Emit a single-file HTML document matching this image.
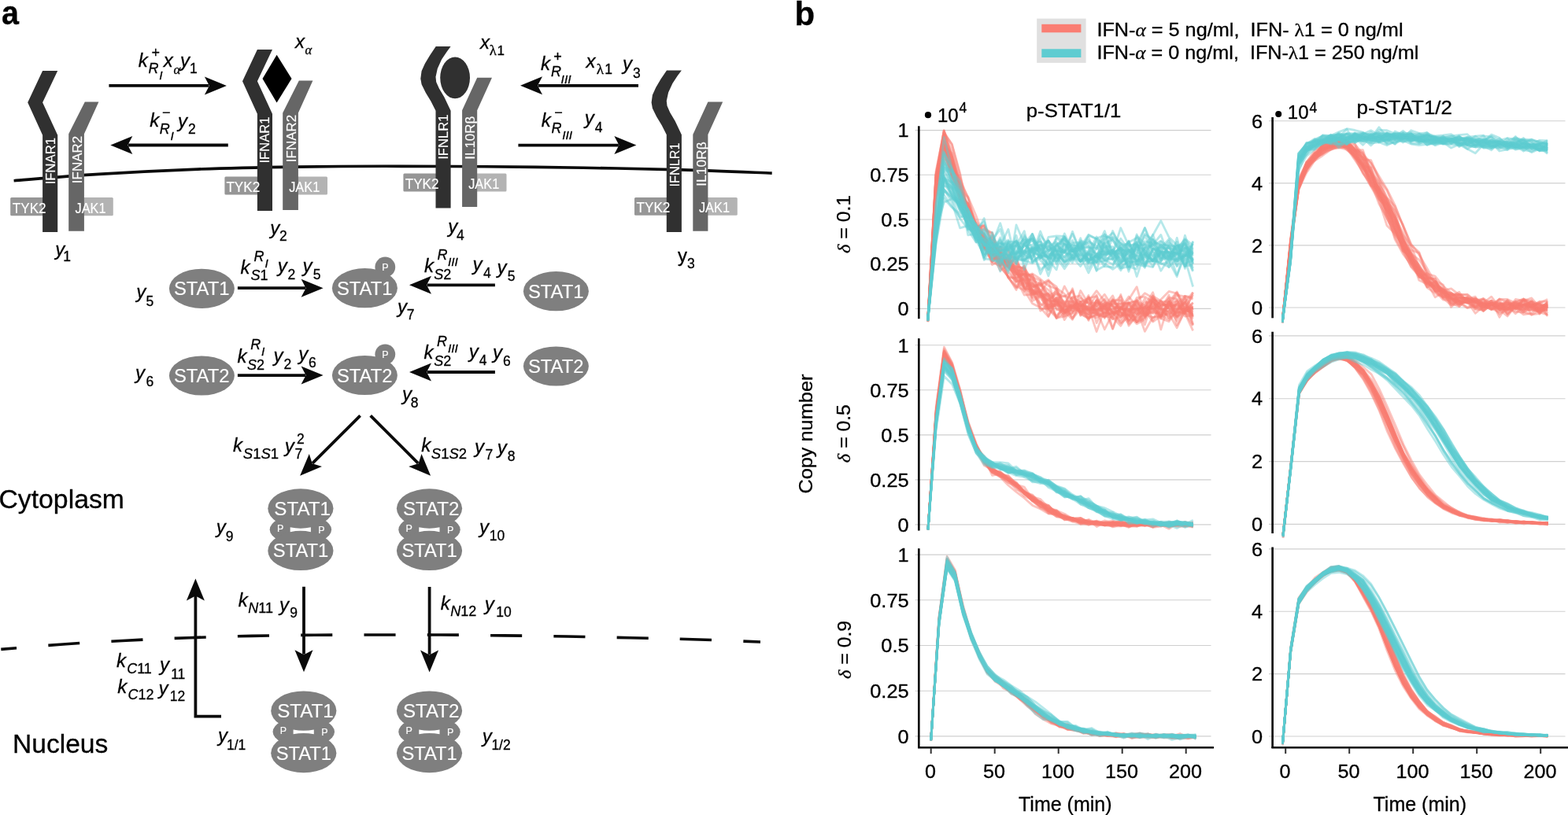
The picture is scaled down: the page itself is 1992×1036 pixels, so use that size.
<!DOCTYPE html>
<html><head><meta charset="utf-8"><title>Figure</title>
<style>html,body{margin:0;padding:0;background:#fff;}svg{display:block;} text{stroke:#000;stroke-width:0.3px;} text[fill="#fff"]{stroke:#fff;stroke-width:0.15px;}</style>
</head><body>
<svg width="1992" height="1036" viewBox="0 0 1992 1036" font-family='"Liberation Sans", Arial, Helvetica, sans-serif'>
<rect width="1992" height="1036" fill="#fff"/>
<path d="M17.6,229.7 C35.6,228.3 86.6,223.8 125.5,221.4 C164.4,219.0 209.2,216.7 251.0,215.1 C292.8,213.5 336.7,212.7 376.5,212.1 C416.3,211.5 450.2,211.4 490.0,211.3 C529.8,211.2 573.7,211.5 615.5,211.8 C657.3,212.1 699.2,212.6 741.0,213.3 C782.8,214.0 826.5,214.8 866.5,215.9 C906.5,217.0 961.7,219.4 980.7,220.1" fill="none" stroke="#0a0a0a" stroke-width="3.6"/>
<rect x="13.2" y="251.1" width="46.8" height="23.2" rx="1.5" fill="#969696"/>
<rect x="100.0" y="251.1" width="43.8" height="23.2" rx="1.5" fill="#b3b3b3"/>
<rect x="285.4" y="224.6" width="47.6" height="23.0" rx="1.5" fill="#969696"/>
<rect x="372.0" y="224.6" width="44.0" height="23.0" rx="1.5" fill="#b3b3b3"/>
<rect x="512.4" y="220.5" width="47.6" height="23.0" rx="1.5" fill="#969696"/>
<rect x="600.0" y="220.5" width="43.5" height="23.0" rx="1.5" fill="#b3b3b3"/>
<rect x="806.0" y="250.9" width="47.0" height="22.9" rx="1.5" fill="#969696"/>
<rect x="893.0" y="250.9" width="43.8" height="22.9" rx="1.5" fill="#b3b3b3"/>
<polygon points="54.1,90.0 73.2,90.0 54.1,130.2 73.2,171.8 73.2,295.0 54.1,295.0 54.1,171.8 35.2,130.2" fill="#303030"/>
<polygon points="107.8,129.4 125.4,129.4 106.9,170.3 106.9,293.8 87.2,293.8 87.2,170.3" fill="#666666"/>
<polygon points="326.9,63.0 346.0,63.0 326.9,103.2 346.0,144.8 346.0,268.0 326.9,268.0 326.9,144.8 308.0,103.2" fill="#303030"/>
<polygon points="379.8,102.6 397.4,102.6 378.9,143.5 378.9,267.0 359.2,267.0 359.2,143.5" fill="#666666"/>
<polygon points="553.7,59.0 572.6,59.0 567.5,65.9 561.1,75.5 555.8,87.2 553.5,97.8 554.2,104.2 557.9,112.6 564.3,123.3 572.6,140.8 572.6,264.6 553.5,264.6 553.5,140.8 547.3,128.6 540.9,118.0 535.6,107.3 534.3,99.9 535.6,90.3 539.9,80.8 546.2,70.2" fill="#303030"/>
<polygon points="606.2,98.8 625.0,98.8 606.2,140.3 606.2,263.0 587.1,263.0 587.1,140.3" fill="#666666"/>
<polygon points="847.0,89.4 865.9,89.4 860.8,96.3 854.4,105.9 849.1,117.6 846.8,128.2 847.5,134.6 851.2,143.0 857.6,153.7 865.9,171.2 865.9,295.0 846.8,295.0 846.8,171.2 840.6,159.0 834.2,148.4 828.9,137.7 827.6,130.3 828.9,120.7 833.2,111.2 839.5,100.6" fill="#303030"/>
<polygon points="899.4,129.5 918.2,129.5 899.4,171.0 899.4,293.7 880.3,293.7 880.3,171.0" fill="#666666"/>
<polygon points="351.6,69.7 370.5,100.0 351.6,130.5 333.5,100.0" fill="#000"/>
<ellipse cx="578.1" cy="98.8" rx="18.9" ry="26.4" fill="#303030"/>
<text x="15.8" y="270.8" font-size="17.5" fill="#fff" textLength="42.8" lengthAdjust="spacingAndGlyphs">TYK2</text>
<text x="95.5" y="270.8" font-size="17.5" fill="#fff" textLength="39.1" lengthAdjust="spacingAndGlyphs">JAK1</text>
<text x="287.4" y="243.9" font-size="17.5" fill="#fff" textLength="42.8" lengthAdjust="spacingAndGlyphs">TYK2</text>
<text x="367.2" y="243.9" font-size="17.5" fill="#fff" textLength="39.1" lengthAdjust="spacingAndGlyphs">JAK1</text>
<text x="514.7" y="240.4" font-size="17.5" fill="#fff" textLength="42.8" lengthAdjust="spacingAndGlyphs">TYK2</text>
<text x="595.2" y="240.4" font-size="17.5" fill="#fff" textLength="39.1" lengthAdjust="spacingAndGlyphs">JAK1</text>
<text x="808.6" y="269.8" font-size="17.5" fill="#fff" textLength="42.8" lengthAdjust="spacingAndGlyphs">TYK2</text>
<text x="887.9" y="269.8" font-size="17.5" fill="#fff" textLength="39.1" lengthAdjust="spacingAndGlyphs">JAK1</text>
<text x="69.6" y="234.3" font-size="17" fill="#fff" transform="rotate(-90 69.6 234.3)" textLength="59.4" lengthAdjust="spacingAndGlyphs">IFNAR1</text>
<text x="104.0" y="233.2" font-size="17" fill="#fff" transform="rotate(-90 104.0 233.2)">IFNAR2</text>
<text x="342.4" y="207.5" font-size="17" fill="#fff" transform="rotate(-90 342.4 207.5)" textLength="59.0" lengthAdjust="spacingAndGlyphs">IFNAR1</text>
<text x="376.0" y="206.2" font-size="17" fill="#fff" transform="rotate(-90 376.0 206.2)">IFNAR2</text>
<text x="568.8" y="202.8" font-size="17" fill="#fff" transform="rotate(-90 568.8 202.8)" textLength="57.2" lengthAdjust="spacingAndGlyphs">IFNLR1</text>
<text x="603.0" y="202.8" font-size="17" fill="#fff" transform="rotate(-90 603.0 202.8)">IL10Rβ</text>
<text x="863.1" y="237.4" font-size="17" fill="#fff" transform="rotate(-90 863.1 237.4)" textLength="56.0" lengthAdjust="spacingAndGlyphs">IFNLR1</text>
<text x="897.5" y="236.8" font-size="17" fill="#fff" transform="rotate(-90 897.5 236.8)" textLength="56.5" lengthAdjust="spacingAndGlyphs">IL10Rβ</text>
<line x1="138.4" y1="108.9" x2="265.4" y2="108.9" stroke="#0a0a0a" stroke-width="3.8"/>
<polygon points="287.9,108.9 259.9,120.4 265.9,108.9 259.9,97.4" fill="#0a0a0a"/>
<line x1="289.8" y1="184.5" x2="162.8" y2="184.5" stroke="#0a0a0a" stroke-width="3.8"/>
<polygon points="140.3,184.5 168.3,173.0 162.3,184.5 168.3,196.0" fill="#0a0a0a"/>
<line x1="811.0" y1="108.8" x2="683.5" y2="108.8" stroke="#0a0a0a" stroke-width="3.8"/>
<polygon points="661.0,108.8 689.0,97.3 683.0,108.8 689.0,120.3" fill="#0a0a0a"/>
<line x1="658.4" y1="184.6" x2="785.9" y2="184.6" stroke="#0a0a0a" stroke-width="3.8"/>
<polygon points="808.4,184.6 780.4,196.1 786.4,184.6 780.4,173.1" fill="#0a0a0a"/>
<line x1="301.9" y1="366.2" x2="388.1" y2="366.2" stroke="#0a0a0a" stroke-width="3.8"/>
<polygon points="410.6,366.2 382.6,377.7 388.6,366.2 382.6,354.7" fill="#0a0a0a"/>
<line x1="628.9" y1="362.3" x2="542.5" y2="362.3" stroke="#0a0a0a" stroke-width="3.8"/>
<polygon points="520.0,362.3 548.0,350.8 542.0,362.3 548.0,373.8" fill="#0a0a0a"/>
<line x1="301.9" y1="477.1" x2="388.1" y2="477.1" stroke="#0a0a0a" stroke-width="3.8"/>
<polygon points="410.6,477.1 382.6,488.6 388.6,477.1 382.6,465.6" fill="#0a0a0a"/>
<line x1="628.9" y1="473.0" x2="542.5" y2="473.0" stroke="#0a0a0a" stroke-width="3.8"/>
<polygon points="520.0,473.0 548.0,461.5 542.0,473.0 548.0,484.5" fill="#0a0a0a"/>
<line x1="457.6" y1="528.3" x2="397.0" y2="588.9" stroke="#0a0a0a" stroke-width="3.8"/>
<polygon points="381.1,604.8 392.8,576.9 396.7,589.2 409.0,593.1" fill="#0a0a0a"/>
<line x1="470.7" y1="528.3" x2="531.2" y2="588.9" stroke="#0a0a0a" stroke-width="3.8"/>
<polygon points="547.1,604.8 519.2,593.1 531.6,589.2 535.5,576.9" fill="#0a0a0a"/>
<line x1="386.0" y1="745.8" x2="386.0" y2="831.7" stroke="#0a0a0a" stroke-width="3.8"/>
<polygon points="386.0,854.2 374.5,826.2 386.0,832.2 397.5,826.2" fill="#0a0a0a"/>
<line x1="545.6" y1="746.0" x2="545.6" y2="831.9" stroke="#0a0a0a" stroke-width="3.8"/>
<polygon points="545.6,854.4 534.1,826.4 545.6,832.4 557.1,826.4" fill="#0a0a0a"/>
<polyline points="281,910.7 248.4,910.7 248.4,757" fill="none" stroke="#0a0a0a" stroke-width="3.8"/>
<polygon points="248.4,735.6 259.9,763.6 248.4,757.6 236.9,763.6" fill="#0a0a0a"/>
<path d="M1.3,825.4 C14.4,824.3 53.5,820.9 80.0,819.0 C106.5,817.1 133.3,815.6 160.0,814.2 C186.7,812.8 213.3,811.7 240.0,810.7 C266.7,809.7 293.3,809.0 320.0,808.4 C346.7,807.8 373.3,807.4 400.0,807.2 C426.7,807.0 453.3,807.0 480.0,807.0 C506.7,807.0 533.3,806.9 560.0,807.0 C586.7,807.1 613.3,807.6 640.0,807.9 C666.7,808.2 693.3,808.5 720.0,809.0 C746.7,809.5 773.3,810.1 800.0,810.7 C826.7,811.3 852.3,811.8 880.0,812.7 C907.7,813.6 951.7,815.5 966.0,816.0" fill="none" stroke="#0a0a0a" stroke-width="3.6" stroke-dasharray="40.1 40.2" stroke-dashoffset="20.1"/>
<ellipse cx="256.4" cy="366.8" rx="41.5" ry="25.1" fill="#7f7f7f"/>
<text x="220.9" y="375.4" font-size="23.5" fill="#fff" textLength="70.6" lengthAdjust="spacingAndGlyphs">STAT1</text>
<circle cx="489.3" cy="339.5" r="12.9" fill="#7f7f7f"/>
<ellipse cx="463.4" cy="366.2" rx="41.5" ry="25.1" fill="#7f7f7f"/>
<text x="427.9" y="374.8" font-size="23.5" fill="#fff" textLength="70.6" lengthAdjust="spacingAndGlyphs">STAT1</text>
<text x="485.2" y="344.1" font-size="12.5" fill="#fff">P</text>
<ellipse cx="706.4" cy="370.2" rx="41.5" ry="25.1" fill="#7f7f7f"/>
<text x="670.9" y="378.8" font-size="23.5" fill="#fff" textLength="70.6" lengthAdjust="spacingAndGlyphs">STAT1</text>
<ellipse cx="256.4" cy="477.5" rx="41.5" ry="25.1" fill="#7f7f7f"/>
<text x="220.9" y="486.1" font-size="23.5" fill="#fff" textLength="70.6" lengthAdjust="spacingAndGlyphs">STAT2</text>
<circle cx="489.3" cy="450.3" r="12.9" fill="#7f7f7f"/>
<ellipse cx="463.4" cy="477.0" rx="41.5" ry="25.1" fill="#7f7f7f"/>
<text x="427.9" y="485.6" font-size="23.5" fill="#fff" textLength="70.6" lengthAdjust="spacingAndGlyphs">STAT2</text>
<text x="485.2" y="454.9" font-size="12.5" fill="#fff">P</text>
<ellipse cx="706.4" cy="465.5" rx="41.5" ry="25.1" fill="#7f7f7f"/>
<text x="670.9" y="474.1" font-size="23.5" fill="#fff" textLength="70.6" lengthAdjust="spacingAndGlyphs">STAT2</text>
<ellipse cx="381.9" cy="673.2" rx="39.2" ry="19" fill="#7f7f7f"/>
<ellipse cx="381.9" cy="646.3" rx="41.6" ry="25" fill="#7f7f7f"/>
<ellipse cx="381.9" cy="700.1" rx="41.6" ry="25" fill="#7f7f7f"/>
<text x="348.3" y="655.1" font-size="23.5" fill="#fff" textLength="71.6" lengthAdjust="spacingAndGlyphs">STAT1</text>
<text x="346.8" y="708.4" font-size="23.5" fill="#fff" textLength="70.4" lengthAdjust="spacingAndGlyphs">STAT1</text>
<text x="351.9" y="676.0" font-size="12.5" fill="#fff">P</text>
<text x="404.3" y="678.2" font-size="12.5" fill="#fff">P</text>
<path d="M368.7,670.3 Q381.9,673.1 394.9,670.3 L394.9,676.2 Q381.9,673.5 368.7,676.2 Z" fill="#fff"/>
<ellipse cx="545.5" cy="673.2" rx="39.2" ry="19" fill="#7f7f7f"/>
<ellipse cx="545.5" cy="646.3" rx="41.6" ry="25" fill="#7f7f7f"/>
<ellipse cx="545.5" cy="700.1" rx="41.6" ry="25" fill="#7f7f7f"/>
<text x="511.9" y="655.1" font-size="23.5" fill="#fff" textLength="71.6" lengthAdjust="spacingAndGlyphs">STAT2</text>
<text x="510.4" y="708.4" font-size="23.5" fill="#fff" textLength="70.4" lengthAdjust="spacingAndGlyphs">STAT1</text>
<text x="515.5" y="676.0" font-size="12.5" fill="#fff">P</text>
<text x="567.9" y="678.2" font-size="12.5" fill="#fff">P</text>
<path d="M532.3,670.3 Q545.5,673.1 558.5,670.3 L558.5,676.2 Q545.5,673.5 532.3,676.2 Z" fill="#fff"/>
<ellipse cx="385.8" cy="930.3" rx="39.2" ry="19" fill="#7f7f7f"/>
<ellipse cx="385.8" cy="903.4" rx="41.6" ry="25" fill="#7f7f7f"/>
<ellipse cx="385.8" cy="957.2" rx="41.6" ry="25" fill="#7f7f7f"/>
<text x="352.2" y="912.2" font-size="23.5" fill="#fff" textLength="71.6" lengthAdjust="spacingAndGlyphs">STAT1</text>
<text x="350.7" y="965.5" font-size="23.5" fill="#fff" textLength="70.4" lengthAdjust="spacingAndGlyphs">STAT1</text>
<text x="355.8" y="933.1" font-size="12.5" fill="#fff">P</text>
<text x="408.2" y="935.3" font-size="12.5" fill="#fff">P</text>
<path d="M372.6,927.4 Q385.8,930.2 398.8,927.4 L398.8,933.3 Q385.8,930.6 372.6,933.3 Z" fill="#fff"/>
<ellipse cx="545.5" cy="930.3" rx="39.2" ry="19" fill="#7f7f7f"/>
<ellipse cx="545.5" cy="903.4" rx="41.6" ry="25" fill="#7f7f7f"/>
<ellipse cx="545.5" cy="957.2" rx="41.6" ry="25" fill="#7f7f7f"/>
<text x="511.9" y="912.2" font-size="23.5" fill="#fff" textLength="71.6" lengthAdjust="spacingAndGlyphs">STAT2</text>
<text x="510.4" y="965.5" font-size="23.5" fill="#fff" textLength="70.4" lengthAdjust="spacingAndGlyphs">STAT1</text>
<text x="515.5" y="933.1" font-size="12.5" fill="#fff">P</text>
<text x="567.9" y="935.3" font-size="12.5" fill="#fff">P</text>
<path d="M532.3,927.4 Q545.5,930.2 558.5,927.4 L558.5,933.3 Q545.5,930.6 532.3,933.3 Z" fill="#fff"/>
<text x="2.0" y="30.7" font-size="43" font-weight="bold" transform="translate(2 0) scale(0.92 1) translate(-2 0)">a</text>
<text x="-1.6" y="646.0" font-size="33" textLength="159.6" lengthAdjust="spacingAndGlyphs">Cytoplasm</text>
<text x="16.0" y="957.2" font-size="33.5" textLength="121.3" lengthAdjust="spacingAndGlyphs">Nucleus</text>
<text x="175.8" y="84.7" font-size="24" font-style="italic">k</text>
<text x="192.5" y="73.2" font-size="18">+</text>
<text x="188.5" y="93.2" font-size="18" font-style="italic">R</text>
<text x="202.3" y="101.3" font-size="15.5" font-style="italic">I</text>
<text x="207.8" y="84.7" font-size="24" font-style="italic">x</text>
<text x="220.4" y="93.5" font-size="17" font-style="italic" font-family="'Liberation Serif', serif">α</text>
<text x="229.0" y="85.0" font-size="24" font-style="italic">y</text>
<text x="241.0" y="92.8" font-size="17.5">1</text>
<text x="190.2" y="161.1" font-size="24" font-style="italic">k</text>
<text x="206.0" y="149.0" font-size="18">−</text>
<text x="202.8" y="169.9" font-size="18" font-style="italic">R</text>
<text x="216.4" y="178.0" font-size="15.5" font-style="italic">I</text>
<text x="226.0" y="161.6" font-size="24" font-style="italic">y</text>
<text x="238.9" y="169.9" font-size="17.5">2</text>
<text x="687.0" y="88.7" font-size="24" font-style="italic">k</text>
<text x="703.3" y="78.3" font-size="18">+</text>
<text x="700.0" y="97.2" font-size="18" font-style="italic">R</text>
<text x="712.6" y="105.8" font-size="15.5" font-style="italic">III</text>
<text x="744.6" y="85.9" font-size="24" font-style="italic">x</text>
<text x="757.8" y="93.8" font-size="19" font-family="'Liberation Serif', serif">λ</text>
<text x="768.3" y="93.8" font-size="17.5">1</text>
<text x="791.0" y="89.3" font-size="24" font-style="italic">y</text>
<text x="804.0" y="98.7" font-size="17.5">3</text>
<text x="687.8" y="160.5" font-size="24" font-style="italic">k</text>
<text x="704.2" y="148.5" font-size="18">−</text>
<text x="700.6" y="168.8" font-size="18" font-style="italic">R</text>
<text x="714.2" y="177.0" font-size="15.5" font-style="italic">III</text>
<text x="742.8" y="158.3" font-size="24" font-style="italic">y</text>
<text x="755.7" y="167.6" font-size="17.5">4</text>
<text x="375.0" y="60.6" font-size="24" font-style="italic">x</text>
<text x="387.5" y="68.9" font-size="16.5" font-style="italic" font-family="'Liberation Serif', serif">α</text>
<text x="610.0" y="62.1" font-size="24" font-style="italic">x</text>
<text x="621.8" y="70.4" font-size="18.5" font-family="'Liberation Serif', serif">λ</text>
<text x="631.4" y="69.9" font-size="17">1</text>
<text x="70.2" y="325.2" font-size="24" font-style="italic">y</text>
<text x="80.2" y="332.4" font-size="17.5">1</text>
<text x="343.2" y="297.5" font-size="24" font-style="italic">y</text>
<text x="354.9" y="306.2" font-size="17.5">2</text>
<text x="569.3" y="295.7" font-size="24" font-style="italic">y</text>
<text x="580.0" y="305.4" font-size="17.5">4</text>
<text x="861.0" y="332.5" font-size="24">y</text>
<text x="873.0" y="341.0" font-size="17.5">3</text>
<text x="305.6" y="347.8" font-size="24" font-style="italic">k</text>
<text x="318.5" y="356.2" font-size="18"><tspan font-style="italic">S</tspan>1</text>
<text x="322.6" y="331.9" font-size="18" font-style="italic">R</text>
<text x="336.4" y="339.7" font-size="15.5" font-style="italic">I</text>
<text x="352.7" y="345.6" font-size="24" font-style="italic">y</text>
<text x="365.6" y="354.8" font-size="17.5">2</text>
<text x="384.6" y="345.6" font-size="24" font-style="italic">y</text>
<text x="397.8" y="354.8" font-size="17.5">5</text>
<text x="538.9" y="346.4" font-size="24" font-style="italic">k</text>
<text x="551.2" y="355.3" font-size="18"><tspan font-style="italic">S</tspan>2</text>
<text x="555.6" y="329.8" font-size="18" font-style="italic">R</text>
<text x="568.9" y="338.0" font-size="15.5" font-style="italic">III</text>
<text x="600.6" y="343.9" font-size="24" font-style="italic">y</text>
<text x="613.9" y="353.0" font-size="17.5">4</text>
<text x="631.5" y="347.5" font-size="24" font-style="italic">y</text>
<text x="644.7" y="356.6" font-size="17.5">5</text>
<text x="301.5" y="461.4" font-size="24" font-style="italic">k</text>
<text x="314.1" y="470.3" font-size="18"><tspan font-style="italic">S</tspan>2</text>
<text x="318.2" y="443.8" font-size="18" font-style="italic">R</text>
<text x="331.9" y="452.0" font-size="15.5" font-style="italic">I</text>
<text x="347.5" y="459.6" font-size="24" font-style="italic">y</text>
<text x="360.4" y="468.6" font-size="17.5">2</text>
<text x="379.2" y="458.3" font-size="24" font-style="italic">y</text>
<text x="392.1" y="467.0" font-size="17.5">6</text>
<text x="538.6" y="456.0" font-size="24" font-style="italic">k</text>
<text x="551.2" y="464.9" font-size="18"><tspan font-style="italic">S</tspan>2</text>
<text x="555.0" y="439.8" font-size="18" font-style="italic">R</text>
<text x="568.9" y="447.6" font-size="15.5" font-style="italic">III</text>
<text x="595.7" y="454.9" font-size="24" font-style="italic">y</text>
<text x="608.7" y="463.6" font-size="17.5">4</text>
<text x="626.1" y="455.6" font-size="24" font-style="italic">y</text>
<text x="639.0" y="464.9" font-size="17.5">6</text>
<text x="173.2" y="379.0" font-size="24" font-style="italic">y</text>
<text x="185.5" y="389.0" font-size="17.5">5</text>
<text x="172.1" y="482.0" font-size="24" font-style="italic">y</text>
<text x="185.5" y="491.2" font-size="17.5">6</text>
<text x="505.0" y="397.8" font-size="24" font-style="italic">y</text>
<text x="516.8" y="405.6" font-size="17.5">7</text>
<text x="511.0" y="509.0" font-size="24" font-style="italic">y</text>
<text x="521.7" y="518.0" font-size="17.5">8</text>
<text x="274.7" y="678.2" font-size="24" font-style="italic">y</text>
<text x="286.8" y="687.6" font-size="17.5">9</text>
<text x="609.0" y="677.8" font-size="24" font-style="italic">y</text>
<text x="621.8" y="686.8" font-size="17.5">10</text>
<text x="277.0" y="943.3" font-size="24" font-style="italic">y</text>
<text x="288.0" y="952.9" font-size="17.5">1/1</text>
<text x="612.8" y="944.0" font-size="24" font-style="italic">y</text>
<text x="624.4" y="953.2" font-size="17.5">1/2</text>
<text x="296.0" y="574.0" font-size="24" font-style="italic">k</text>
<text x="308.8" y="583.1" font-size="18.5"><tspan font-style="italic">S</tspan>1<tspan font-style="italic">S</tspan>1</text>
<text x="361.7" y="574.6" font-size="24" font-style="italic">y</text>
<text x="377.0" y="564.0" font-size="17.5">2</text>
<text x="374.6" y="582.8" font-size="17.5">7</text>
<text x="535.2" y="574.1" font-size="24" font-style="italic">k</text>
<text x="547.8" y="582.6" font-size="18.5"><tspan font-style="italic">S</tspan>1<tspan font-style="italic">S</tspan>2</text>
<text x="603.0" y="575.5" font-size="24" font-style="italic">y</text>
<text x="616.4" y="584.0" font-size="17.5">7</text>
<text x="631.8" y="576.8" font-size="24" font-style="italic">y</text>
<text x="644.8" y="586.0" font-size="17.5">8</text>
<text x="302.8" y="770.9" font-size="24" font-style="italic">k</text>
<text x="315.3" y="779.1" font-size="18"><tspan font-style="italic">N</tspan>11</text>
<text x="355.0" y="776.6" font-size="24" font-style="italic">y</text>
<text x="368.3" y="785.2" font-size="17.5">9</text>
<text x="559.8" y="775.0" font-size="24" font-style="italic">k</text>
<text x="572.3" y="783.4" font-size="18"><tspan font-style="italic">N</tspan>12</text>
<text x="615.8" y="775.6" font-size="24" font-style="italic">y</text>
<text x="630.3" y="783.7" font-size="17.5">10</text>
<text x="148.1" y="847.8" font-size="24" font-style="italic">k</text>
<text x="161.2" y="856.3" font-size="18"><tspan font-style="italic">C</tspan>11</text>
<text x="202.9" y="853.4" font-size="24" font-style="italic">y</text>
<text x="217.2" y="862.5" font-size="17.5">11</text>
<text x="149.2" y="880.6" font-size="24" font-style="italic">k</text>
<text x="162.4" y="888.8" font-size="18"><tspan font-style="italic">C</tspan>12</text>
<text x="201.4" y="882.7" font-size="24" font-style="italic">y</text>
<text x="215.7" y="890.7" font-size="17.5">12</text>
<line x1="1162.7" y1="392.4" x2="1538.5" y2="392.4" stroke="#cfcfcf" stroke-width="1.1"/>
<text x="1140.6" y="401.1" font-size="24" textLength="14.1" lengthAdjust="spacingAndGlyphs">0</text>
<line x1="1162.7" y1="335.7" x2="1538.5" y2="335.7" stroke="#cfcfcf" stroke-width="1.1"/>
<text x="1105.2" y="344.4" font-size="24" textLength="49.5" lengthAdjust="spacingAndGlyphs">0.25</text>
<line x1="1162.7" y1="279.0" x2="1538.5" y2="279.0" stroke="#cfcfcf" stroke-width="1.1"/>
<text x="1119.3" y="287.7" font-size="24" textLength="35.4" lengthAdjust="spacingAndGlyphs">0.5</text>
<line x1="1162.7" y1="222.3" x2="1538.5" y2="222.3" stroke="#cfcfcf" stroke-width="1.1"/>
<text x="1105.2" y="231.0" font-size="24" textLength="49.5" lengthAdjust="spacingAndGlyphs">0.75</text>
<line x1="1162.7" y1="165.6" x2="1538.5" y2="165.6" stroke="#cfcfcf" stroke-width="1.1"/>
<text x="1140.6" y="174.3" font-size="24" textLength="14.1" lengthAdjust="spacingAndGlyphs">1</text>
<line x1="1162.7" y1="666.9" x2="1538.5" y2="666.9" stroke="#cfcfcf" stroke-width="1.1"/>
<text x="1140.6" y="675.6" font-size="24" textLength="14.1" lengthAdjust="spacingAndGlyphs">0</text>
<line x1="1162.7" y1="609.9" x2="1538.5" y2="609.9" stroke="#cfcfcf" stroke-width="1.1"/>
<text x="1105.2" y="618.6" font-size="24" textLength="49.5" lengthAdjust="spacingAndGlyphs">0.25</text>
<line x1="1162.7" y1="552.9" x2="1538.5" y2="552.9" stroke="#cfcfcf" stroke-width="1.1"/>
<text x="1119.3" y="561.6" font-size="24" textLength="35.4" lengthAdjust="spacingAndGlyphs">0.5</text>
<line x1="1162.7" y1="495.8" x2="1538.5" y2="495.8" stroke="#cfcfcf" stroke-width="1.1"/>
<text x="1105.2" y="504.5" font-size="24" textLength="49.5" lengthAdjust="spacingAndGlyphs">0.75</text>
<line x1="1162.7" y1="438.8" x2="1538.5" y2="438.8" stroke="#cfcfcf" stroke-width="1.1"/>
<text x="1140.6" y="447.5" font-size="24" textLength="14.1" lengthAdjust="spacingAndGlyphs">1</text>
<line x1="1162.7" y1="935.9" x2="1538.5" y2="935.9" stroke="#cfcfcf" stroke-width="1.1"/>
<text x="1140.6" y="944.6" font-size="24" textLength="14.1" lengthAdjust="spacingAndGlyphs">0</text>
<line x1="1162.7" y1="878.2" x2="1538.5" y2="878.2" stroke="#cfcfcf" stroke-width="1.1"/>
<text x="1105.2" y="886.9" font-size="24" textLength="49.5" lengthAdjust="spacingAndGlyphs">0.25</text>
<line x1="1162.7" y1="820.5" x2="1538.5" y2="820.5" stroke="#cfcfcf" stroke-width="1.1"/>
<text x="1119.3" y="829.2" font-size="24" textLength="35.4" lengthAdjust="spacingAndGlyphs">0.5</text>
<line x1="1162.7" y1="762.8" x2="1538.5" y2="762.8" stroke="#cfcfcf" stroke-width="1.1"/>
<text x="1105.2" y="771.5" font-size="24" textLength="49.5" lengthAdjust="spacingAndGlyphs">0.75</text>
<line x1="1162.7" y1="705.1" x2="1538.5" y2="705.1" stroke="#cfcfcf" stroke-width="1.1"/>
<text x="1140.6" y="713.8" font-size="24" textLength="14.1" lengthAdjust="spacingAndGlyphs">1</text>
<line x1="1612.0" y1="391.0" x2="1988.5" y2="391.0" stroke="#cfcfcf" stroke-width="1.1"/>
<text x="1589.9" y="399.7" font-size="24" textLength="14.1" lengthAdjust="spacingAndGlyphs">0</text>
<line x1="1612.0" y1="311.9" x2="1988.5" y2="311.9" stroke="#cfcfcf" stroke-width="1.1"/>
<text x="1589.9" y="320.6" font-size="24" textLength="14.1" lengthAdjust="spacingAndGlyphs">2</text>
<line x1="1612.0" y1="232.9" x2="1988.5" y2="232.9" stroke="#cfcfcf" stroke-width="1.1"/>
<text x="1589.9" y="241.6" font-size="24" textLength="14.1" lengthAdjust="spacingAndGlyphs">4</text>
<line x1="1612.0" y1="153.8" x2="1988.5" y2="153.8" stroke="#cfcfcf" stroke-width="1.1"/>
<text x="1589.9" y="162.5" font-size="24" textLength="14.1" lengthAdjust="spacingAndGlyphs">6</text>
<line x1="1612.0" y1="666.4" x2="1988.5" y2="666.4" stroke="#cfcfcf" stroke-width="1.1"/>
<text x="1589.9" y="675.1" font-size="24" textLength="14.1" lengthAdjust="spacingAndGlyphs">0</text>
<line x1="1612.0" y1="586.6" x2="1988.5" y2="586.6" stroke="#cfcfcf" stroke-width="1.1"/>
<text x="1589.9" y="595.3" font-size="24" textLength="14.1" lengthAdjust="spacingAndGlyphs">2</text>
<line x1="1612.0" y1="506.7" x2="1988.5" y2="506.7" stroke="#cfcfcf" stroke-width="1.1"/>
<text x="1589.9" y="515.4" font-size="24" textLength="14.1" lengthAdjust="spacingAndGlyphs">4</text>
<line x1="1612.0" y1="426.9" x2="1988.5" y2="426.9" stroke="#cfcfcf" stroke-width="1.1"/>
<text x="1589.9" y="435.6" font-size="24" textLength="14.1" lengthAdjust="spacingAndGlyphs">6</text>
<line x1="1612.0" y1="936.0" x2="1988.5" y2="936.0" stroke="#cfcfcf" stroke-width="1.1"/>
<text x="1589.9" y="944.7" font-size="24" textLength="14.1" lengthAdjust="spacingAndGlyphs">0</text>
<line x1="1612.0" y1="856.6" x2="1988.5" y2="856.6" stroke="#cfcfcf" stroke-width="1.1"/>
<text x="1589.9" y="865.3" font-size="24" textLength="14.1" lengthAdjust="spacingAndGlyphs">2</text>
<line x1="1612.0" y1="777.3" x2="1988.5" y2="777.3" stroke="#cfcfcf" stroke-width="1.1"/>
<text x="1589.9" y="786.0" font-size="24" textLength="14.1" lengthAdjust="spacingAndGlyphs">4</text>
<line x1="1612.0" y1="697.9" x2="1988.5" y2="697.9" stroke="#cfcfcf" stroke-width="1.1"/>
<text x="1589.9" y="706.6" font-size="24" textLength="14.1" lengthAdjust="spacingAndGlyphs">6</text>
<g fill="none" stroke="#F97C71" stroke-width="2.8" stroke-opacity="0.45" stroke-linejoin="round">
<polyline points="1178.8,407.4 1189.0,239.9 1199.2,179.9 1209.4,199.3 1219.6,242.0 1229.8,268.5 1240.0,283.8 1250.3,300.7 1260.5,315.0 1270.7,333.8 1280.9,332.8 1291.1,335.7 1301.3,366.8 1311.5,368.1 1321.7,391.9 1331.9,393.0 1342.1,403.9 1352.3,391.0 1362.5,403.8 1372.7,389.0 1382.9,390.8 1393.1,394.6 1403.3,418.7 1413.6,398.7 1423.8,393.8 1434.0,392.2 1444.2,409.1 1454.4,398.5 1464.6,403.7 1474.8,402.1 1485.0,383.1 1495.2,402.3 1505.4,394.4 1515.6,385.2"/>
<polyline points="1178.8,408.5 1189.0,232.5 1199.2,184.7 1209.4,195.1 1219.6,234.0 1229.8,273.3 1240.0,289.4 1250.3,301.7 1260.5,319.9 1270.7,319.0 1280.9,336.1 1291.1,338.8 1301.3,341.2 1311.5,372.2 1321.7,371.1 1331.9,383.8 1342.1,381.8 1352.3,397.8 1362.5,393.0 1372.7,389.9 1382.9,379.0 1393.1,376.7 1403.3,402.2 1413.6,396.9 1423.8,382.3 1434.0,409.4 1444.2,393.8 1454.4,390.2 1464.6,376.5 1474.8,382.4 1485.0,392.9 1495.2,393.4 1505.4,392.3 1515.6,374.3"/>
<polyline points="1178.8,406.7 1189.0,233.0 1199.2,185.4 1209.4,208.8 1219.6,246.0 1229.8,262.5 1240.0,291.9 1250.3,302.5 1260.5,332.7 1270.7,323.8 1280.9,352.6 1291.1,366.1 1301.3,358.3 1311.5,374.1 1321.7,371.8 1331.9,357.4 1342.1,393.6 1352.3,394.7 1362.5,388.2 1372.7,386.2 1382.9,393.5 1393.1,394.1 1403.3,385.1 1413.6,387.2 1423.8,403.1 1434.0,393.5 1444.2,392.4 1454.4,403.6 1464.6,390.3 1474.8,401.8 1485.0,383.3 1495.2,391.3 1505.4,392.5 1515.6,399.5"/>
<polyline points="1178.8,404.8 1189.0,223.1 1199.2,172.5 1209.4,213.5 1219.6,226.4 1229.8,252.4 1240.0,289.6 1250.3,311.4 1260.5,323.8 1270.7,343.8 1280.9,336.7 1291.1,363.9 1301.3,369.1 1311.5,385.7 1321.7,391.0 1331.9,402.7 1342.1,380.1 1352.3,396.6 1362.5,386.1 1372.7,396.3 1382.9,403.8 1393.1,400.4 1403.3,402.9 1413.6,397.2 1423.8,401.3 1434.0,400.6 1444.2,411.7 1454.4,406.0 1464.6,381.0 1474.8,404.8 1485.0,408.8 1495.2,394.7 1505.4,383.9 1515.6,413.2"/>
<polyline points="1178.8,405.3 1189.0,238.2 1199.2,194.4 1209.4,221.6 1219.6,232.4 1229.8,268.6 1240.0,285.9 1250.3,305.5 1260.5,321.6 1270.7,330.9 1280.9,327.9 1291.1,347.7 1301.3,356.4 1311.5,364.8 1321.7,362.1 1331.9,374.4 1342.1,382.6 1352.3,395.7 1362.5,406.3 1372.7,383.5 1382.9,383.8 1393.1,395.4 1403.3,388.7 1413.6,386.5 1423.8,386.1 1434.0,385.3 1444.2,399.4 1454.4,379.4 1464.6,407.7 1474.8,386.3 1485.0,390.2 1495.2,386.4 1505.4,376.2 1515.6,380.4"/>
<polyline points="1178.8,409.4 1189.0,230.8 1199.2,179.5 1209.4,205.9 1219.6,242.3 1229.8,272.5 1240.0,286.6 1250.3,313.2 1260.5,333.1 1270.7,320.7 1280.9,336.0 1291.1,341.6 1301.3,366.4 1311.5,373.4 1321.7,386.2 1331.9,392.5 1342.1,386.8 1352.3,400.2 1362.5,390.9 1372.7,392.1 1382.9,375.4 1393.1,410.6 1403.3,387.6 1413.6,397.8 1423.8,397.2 1434.0,411.9 1444.2,401.9 1454.4,389.7 1464.6,398.3 1474.8,396.7 1485.0,400.6 1495.2,386.0 1505.4,398.1 1515.6,420.4"/>
<polyline points="1178.8,407.5 1189.0,240.0 1199.2,192.8 1209.4,218.1 1219.6,243.5 1229.8,259.7 1240.0,281.1 1250.3,298.1 1260.5,323.2 1270.7,316.6 1280.9,336.5 1291.1,326.9 1301.3,361.2 1311.5,359.9 1321.7,368.5 1331.9,390.6 1342.1,366.2 1352.3,373.6 1362.5,396.4 1372.7,385.7 1382.9,390.7 1393.1,421.6 1403.3,392.7 1413.6,396.1 1423.8,394.8 1434.0,406.8 1444.2,398.6 1454.4,397.8 1464.6,383.9 1474.8,392.8 1485.0,396.3 1495.2,380.8 1505.4,402.1 1515.6,400.6"/>
<polyline points="1178.8,406.4 1189.0,236.2 1199.2,175.4 1209.4,208.7 1219.6,241.4 1229.8,268.9 1240.0,290.5 1250.3,285.9 1260.5,308.2 1270.7,320.6 1280.9,332.1 1291.1,349.3 1301.3,348.9 1311.5,349.5 1321.7,372.0 1331.9,378.2 1342.1,384.2 1352.3,384.9 1362.5,405.0 1372.7,392.5 1382.9,399.7 1393.1,382.2 1403.3,399.4 1413.6,385.9 1423.8,376.4 1434.0,395.2 1444.2,398.3 1454.4,390.3 1464.6,392.3 1474.8,402.6 1485.0,387.8 1495.2,372.1 1505.4,395.4 1515.6,394.9"/>
<polyline points="1178.8,403.6 1189.0,228.5 1199.2,166.1 1209.4,208.8 1219.6,244.4 1229.8,278.0 1240.0,287.8 1250.3,287.5 1260.5,302.8 1270.7,329.3 1280.9,334.2 1291.1,339.0 1301.3,340.8 1311.5,355.8 1321.7,361.1 1331.9,368.6 1342.1,381.2 1352.3,383.1 1362.5,383.6 1372.7,388.4 1382.9,383.3 1393.1,369.7 1403.3,383.0 1413.6,388.8 1423.8,406.7 1434.0,385.7 1444.2,409.6 1454.4,404.2 1464.6,381.2 1474.8,382.8 1485.0,391.7 1495.2,407.7 1505.4,394.1 1515.6,397.3"/>
<polyline points="1178.8,407.8 1189.0,225.7 1199.2,169.2 1209.4,183.4 1219.6,223.0 1229.8,268.8 1240.0,286.7 1250.3,309.5 1260.5,323.8 1270.7,332.5 1280.9,352.8 1291.1,364.4 1301.3,351.8 1311.5,371.3 1321.7,375.0 1331.9,372.9 1342.1,404.9 1352.3,397.8 1362.5,389.4 1372.7,388.0 1382.9,396.2 1393.1,382.1 1403.3,390.7 1413.6,405.4 1423.8,402.6 1434.0,385.0 1444.2,388.6 1454.4,412.8 1464.6,379.7 1474.8,387.5 1485.0,380.0 1495.2,397.7 1505.4,396.9 1515.6,405.5"/>
<polyline points="1178.8,404.4 1189.0,232.4 1199.2,185.8 1209.4,223.1 1219.6,249.4 1229.8,274.9 1240.0,293.3 1250.3,314.4 1260.5,328.5 1270.7,331.1 1280.9,346.1 1291.1,358.3 1301.3,355.4 1311.5,355.5 1321.7,388.9 1331.9,380.3 1342.1,392.1 1352.3,398.8 1362.5,382.4 1372.7,397.4 1382.9,377.4 1393.1,400.9 1403.3,389.3 1413.6,395.8 1423.8,401.3 1434.0,387.7 1444.2,395.3 1454.4,387.7 1464.6,394.4 1474.8,405.1 1485.0,395.2 1495.2,393.7 1505.4,384.6 1515.6,403.7"/>
<polyline points="1178.8,408.4 1189.0,238.3 1199.2,187.6 1209.4,206.0 1219.6,244.8 1229.8,270.5 1240.0,287.4 1250.3,317.1 1260.5,315.7 1270.7,338.7 1280.9,352.0 1291.1,368.5 1301.3,341.0 1311.5,372.3 1321.7,373.8 1331.9,381.8 1342.1,383.2 1352.3,386.6 1362.5,368.6 1372.7,399.3 1382.9,404.8 1393.1,399.5 1403.3,403.1 1413.6,381.9 1423.8,381.3 1434.0,399.5 1444.2,404.0 1454.4,393.6 1464.6,375.8 1474.8,418.9 1485.0,384.9 1495.2,401.3 1505.4,379.8 1515.6,401.5"/>
<polyline points="1178.8,409.0 1189.0,234.4 1199.2,181.5 1209.4,210.3 1219.6,248.2 1229.8,267.4 1240.0,287.8 1250.3,290.2 1260.5,296.2 1270.7,325.4 1280.9,339.6 1291.1,341.5 1301.3,357.2 1311.5,368.6 1321.7,371.1 1331.9,389.2 1342.1,378.4 1352.3,389.8 1362.5,389.0 1372.7,394.9 1382.9,401.3 1393.1,403.9 1403.3,396.9 1413.6,400.4 1423.8,392.5 1434.0,395.0 1444.2,409.0 1454.4,394.5 1464.6,409.0 1474.8,401.7 1485.0,398.5 1495.2,416.7 1505.4,394.7 1515.6,394.2"/>
<polyline points="1178.8,407.9 1189.0,234.4 1199.2,183.7 1209.4,214.0 1219.6,237.7 1229.8,278.8 1240.0,287.1 1250.3,304.7 1260.5,315.4 1270.7,322.3 1280.9,341.2 1291.1,347.2 1301.3,348.1 1311.5,360.1 1321.7,371.0 1331.9,395.4 1342.1,379.4 1352.3,376.1 1362.5,379.8 1372.7,388.6 1382.9,407.4 1393.1,382.1 1403.3,393.5 1413.6,418.1 1423.8,388.5 1434.0,407.6 1444.2,405.7 1454.4,399.1 1464.6,379.7 1474.8,396.6 1485.0,390.1 1495.2,375.2 1505.4,376.8 1515.6,394.3"/>
<polyline points="1178.8,407.2 1189.0,220.9 1199.2,166.0 1209.4,192.8 1219.6,232.1 1229.8,267.1 1240.0,284.4 1250.3,313.3 1260.5,330.3 1270.7,314.9 1280.9,328.2 1291.1,334.2 1301.3,364.9 1311.5,361.6 1321.7,373.3 1331.9,383.7 1342.1,403.6 1352.3,387.8 1362.5,377.8 1372.7,384.3 1382.9,395.0 1393.1,389.3 1403.3,381.7 1413.6,417.9 1423.8,391.1 1434.0,384.4 1444.2,383.1 1454.4,372.8 1464.6,378.6 1474.8,387.1 1485.0,387.3 1495.2,382.5 1505.4,396.1 1515.6,391.1"/>
<polyline points="1178.8,403.7 1189.0,217.8 1199.2,167.8 1209.4,183.8 1219.6,220.0 1229.8,270.5 1240.0,289.6 1250.3,297.4 1260.5,319.3 1270.7,336.5 1280.9,318.4 1291.1,334.4 1301.3,345.0 1311.5,365.5 1321.7,359.7 1331.9,380.4 1342.1,372.4 1352.3,396.7 1362.5,398.6 1372.7,388.9 1382.9,398.8 1393.1,385.1 1403.3,389.6 1413.6,401.9 1423.8,391.9 1434.0,396.3 1444.2,383.5 1454.4,399.4 1464.6,397.5 1474.8,380.8 1485.0,370.4 1495.2,373.0 1505.4,392.8 1515.6,391.3"/>
<polyline points="1178.8,408.3 1189.0,251.6 1199.2,201.7 1209.4,222.5 1219.6,244.2 1229.8,270.8 1240.0,286.3 1250.3,315.1 1260.5,322.1 1270.7,338.1 1280.9,324.8 1291.1,346.0 1301.3,363.2 1311.5,369.2 1321.7,377.0 1331.9,375.1 1342.1,404.1 1352.3,402.2 1362.5,398.0 1372.7,369.5 1382.9,386.3 1393.1,397.5 1403.3,389.4 1413.6,375.9 1423.8,399.4 1434.0,400.8 1444.2,384.8 1454.4,392.2 1464.6,390.5 1474.8,402.7 1485.0,378.0 1495.2,380.2 1505.4,392.0 1515.6,390.9"/>
<polyline points="1178.8,405.4 1189.0,236.9 1199.2,185.9 1209.4,212.5 1219.6,256.4 1229.8,258.4 1240.0,285.9 1250.3,292.5 1260.5,296.3 1270.7,325.7 1280.9,352.9 1291.1,352.9 1301.3,366.2 1311.5,369.1 1321.7,372.6 1331.9,401.7 1342.1,383.7 1352.3,406.6 1362.5,390.9 1372.7,396.5 1382.9,399.4 1393.1,397.2 1403.3,402.2 1413.6,403.3 1423.8,414.3 1434.0,397.5 1444.2,378.5 1454.4,377.2 1464.6,384.0 1474.8,390.4 1485.0,404.6 1495.2,383.1 1505.4,398.5 1515.6,398.7"/>
<polyline points="1178.8,406.1 1189.0,233.7 1199.2,181.4 1209.4,220.9 1219.6,243.7 1229.8,260.6 1240.0,289.2 1250.3,306.9 1260.5,301.8 1270.7,331.4 1280.9,332.0 1291.1,348.2 1301.3,337.8 1311.5,382.4 1321.7,377.2 1331.9,381.7 1342.1,373.6 1352.3,376.9 1362.5,370.3 1372.7,401.4 1382.9,378.0 1393.1,388.9 1403.3,393.0 1413.6,380.8 1423.8,395.8 1434.0,407.7 1444.2,390.4 1454.4,402.0 1464.6,393.4 1474.8,383.1 1485.0,383.8 1495.2,370.9 1505.4,389.2 1515.6,403.0"/>
<polyline points="1178.8,406.2 1189.0,245.5 1199.2,194.3 1209.4,223.4 1219.6,242.0 1229.8,270.0 1240.0,292.6 1250.3,307.4 1260.5,336.6 1270.7,330.9 1280.9,340.1 1291.1,344.9 1301.3,370.5 1311.5,349.1 1321.7,372.7 1331.9,392.3 1342.1,401.6 1352.3,389.9 1362.5,389.6 1372.7,396.9 1382.9,389.0 1393.1,396.7 1403.3,384.8 1413.6,398.0 1423.8,391.1 1434.0,380.8 1444.2,364.6 1454.4,401.2 1464.6,395.8 1474.8,399.7 1485.0,383.2 1495.2,403.1 1505.4,396.4 1515.6,391.8"/>
<polyline points="1178.8,406.3 1189.0,232.3 1199.2,167.2 1209.4,200.0 1219.6,238.2 1229.8,273.0 1240.0,287.5 1250.3,315.5 1260.5,332.9 1270.7,338.2 1280.9,326.0 1291.1,348.6 1301.3,349.1 1311.5,375.0 1321.7,368.0 1331.9,389.3 1342.1,388.5 1352.3,363.9 1362.5,382.7 1372.7,396.3 1382.9,392.4 1393.1,388.4 1403.3,379.7 1413.6,397.1 1423.8,410.0 1434.0,395.2 1444.2,392.3 1454.4,391.4 1464.6,379.2 1474.8,389.5 1485.0,384.5 1495.2,404.2 1505.4,384.2 1515.6,371.7"/>
<polyline points="1178.8,404.8 1189.0,224.9 1199.2,171.4 1209.4,200.5 1219.6,236.7 1229.8,273.6 1240.0,290.1 1250.3,298.6 1260.5,328.5 1270.7,329.5 1280.9,329.7 1291.1,357.6 1301.3,355.0 1311.5,377.2 1321.7,362.9 1331.9,357.1 1342.1,364.3 1352.3,390.0 1362.5,381.8 1372.7,389.0 1382.9,389.5 1393.1,375.0 1403.3,404.6 1413.6,380.5 1423.8,391.8 1434.0,377.1 1444.2,389.6 1454.4,398.5 1464.6,388.9 1474.8,384.3 1485.0,391.6 1495.2,387.1 1505.4,397.5 1515.6,414.0"/>
<polyline points="1178.8,406.3 1189.0,253.7 1199.2,189.5 1209.4,225.7 1219.6,254.0 1229.8,258.6 1240.0,287.8 1250.3,315.9 1260.5,318.0 1270.7,313.5 1280.9,318.4 1291.1,343.7 1301.3,345.2 1311.5,352.2 1321.7,375.6 1331.9,373.6 1342.1,383.9 1352.3,393.4 1362.5,395.8 1372.7,391.8 1382.9,393.1 1393.1,399.5 1403.3,398.3 1413.6,382.9 1423.8,392.2 1434.0,385.5 1444.2,382.3 1454.4,388.7 1464.6,371.6 1474.8,403.3 1485.0,386.8 1495.2,398.4 1505.4,376.3 1515.6,378.0"/>
<polyline points="1178.8,405.0 1189.0,222.7 1199.2,189.4 1209.4,200.2 1219.6,244.4 1229.8,259.1 1240.0,288.2 1250.3,311.5 1260.5,309.5 1270.7,330.3 1280.9,337.3 1291.1,353.2 1301.3,347.7 1311.5,352.5 1321.7,356.6 1331.9,376.5 1342.1,370.4 1352.3,385.1 1362.5,388.9 1372.7,383.6 1382.9,379.5 1393.1,394.1 1403.3,393.4 1413.6,392.8 1423.8,390.4 1434.0,400.6 1444.2,381.0 1454.4,395.7 1464.6,386.9 1474.8,400.2 1485.0,388.2 1495.2,388.0 1505.4,396.4 1515.6,371.6"/>
<polyline points="1178.8,405.9 1189.0,243.5 1199.2,178.8 1209.4,221.3 1219.6,234.7 1229.8,268.7 1240.0,292.2 1250.3,307.1 1260.5,313.6 1270.7,339.3 1280.9,351.4 1291.1,354.8 1301.3,375.1 1311.5,374.2 1321.7,356.9 1331.9,390.8 1342.1,378.3 1352.3,402.1 1362.5,387.1 1372.7,394.4 1382.9,392.2 1393.1,386.0 1403.3,374.2 1413.6,390.3 1423.8,391.1 1434.0,402.4 1444.2,386.7 1454.4,395.2 1464.6,384.3 1474.8,393.4 1485.0,375.3 1495.2,413.4 1505.4,396.3 1515.6,384.3"/>
<polyline points="1178.8,407.8 1189.0,222.3 1199.2,165.9 1209.4,198.4 1219.6,231.6 1229.8,250.1 1240.0,274.3 1250.3,301.8 1260.5,320.5 1270.7,332.5 1280.9,331.4 1291.1,357.8 1301.3,338.3 1311.5,363.3 1321.7,361.8 1331.9,355.6 1342.1,368.4 1352.3,395.9 1362.5,377.8 1372.7,376.0 1382.9,396.1 1393.1,398.5 1403.3,390.2 1413.6,405.7 1423.8,374.4 1434.0,414.1 1444.2,400.9 1454.4,392.5 1464.6,392.2 1474.8,388.3 1485.0,387.3 1495.2,392.4 1505.4,378.7 1515.6,412.2"/>
<polyline points="1178.8,405.5 1189.0,224.5 1199.2,171.9 1209.4,224.5 1219.6,241.4 1229.8,250.8 1240.0,286.3 1250.3,306.5 1260.5,321.5 1270.7,332.8 1280.9,338.5 1291.1,352.0 1301.3,348.8 1311.5,369.9 1321.7,378.3 1331.9,392.2 1342.1,384.7 1352.3,396.0 1362.5,390.3 1372.7,378.7 1382.9,385.9 1393.1,384.8 1403.3,386.6 1413.6,389.7 1423.8,391.7 1434.0,393.7 1444.2,382.9 1454.4,401.8 1464.6,377.2 1474.8,390.6 1485.0,398.7 1495.2,396.1 1505.4,398.1 1515.6,389.7"/>
<polyline points="1178.8,404.3 1189.0,253.4 1199.2,200.5 1209.4,209.3 1219.6,247.2 1229.8,273.0 1240.0,288.3 1250.3,287.0 1260.5,309.6 1270.7,329.6 1280.9,336.3 1291.1,343.2 1301.3,365.4 1311.5,379.1 1321.7,375.6 1331.9,391.8 1342.1,387.0 1352.3,388.1 1362.5,366.8 1372.7,400.3 1382.9,393.2 1393.1,393.9 1403.3,388.0 1413.6,381.9 1423.8,397.7 1434.0,401.2 1444.2,409.6 1454.4,402.4 1464.6,387.6 1474.8,392.7 1485.0,403.6 1495.2,397.2 1505.4,393.1 1515.6,388.4"/>
<polyline points="1178.8,405.7 1189.0,244.1 1199.2,186.0 1209.4,214.8 1219.6,246.9 1229.8,286.5 1240.0,292.5 1250.3,314.0 1260.5,321.7 1270.7,321.8 1280.9,324.0 1291.1,329.0 1301.3,352.7 1311.5,347.8 1321.7,354.7 1331.9,363.3 1342.1,367.3 1352.3,387.7 1362.5,391.1 1372.7,382.9 1382.9,406.1 1393.1,390.5 1403.3,398.3 1413.6,396.9 1423.8,411.1 1434.0,402.6 1444.2,393.8 1454.4,384.6 1464.6,383.6 1474.8,394.7 1485.0,395.9 1495.2,402.5 1505.4,390.0 1515.6,396.8"/>
<polyline points="1178.8,403.9 1189.0,254.9 1199.2,192.2 1209.4,213.2 1219.6,251.0 1229.8,275.5 1240.0,296.3 1250.3,308.3 1260.5,316.7 1270.7,320.5 1280.9,330.5 1291.1,340.5 1301.3,348.5 1311.5,364.9 1321.7,395.1 1331.9,386.8 1342.1,386.4 1352.3,396.3 1362.5,384.6 1372.7,398.5 1382.9,404.5 1393.1,380.6 1403.3,388.8 1413.6,393.5 1423.8,386.4 1434.0,385.1 1444.2,392.6 1454.4,421.2 1464.6,403.1 1474.8,401.0 1485.0,406.5 1495.2,394.5 1505.4,384.5 1515.6,401.7"/>
</g>
<g fill="none" stroke="#5DCBD0" stroke-width="2.8" stroke-opacity="0.45" stroke-linejoin="round">
<polyline points="1178.8,404.8 1189.0,296.7 1199.2,218.9 1209.4,232.6 1219.6,260.9 1229.8,274.2 1240.0,296.3 1250.3,277.5 1260.5,325.2 1270.7,304.2 1280.9,321.7 1291.1,322.6 1301.3,313.0 1311.5,311.0 1321.7,306.8 1331.9,317.4 1342.1,327.9 1352.3,327.2 1362.5,315.4 1372.7,314.5 1382.9,305.4 1393.1,316.6 1403.3,309.5 1413.6,304.5 1423.8,320.0 1434.0,338.9 1444.2,335.6 1454.4,338.6 1464.6,304.5 1474.8,332.3 1485.0,308.9 1495.2,316.3 1505.4,303.7 1515.6,311.9"/>
<polyline points="1178.8,406.9 1189.0,282.0 1199.2,236.0 1209.4,239.4 1219.6,265.0 1229.8,276.3 1240.0,291.3 1250.3,311.3 1260.5,308.4 1270.7,336.8 1280.9,306.5 1291.1,325.9 1301.3,312.0 1311.5,317.0 1321.7,348.4 1331.9,327.7 1342.1,316.6 1352.3,301.5 1362.5,315.8 1372.7,316.2 1382.9,335.2 1393.1,303.1 1403.3,299.0 1413.6,319.3 1423.8,322.3 1434.0,338.3 1444.2,310.1 1454.4,289.7 1464.6,312.3 1474.8,306.3 1485.0,314.6 1495.2,332.1 1505.4,305.9 1515.6,335.3"/>
<polyline points="1178.8,405.4 1189.0,304.2 1199.2,228.0 1209.4,248.0 1219.6,267.3 1229.8,283.4 1240.0,297.6 1250.3,329.0 1260.5,330.0 1270.7,334.9 1280.9,314.4 1291.1,312.0 1301.3,293.8 1311.5,333.6 1321.7,324.3 1331.9,306.2 1342.1,319.0 1352.3,320.3 1362.5,297.2 1372.7,320.4 1382.9,329.8 1393.1,331.8 1403.3,313.2 1413.6,313.7 1423.8,332.9 1434.0,328.6 1444.2,311.6 1454.4,311.3 1464.6,325.3 1474.8,311.1 1485.0,311.8 1495.2,338.7 1505.4,322.2 1515.6,314.1"/>
<polyline points="1178.8,403.5 1189.0,290.3 1199.2,257.3 1209.4,252.7 1219.6,260.1 1229.8,272.1 1240.0,298.6 1250.3,326.2 1260.5,310.9 1270.7,326.6 1280.9,346.7 1291.1,286.0 1301.3,310.0 1311.5,297.4 1321.7,328.4 1331.9,301.4 1342.1,300.0 1352.3,300.4 1362.5,318.3 1372.7,331.7 1382.9,320.3 1393.1,343.4 1403.3,337.9 1413.6,317.7 1423.8,330.1 1434.0,320.9 1444.2,320.4 1454.4,297.5 1464.6,304.8 1474.8,320.2 1485.0,306.1 1495.2,328.8 1505.4,324.0 1515.6,310.0"/>
<polyline points="1178.8,403.4 1189.0,301.8 1199.2,247.9 1209.4,262.5 1219.6,276.4 1229.8,272.5 1240.0,285.1 1250.3,308.7 1260.5,328.6 1270.7,314.0 1280.9,326.1 1291.1,313.2 1301.3,319.0 1311.5,319.2 1321.7,315.4 1331.9,328.9 1342.1,326.9 1352.3,341.8 1362.5,327.3 1372.7,338.5 1382.9,324.1 1393.1,333.4 1403.3,321.6 1413.6,317.7 1423.8,339.1 1434.0,332.4 1444.2,334.0 1454.4,315.0 1464.6,304.3 1474.8,314.1 1485.0,327.9 1495.2,307.5 1505.4,341.4 1515.6,307.4"/>
<polyline points="1178.8,407.6 1189.0,296.0 1199.2,226.2 1209.4,250.4 1219.6,258.6 1229.8,265.6 1240.0,290.4 1250.3,292.8 1260.5,309.7 1270.7,283.7 1280.9,317.2 1291.1,306.1 1301.3,330.8 1311.5,323.3 1321.7,294.0 1331.9,319.7 1342.1,303.0 1352.3,309.7 1362.5,320.9 1372.7,313.1 1382.9,315.1 1393.1,315.0 1403.3,301.1 1413.6,302.4 1423.8,316.5 1434.0,320.4 1444.2,307.1 1454.4,311.6 1464.6,299.0 1474.8,280.7 1485.0,301.4 1495.2,311.6 1505.4,313.3 1515.6,321.2"/>
<polyline points="1178.8,404.8 1189.0,282.6 1199.2,213.1 1209.4,216.8 1219.6,249.6 1229.8,267.1 1240.0,293.6 1250.3,295.8 1260.5,322.1 1270.7,313.2 1280.9,291.4 1291.1,335.9 1301.3,308.7 1311.5,302.8 1321.7,317.3 1331.9,313.4 1342.1,307.5 1352.3,329.6 1362.5,317.3 1372.7,332.1 1382.9,330.0 1393.1,329.5 1403.3,324.2 1413.6,321.0 1423.8,317.6 1434.0,339.4 1444.2,300.1 1454.4,309.9 1464.6,315.0 1474.8,327.7 1485.0,324.8 1495.2,317.5 1505.4,319.3 1515.6,343.7"/>
<polyline points="1178.8,405.4 1189.0,259.5 1199.2,193.0 1209.4,214.3 1219.6,239.1 1229.8,285.7 1240.0,302.4 1250.3,309.0 1260.5,322.0 1270.7,301.9 1280.9,330.9 1291.1,310.5 1301.3,335.3 1311.5,312.9 1321.7,321.9 1331.9,350.8 1342.1,320.8 1352.3,333.1 1362.5,325.9 1372.7,302.8 1382.9,333.7 1393.1,333.2 1403.3,304.2 1413.6,319.7 1423.8,303.3 1434.0,317.6 1444.2,331.8 1454.4,322.5 1464.6,307.5 1474.8,311.0 1485.0,322.1 1495.2,321.7 1505.4,323.8 1515.6,329.3"/>
<polyline points="1178.8,404.8 1189.0,302.0 1199.2,242.6 1209.4,251.7 1219.6,278.0 1229.8,291.0 1240.0,294.9 1250.3,319.3 1260.5,316.4 1270.7,308.8 1280.9,316.3 1291.1,323.7 1301.3,299.1 1311.5,316.1 1321.7,328.0 1331.9,315.4 1342.1,319.2 1352.3,333.9 1362.5,323.1 1372.7,325.8 1382.9,346.9 1393.1,326.2 1403.3,327.6 1413.6,329.6 1423.8,343.8 1434.0,328.9 1444.2,325.4 1454.4,323.9 1464.6,338.5 1474.8,318.0 1485.0,339.7 1495.2,328.3 1505.4,310.6 1515.6,334.1"/>
<polyline points="1178.8,405.6 1189.0,304.4 1199.2,223.6 1209.4,244.0 1219.6,265.1 1229.8,285.2 1240.0,302.9 1250.3,306.5 1260.5,327.8 1270.7,319.0 1280.9,316.8 1291.1,330.1 1301.3,320.1 1311.5,302.6 1321.7,317.9 1331.9,329.1 1342.1,322.4 1352.3,332.3 1362.5,318.5 1372.7,311.6 1382.9,331.2 1393.1,324.3 1403.3,309.1 1413.6,327.9 1423.8,320.1 1434.0,334.3 1444.2,332.1 1454.4,328.7 1464.6,298.3 1474.8,327.7 1485.0,329.3 1495.2,329.8 1505.4,325.4 1515.6,316.3"/>
<polyline points="1178.8,405.6 1189.0,292.8 1199.2,208.6 1209.4,229.8 1219.6,254.3 1229.8,291.8 1240.0,288.3 1250.3,310.7 1260.5,317.5 1270.7,317.5 1280.9,317.0 1291.1,310.1 1301.3,329.2 1311.5,325.3 1321.7,311.5 1331.9,313.1 1342.1,319.0 1352.3,321.3 1362.5,324.2 1372.7,315.4 1382.9,301.4 1393.1,326.9 1403.3,297.8 1413.6,305.7 1423.8,320.5 1434.0,306.7 1444.2,332.3 1454.4,335.5 1464.6,330.7 1474.8,320.8 1485.0,320.0 1495.2,322.3 1505.4,315.5 1515.6,341.0"/>
<polyline points="1178.8,407.8 1189.0,309.6 1199.2,240.8 1209.4,249.3 1219.6,262.3 1229.8,286.9 1240.0,305.5 1250.3,324.1 1260.5,314.9 1270.7,345.0 1280.9,308.5 1291.1,328.1 1301.3,331.5 1311.5,318.7 1321.7,310.9 1331.9,318.7 1342.1,310.6 1352.3,321.1 1362.5,308.6 1372.7,308.5 1382.9,323.9 1393.1,306.6 1403.3,321.2 1413.6,322.2 1423.8,333.8 1434.0,326.8 1444.2,314.8 1454.4,338.7 1464.6,316.6 1474.8,320.2 1485.0,321.1 1495.2,349.5 1505.4,325.8 1515.6,317.4"/>
<polyline points="1178.8,407.1 1189.0,291.4 1199.2,196.4 1209.4,229.0 1219.6,250.7 1229.8,292.3 1240.0,308.1 1250.3,290.8 1260.5,331.3 1270.7,331.0 1280.9,326.0 1291.1,334.5 1301.3,309.4 1311.5,303.3 1321.7,330.9 1331.9,342.4 1342.1,309.6 1352.3,310.3 1362.5,313.6 1372.7,309.8 1382.9,332.8 1393.1,325.0 1403.3,338.9 1413.6,339.5 1423.8,312.4 1434.0,331.3 1444.2,298.0 1454.4,323.1 1464.6,331.4 1474.8,315.2 1485.0,304.0 1495.2,319.1 1505.4,338.5 1515.6,320.7"/>
<polyline points="1178.8,405.8 1189.0,291.9 1199.2,223.6 1209.4,235.8 1219.6,257.9 1229.8,272.7 1240.0,294.9 1250.3,330.5 1260.5,313.6 1270.7,308.6 1280.9,313.1 1291.1,306.6 1301.3,324.5 1311.5,329.1 1321.7,307.7 1331.9,330.4 1342.1,342.8 1352.3,306.7 1362.5,326.5 1372.7,321.8 1382.9,334.2 1393.1,333.6 1403.3,331.8 1413.6,322.9 1423.8,314.8 1434.0,345.2 1444.2,310.8 1454.4,332.9 1464.6,331.7 1474.8,312.1 1485.0,320.8 1495.2,337.5 1505.4,299.3 1515.6,330.2"/>
<polyline points="1178.8,404.4 1189.0,263.9 1199.2,193.8 1209.4,217.3 1219.6,230.4 1229.8,270.9 1240.0,292.1 1250.3,281.6 1260.5,310.6 1270.7,326.5 1280.9,309.8 1291.1,331.6 1301.3,305.4 1311.5,304.5 1321.7,324.7 1331.9,325.3 1342.1,316.2 1352.3,318.0 1362.5,329.3 1372.7,311.8 1382.9,341.4 1393.1,323.4 1403.3,323.2 1413.6,321.9 1423.8,315.5 1434.0,333.0 1444.2,312.6 1454.4,321.5 1464.6,327.0 1474.8,335.3 1485.0,333.4 1495.2,316.0 1505.4,331.2 1515.6,319.7"/>
<polyline points="1178.8,407.7 1189.0,283.7 1199.2,204.8 1209.4,231.2 1219.6,243.2 1229.8,266.7 1240.0,286.6 1250.3,299.5 1260.5,308.5 1270.7,313.5 1280.9,314.6 1291.1,306.1 1301.3,323.2 1311.5,297.7 1321.7,318.6 1331.9,306.2 1342.1,318.4 1352.3,320.2 1362.5,294.3 1372.7,320.9 1382.9,331.9 1393.1,325.7 1403.3,321.3 1413.6,293.5 1423.8,315.7 1434.0,307.6 1444.2,329.8 1454.4,314.6 1464.6,311.1 1474.8,298.5 1485.0,327.0 1495.2,312.4 1505.4,316.0 1515.6,331.2"/>
<polyline points="1178.8,405.2 1189.0,278.0 1199.2,174.4 1209.4,213.8 1219.6,243.3 1229.8,276.3 1240.0,307.5 1250.3,307.3 1260.5,324.8 1270.7,323.8 1280.9,324.0 1291.1,323.0 1301.3,310.4 1311.5,321.6 1321.7,324.7 1331.9,326.1 1342.1,319.1 1352.3,333.1 1362.5,328.7 1372.7,323.6 1382.9,329.5 1393.1,324.6 1403.3,330.3 1413.6,300.8 1423.8,308.6 1434.0,318.7 1444.2,324.6 1454.4,299.3 1464.6,320.6 1474.8,325.4 1485.0,321.1 1495.2,321.2 1505.4,308.9 1515.6,325.2"/>
<polyline points="1178.8,403.1 1189.0,299.2 1199.2,227.9 1209.4,238.8 1219.6,268.4 1229.8,277.8 1240.0,305.4 1250.3,308.5 1260.5,318.7 1270.7,324.2 1280.9,329.3 1291.1,325.9 1301.3,330.0 1311.5,315.5 1321.7,304.3 1331.9,343.4 1342.1,322.8 1352.3,326.2 1362.5,315.9 1372.7,332.3 1382.9,323.3 1393.1,333.6 1403.3,314.1 1413.6,321.0 1423.8,324.1 1434.0,318.2 1444.2,325.4 1454.4,340.4 1464.6,316.2 1474.8,319.8 1485.0,325.0 1495.2,312.2 1505.4,309.8 1515.6,336.1"/>
<polyline points="1178.8,407.9 1189.0,294.4 1199.2,231.8 1209.4,237.2 1219.6,263.3 1229.8,281.2 1240.0,285.1 1250.3,312.5 1260.5,314.0 1270.7,310.1 1280.9,309.6 1291.1,322.9 1301.3,318.6 1311.5,328.4 1321.7,299.3 1331.9,311.7 1342.1,331.6 1352.3,319.0 1362.5,311.0 1372.7,313.6 1382.9,298.3 1393.1,303.7 1403.3,325.5 1413.6,320.6 1423.8,334.3 1434.0,317.1 1444.2,318.4 1454.4,289.6 1464.6,319.3 1474.8,344.3 1485.0,328.4 1495.2,319.6 1505.4,335.3 1515.6,331.1"/>
<polyline points="1178.8,404.8 1189.0,300.7 1199.2,241.1 1209.4,251.9 1219.6,257.5 1229.8,289.4 1240.0,297.7 1250.3,302.7 1260.5,322.9 1270.7,318.9 1280.9,335.6 1291.1,308.1 1301.3,310.5 1311.5,320.3 1321.7,342.9 1331.9,334.9 1342.1,311.9 1352.3,303.6 1362.5,319.6 1372.7,308.9 1382.9,330.0 1393.1,325.4 1403.3,323.4 1413.6,318.8 1423.8,341.0 1434.0,313.2 1444.2,309.0 1454.4,337.2 1464.6,339.7 1474.8,320.5 1485.0,332.1 1495.2,351.7 1505.4,315.8 1515.6,323.4"/>
<polyline points="1178.8,405.8 1189.0,286.9 1199.2,203.1 1209.4,231.8 1219.6,255.2 1229.8,266.0 1240.0,288.6 1250.3,297.9 1260.5,309.5 1270.7,314.3 1280.9,305.1 1291.1,322.1 1301.3,300.9 1311.5,332.7 1321.7,324.8 1331.9,337.5 1342.1,325.8 1352.3,316.0 1362.5,305.5 1372.7,329.4 1382.9,321.9 1393.1,326.1 1403.3,330.6 1413.6,335.9 1423.8,321.8 1434.0,342.3 1444.2,321.6 1454.4,322.8 1464.6,330.6 1474.8,334.8 1485.0,339.2 1495.2,302.4 1505.4,339.0 1515.6,306.3"/>
<polyline points="1178.8,403.3 1189.0,292.0 1199.2,212.4 1209.4,236.7 1219.6,246.3 1229.8,285.7 1240.0,297.0 1250.3,327.8 1260.5,295.2 1270.7,327.9 1280.9,344.1 1291.1,320.5 1301.3,320.6 1311.5,297.3 1321.7,322.9 1331.9,319.2 1342.1,312.3 1352.3,301.0 1362.5,319.8 1372.7,307.2 1382.9,313.3 1393.1,322.7 1403.3,318.6 1413.6,319.3 1423.8,330.1 1434.0,306.1 1444.2,335.8 1454.4,306.9 1464.6,309.5 1474.8,321.6 1485.0,329.4 1495.2,323.4 1505.4,315.6 1515.6,312.7"/>
<polyline points="1178.8,408.5 1189.0,279.3 1199.2,206.3 1209.4,219.2 1219.6,248.2 1229.8,298.9 1240.0,297.4 1250.3,326.9 1260.5,305.1 1270.7,291.4 1280.9,326.0 1291.1,319.4 1301.3,323.1 1311.5,316.3 1321.7,313.0 1331.9,305.7 1342.1,331.5 1352.3,302.5 1362.5,330.9 1372.7,317.2 1382.9,307.2 1393.1,312.4 1403.3,331.3 1413.6,328.8 1423.8,326.2 1434.0,321.7 1444.2,308.3 1454.4,336.1 1464.6,316.3 1474.8,314.8 1485.0,315.6 1495.2,316.8 1505.4,305.0 1515.6,316.8"/>
<polyline points="1178.8,404.0 1189.0,291.4 1199.2,225.1 1209.4,248.0 1219.6,255.5 1229.8,276.4 1240.0,288.0 1250.3,322.6 1260.5,298.9 1270.7,316.4 1280.9,324.7 1291.1,330.0 1301.3,330.9 1311.5,334.8 1321.7,328.1 1331.9,321.9 1342.1,324.0 1352.3,338.0 1362.5,325.0 1372.7,332.1 1382.9,320.2 1393.1,301.0 1403.3,315.3 1413.6,326.1 1423.8,341.1 1434.0,338.9 1444.2,342.1 1454.4,315.0 1464.6,332.0 1474.8,322.8 1485.0,330.7 1495.2,322.8 1505.4,308.1 1515.6,332.0"/>
<polyline points="1178.8,407.8 1189.0,299.4 1199.2,215.9 1209.4,219.2 1219.6,261.9 1229.8,268.4 1240.0,293.6 1250.3,322.1 1260.5,320.3 1270.7,322.5 1280.9,329.0 1291.1,299.3 1301.3,342.8 1311.5,316.9 1321.7,317.4 1331.9,327.7 1342.1,319.5 1352.3,311.2 1362.5,319.4 1372.7,316.4 1382.9,313.5 1393.1,344.5 1403.3,304.9 1413.6,296.0 1423.8,310.8 1434.0,310.6 1444.2,338.3 1454.4,323.8 1464.6,331.8 1474.8,329.4 1485.0,312.0 1495.2,332.2 1505.4,324.7 1515.6,345.1"/>
<polyline points="1178.8,403.0 1189.0,298.3 1199.2,227.0 1209.4,231.7 1219.6,245.2 1229.8,278.0 1240.0,303.9 1250.3,317.4 1260.5,307.9 1270.7,332.8 1280.9,307.1 1291.1,307.6 1301.3,322.8 1311.5,316.3 1321.7,315.1 1331.9,306.0 1342.1,335.6 1352.3,310.2 1362.5,327.9 1372.7,332.4 1382.9,322.6 1393.1,326.3 1403.3,335.2 1413.6,342.3 1423.8,335.0 1434.0,308.0 1444.2,302.4 1454.4,317.4 1464.6,311.5 1474.8,331.0 1485.0,326.2 1495.2,322.2 1505.4,337.9 1515.6,337.0"/>
<polyline points="1178.8,406.4 1189.0,292.4 1199.2,225.5 1209.4,240.8 1219.6,262.2 1229.8,286.1 1240.0,303.2 1250.3,305.0 1260.5,312.2 1270.7,306.3 1280.9,340.1 1291.1,325.4 1301.3,325.6 1311.5,319.0 1321.7,326.0 1331.9,326.7 1342.1,312.0 1352.3,318.9 1362.5,334.1 1372.7,305.8 1382.9,309.7 1393.1,327.7 1403.3,311.9 1413.6,329.8 1423.8,308.9 1434.0,324.3 1444.2,331.0 1454.4,326.3 1464.6,330.9 1474.8,320.2 1485.0,320.6 1495.2,322.3 1505.4,329.2 1515.6,364.5"/>
<polyline points="1178.8,405.6 1189.0,310.4 1199.2,252.4 1209.4,263.7 1219.6,271.9 1229.8,283.3 1240.0,289.8 1250.3,311.6 1260.5,305.4 1270.7,319.3 1280.9,314.9 1291.1,317.6 1301.3,310.5 1311.5,306.3 1321.7,313.0 1331.9,323.3 1342.1,324.5 1352.3,296.9 1362.5,318.9 1372.7,319.0 1382.9,299.3 1393.1,303.7 1403.3,310.2 1413.6,320.9 1423.8,289.8 1434.0,312.2 1444.2,310.6 1454.4,318.9 1464.6,333.2 1474.8,332.5 1485.0,312.9 1495.2,313.2 1505.4,320.5 1515.6,331.3"/>
<polyline points="1178.8,404.2 1189.0,294.2 1199.2,240.5 1209.4,257.1 1219.6,289.9 1229.8,286.9 1240.0,302.8 1250.3,303.4 1260.5,312.9 1270.7,313.9 1280.9,317.7 1291.1,312.6 1301.3,303.7 1311.5,332.2 1321.7,325.3 1331.9,335.9 1342.1,301.8 1352.3,305.4 1362.5,311.6 1372.7,333.7 1382.9,318.3 1393.1,323.1 1403.3,319.6 1413.6,322.8 1423.8,315.0 1434.0,325.5 1444.2,311.5 1454.4,318.6 1464.6,324.8 1474.8,322.9 1485.0,326.8 1495.2,312.7 1505.4,325.1 1515.6,318.9"/>
<polyline points="1178.8,404.9 1189.0,306.5 1199.2,234.5 1209.4,246.4 1219.6,263.8 1229.8,282.8 1240.0,290.7 1250.3,312.8 1260.5,313.0 1270.7,324.8 1280.9,317.7 1291.1,329.7 1301.3,321.5 1311.5,314.6 1321.7,320.7 1331.9,326.4 1342.1,333.5 1352.3,319.3 1362.5,317.3 1372.7,324.1 1382.9,330.1 1393.1,315.4 1403.3,293.6 1413.6,325.3 1423.8,318.2 1434.0,317.9 1444.2,351.5 1454.4,321.1 1464.6,330.7 1474.8,307.1 1485.0,325.9 1495.2,332.0 1505.4,325.8 1515.6,321.6"/>
</g>
<g fill="none" stroke="#F97C71" stroke-width="2.8" stroke-opacity="0.45" stroke-linejoin="round">
<polyline points="1179.0,672.8 1189.2,525.4 1199.4,452.6 1209.6,471.1 1219.8,502.0 1230.0,541.2 1240.2,568.2 1250.4,585.7 1260.6,600.1 1270.8,604.4 1281.0,610.8 1291.2,617.6 1301.4,626.7 1311.7,636.5 1321.9,645.9 1332.1,649.4 1342.3,657.0 1352.5,657.2 1362.7,659.9 1372.9,665.2 1383.1,662.9 1393.3,663.4 1403.5,665.5 1413.7,663.1 1423.9,662.9 1434.1,668.7 1444.3,664.8 1454.5,665.9 1464.7,666.0 1474.9,665.1 1485.2,668.1 1495.4,667.9 1505.6,668.4 1515.8,668.3"/>
<polyline points="1179.0,672.1 1189.2,526.2 1199.4,454.0 1209.6,470.6 1219.8,503.4 1230.0,542.2 1240.2,572.4 1250.4,587.2 1260.6,600.7 1270.8,606.2 1281.0,613.2 1291.2,619.6 1301.4,630.7 1311.7,635.2 1321.9,643.2 1332.1,649.8 1342.3,654.5 1352.5,657.3 1362.7,658.8 1372.9,661.1 1383.1,663.9 1393.3,663.6 1403.5,665.6 1413.7,663.9 1423.9,666.4 1434.1,670.4 1444.3,664.3 1454.5,666.5 1464.7,668.9 1474.9,667.1 1485.2,668.4 1495.4,663.0 1505.6,666.0 1515.8,669.8"/>
<polyline points="1179.0,673.4 1189.2,522.9 1199.4,445.9 1209.6,464.0 1219.8,499.9 1230.0,536.0 1240.2,563.6 1250.4,587.6 1260.6,594.7 1270.8,603.2 1281.0,604.7 1291.2,615.6 1301.4,626.2 1311.7,632.1 1321.9,640.5 1332.1,648.8 1342.3,651.7 1352.5,658.1 1362.7,663.0 1372.9,658.4 1383.1,664.9 1393.3,666.1 1403.5,665.0 1413.7,668.9 1423.9,668.8 1434.1,667.4 1444.3,667.6 1454.5,666.6 1464.7,664.7 1474.9,667.6 1485.2,665.9 1495.4,665.7 1505.6,668.8 1515.8,666.5"/>
<polyline points="1179.0,672.6 1189.2,522.7 1199.4,446.1 1209.6,462.9 1219.8,498.5 1230.0,540.7 1240.2,565.3 1250.4,582.3 1260.6,597.2 1270.8,599.9 1281.0,608.4 1291.2,615.5 1301.4,623.3 1311.7,633.7 1321.9,640.3 1332.1,646.3 1342.3,649.1 1352.5,653.2 1362.7,659.5 1372.9,658.5 1383.1,663.6 1393.3,664.1 1403.5,663.8 1413.7,665.5 1423.9,661.8 1434.1,666.0 1444.3,668.9 1454.5,664.3 1464.7,667.5 1474.9,667.3 1485.2,672.2 1495.4,665.0 1505.6,665.4 1515.8,665.4"/>
<polyline points="1179.0,671.9 1189.2,525.8 1199.4,446.9 1209.6,466.4 1219.8,502.4 1230.0,539.8 1240.2,567.1 1250.4,584.8 1260.6,594.7 1270.8,602.6 1281.0,610.2 1291.2,616.2 1301.4,619.2 1311.7,634.3 1321.9,638.2 1332.1,644.1 1342.3,650.2 1352.5,657.7 1362.7,659.3 1372.9,660.9 1383.1,661.8 1393.3,665.9 1403.5,667.5 1413.7,664.2 1423.9,664.2 1434.1,665.7 1444.3,667.7 1454.5,666.0 1464.7,666.5 1474.9,665.2 1485.2,669.1 1495.4,666.6 1505.6,667.1 1515.8,668.9"/>
<polyline points="1179.0,672.3 1189.2,524.7 1199.4,446.8 1209.6,466.1 1219.8,498.7 1230.0,543.0 1240.2,571.8 1250.4,585.9 1260.6,598.0 1270.8,600.0 1281.0,609.0 1291.2,618.9 1301.4,624.8 1311.7,636.0 1321.9,644.3 1332.1,643.0 1342.3,652.5 1352.5,655.8 1362.7,658.7 1372.9,658.7 1383.1,663.6 1393.3,662.7 1403.5,667.5 1413.7,668.6 1423.9,663.7 1434.1,663.8 1444.3,665.7 1454.5,666.3 1464.7,666.4 1474.9,668.0 1485.2,664.0 1495.4,665.6 1505.6,665.9 1515.8,666.2"/>
<polyline points="1179.0,673.5 1189.2,516.7 1199.4,441.2 1209.6,460.9 1219.8,494.9 1230.0,537.4 1240.2,566.1 1250.4,587.2 1260.6,595.9 1270.8,604.4 1281.0,610.0 1291.2,614.6 1301.4,625.1 1311.7,631.7 1321.9,634.6 1332.1,645.3 1342.3,651.0 1352.5,658.1 1362.7,660.5 1372.9,663.6 1383.1,664.8 1393.3,666.8 1403.5,666.7 1413.7,666.4 1423.9,668.1 1434.1,669.1 1444.3,669.2 1454.5,665.9 1464.7,666.6 1474.9,664.9 1485.2,664.9 1495.4,667.4 1505.6,665.6 1515.8,669.5"/>
<polyline points="1179.0,673.5 1189.2,531.2 1199.4,454.7 1209.6,469.4 1219.8,502.1 1230.0,541.5 1240.2,566.1 1250.4,586.2 1260.6,596.0 1270.8,603.4 1281.0,609.8 1291.2,614.3 1301.4,625.5 1311.7,629.0 1321.9,640.6 1332.1,642.4 1342.3,653.9 1352.5,654.9 1362.7,661.2 1372.9,663.9 1383.1,663.2 1393.3,663.5 1403.5,667.8 1413.7,663.9 1423.9,667.7 1434.1,666.2 1444.3,666.0 1454.5,665.6 1464.7,670.0 1474.9,663.8 1485.2,665.8 1495.4,667.6 1505.6,668.7 1515.8,670.0"/>
<polyline points="1179.0,673.5 1189.2,521.4 1199.4,446.9 1209.6,466.6 1219.8,497.8 1230.0,540.2 1240.2,568.6 1250.4,586.6 1260.6,600.7 1270.8,605.4 1281.0,610.2 1291.2,616.8 1301.4,624.5 1311.7,632.6 1321.9,640.3 1332.1,646.6 1342.3,654.4 1352.5,660.5 1362.7,660.4 1372.9,663.5 1383.1,665.1 1393.3,665.4 1403.5,667.8 1413.7,668.1 1423.9,666.5 1434.1,666.3 1444.3,667.9 1454.5,665.8 1464.7,667.1 1474.9,668.6 1485.2,666.7 1495.4,663.4 1505.6,668.1 1515.8,664.7"/>
<polyline points="1179.0,671.0 1189.2,529.5 1199.4,455.3 1209.6,471.0 1219.8,503.5 1230.0,542.1 1240.2,566.1 1250.4,585.9 1260.6,598.6 1270.8,601.4 1281.0,607.0 1291.2,613.1 1301.4,625.3 1311.7,630.3 1321.9,638.4 1332.1,642.5 1342.3,654.0 1352.5,655.4 1362.7,659.4 1372.9,664.2 1383.1,664.7 1393.3,662.7 1403.5,666.2 1413.7,667.3 1423.9,664.6 1434.1,664.6 1444.3,664.8 1454.5,668.1 1464.7,666.8 1474.9,664.9 1485.2,668.0 1495.4,668.2 1505.6,665.3 1515.8,664.0"/>
<polyline points="1179.0,673.4 1189.2,528.2 1199.4,455.2 1209.6,473.6 1219.8,504.2 1230.0,544.6 1240.2,572.9 1250.4,591.8 1260.6,596.9 1270.8,606.5 1281.0,617.0 1291.2,625.4 1301.4,633.2 1311.7,642.4 1321.9,647.1 1332.1,653.1 1342.3,654.2 1352.5,659.7 1362.7,662.8 1372.9,665.8 1383.1,666.9 1393.3,665.5 1403.5,666.4 1413.7,664.2 1423.9,667.6 1434.1,664.7 1444.3,666.2 1454.5,666.7 1464.7,670.4 1474.9,669.1 1485.2,665.5 1495.4,664.3 1505.6,666.5 1515.8,665.5"/>
<polyline points="1179.0,671.8 1189.2,526.6 1199.4,450.7 1209.6,467.6 1219.8,501.1 1230.0,542.9 1240.2,567.3 1250.4,586.7 1260.6,599.4 1270.8,601.9 1281.0,609.2 1291.2,618.4 1301.4,626.3 1311.7,637.3 1321.9,643.5 1332.1,652.5 1342.3,651.3 1352.5,661.0 1362.7,658.7 1372.9,663.8 1383.1,666.1 1393.3,665.4 1403.5,665.2 1413.7,665.0 1423.9,663.1 1434.1,665.9 1444.3,665.1 1454.5,667.8 1464.7,665.4 1474.9,666.5 1485.2,667.6 1495.4,667.0 1505.6,667.0 1515.8,666.5"/>
<polyline points="1179.0,672.0 1189.2,528.1 1199.4,449.1 1209.6,473.9 1219.8,503.4 1230.0,540.6 1240.2,572.9 1250.4,582.7 1260.6,604.3 1270.8,602.2 1281.0,608.5 1291.2,616.9 1301.4,628.1 1311.7,634.9 1321.9,644.2 1332.1,647.2 1342.3,655.7 1352.5,658.2 1362.7,658.3 1372.9,664.3 1383.1,665.1 1393.3,664.8 1403.5,668.1 1413.7,664.0 1423.9,665.7 1434.1,669.3 1444.3,666.8 1454.5,668.1 1464.7,667.9 1474.9,666.6 1485.2,668.1 1495.4,665.1 1505.6,668.1 1515.8,665.1"/>
<polyline points="1179.0,673.0 1189.2,522.3 1199.4,443.7 1209.6,461.6 1219.8,497.7 1230.0,540.9 1240.2,568.9 1250.4,584.5 1260.6,597.5 1270.8,600.5 1281.0,607.3 1291.2,617.5 1301.4,625.8 1311.7,630.7 1321.9,639.7 1332.1,647.0 1342.3,650.1 1352.5,657.1 1362.7,659.8 1372.9,662.5 1383.1,667.3 1393.3,663.3 1403.5,667.7 1413.7,667.1 1423.9,667.6 1434.1,665.1 1444.3,666.8 1454.5,666.7 1464.7,669.8 1474.9,666.9 1485.2,669.5 1495.4,666.3 1505.6,666.2 1515.8,666.9"/>
<polyline points="1179.0,672.5 1189.2,525.4 1199.4,450.0 1209.6,470.8 1219.8,498.8 1230.0,538.4 1240.2,565.7 1250.4,583.5 1260.6,599.2 1270.8,604.5 1281.0,605.2 1291.2,615.2 1301.4,627.2 1311.7,632.5 1321.9,641.0 1332.1,650.1 1342.3,656.5 1352.5,659.4 1362.7,658.8 1372.9,661.8 1383.1,664.3 1393.3,664.3 1403.5,664.4 1413.7,669.9 1423.9,666.8 1434.1,668.0 1444.3,668.9 1454.5,667.7 1464.7,667.0 1474.9,667.2 1485.2,669.4 1495.4,667.7 1505.6,663.2 1515.8,668.8"/>
<polyline points="1179.0,672.2 1189.2,523.3 1199.4,449.5 1209.6,468.1 1219.8,500.3 1230.0,539.3 1240.2,566.5 1250.4,583.6 1260.6,597.4 1270.8,600.9 1281.0,608.8 1291.2,614.5 1301.4,627.7 1311.7,636.5 1321.9,639.4 1332.1,649.6 1342.3,653.2 1352.5,656.9 1362.7,660.4 1372.9,662.6 1383.1,661.4 1393.3,669.5 1403.5,663.9 1413.7,661.9 1423.9,666.2 1434.1,666.5 1444.3,665.3 1454.5,663.4 1464.7,668.9 1474.9,666.6 1485.2,667.1 1495.4,665.8 1505.6,666.6 1515.8,665.7"/>
<polyline points="1179.0,673.1 1189.2,528.2 1199.4,454.9 1209.6,468.0 1219.8,502.9 1230.0,543.8 1240.2,568.0 1250.4,588.0 1260.6,598.1 1270.8,604.1 1281.0,609.9 1291.2,617.2 1301.4,627.5 1311.7,634.5 1321.9,637.9 1332.1,651.9 1342.3,653.0 1352.5,656.4 1362.7,661.7 1372.9,664.5 1383.1,660.2 1393.3,665.6 1403.5,661.8 1413.7,665.1 1423.9,666.2 1434.1,665.6 1444.3,665.5 1454.5,664.6 1464.7,665.9 1474.9,666.5 1485.2,666.5 1495.4,664.4 1505.6,665.4 1515.8,668.7"/>
<polyline points="1179.0,672.9 1189.2,526.1 1199.4,448.5 1209.6,466.2 1219.8,501.2 1230.0,538.2 1240.2,569.4 1250.4,580.3 1260.6,596.7 1270.8,602.9 1281.0,610.8 1291.2,622.1 1301.4,626.1 1311.7,633.8 1321.9,637.6 1332.1,649.9 1342.3,649.3 1352.5,657.3 1362.7,658.3 1372.9,666.5 1383.1,663.7 1393.3,665.6 1403.5,664.3 1413.7,665.9 1423.9,668.4 1434.1,664.8 1444.3,665.4 1454.5,665.6 1464.7,664.9 1474.9,664.8 1485.2,666.8 1495.4,669.3 1505.6,669.4 1515.8,664.4"/>
<polyline points="1179.0,672.6 1189.2,526.2 1199.4,450.4 1209.6,464.3 1219.8,500.7 1230.0,542.1 1240.2,571.4 1250.4,587.6 1260.6,597.4 1270.8,602.4 1281.0,610.5 1291.2,617.1 1301.4,626.7 1311.7,636.4 1321.9,639.1 1332.1,647.0 1342.3,648.5 1352.5,658.4 1362.7,659.9 1372.9,660.4 1383.1,664.5 1393.3,667.5 1403.5,667.3 1413.7,665.9 1423.9,665.7 1434.1,666.7 1444.3,664.8 1454.5,664.9 1464.7,666.1 1474.9,666.7 1485.2,667.3 1495.4,665.8 1505.6,665.2 1515.8,666.8"/>
<polyline points="1179.0,673.4 1189.2,527.4 1199.4,450.6 1209.6,471.0 1219.8,502.3 1230.0,540.9 1240.2,569.5 1250.4,589.1 1260.6,600.5 1270.8,605.0 1281.0,613.4 1291.2,617.8 1301.4,625.8 1311.7,636.5 1321.9,638.9 1332.1,649.1 1342.3,654.0 1352.5,658.0 1362.7,661.3 1372.9,661.5 1383.1,664.3 1393.3,662.0 1403.5,664.6 1413.7,665.1 1423.9,666.7 1434.1,669.1 1444.3,666.8 1454.5,668.3 1464.7,665.0 1474.9,666.8 1485.2,663.8 1495.4,665.5 1505.6,665.3 1515.8,666.5"/>
</g>
<g fill="none" stroke="#5DCBD0" stroke-width="2.8" stroke-opacity="0.45" stroke-linejoin="round">
<polyline points="1179.0,673.2 1189.2,529.2 1199.4,458.5 1209.6,472.1 1219.8,504.8 1230.0,544.9 1240.2,567.3 1250.4,581.8 1260.6,587.6 1270.8,587.6 1281.0,588.9 1291.2,598.6 1301.4,597.9 1311.7,602.4 1321.9,607.1 1332.1,611.4 1342.3,617.5 1352.5,621.1 1362.7,628.8 1372.9,634.2 1383.1,637.2 1393.3,642.9 1403.5,649.0 1413.7,653.4 1423.9,654.0 1434.1,659.3 1444.3,662.1 1454.5,665.0 1464.7,664.9 1474.9,667.0 1485.2,665.1 1495.4,665.3 1505.6,670.4 1515.8,666.5"/>
<polyline points="1179.0,671.6 1189.2,542.0 1199.4,470.6 1209.6,480.9 1219.8,509.1 1230.0,545.3 1240.2,573.4 1250.4,588.5 1260.6,593.1 1270.8,596.5 1281.0,597.6 1291.2,603.6 1301.4,603.0 1311.7,605.5 1321.9,611.1 1332.1,614.3 1342.3,622.5 1352.5,630.2 1362.7,633.6 1372.9,634.6 1383.1,639.5 1393.3,647.5 1403.5,648.8 1413.7,655.9 1423.9,655.4 1434.1,659.9 1444.3,663.3 1454.5,661.9 1464.7,666.1 1474.9,667.0 1485.2,668.5 1495.4,665.4 1505.6,666.4 1515.8,666.8"/>
<polyline points="1179.0,673.2 1189.2,537.0 1199.4,467.3 1209.6,482.4 1219.8,510.3 1230.0,544.9 1240.2,570.2 1250.4,579.5 1260.6,592.0 1270.8,591.3 1281.0,596.4 1291.2,595.1 1301.4,601.0 1311.7,602.1 1321.9,609.5 1332.1,615.3 1342.3,619.3 1352.5,624.6 1362.7,631.6 1372.9,631.9 1383.1,636.3 1393.3,643.2 1403.5,651.0 1413.7,653.4 1423.9,658.3 1434.1,656.9 1444.3,660.9 1454.5,662.0 1464.7,664.8 1474.9,668.9 1485.2,666.8 1495.4,668.0 1505.6,665.3 1515.8,666.2"/>
<polyline points="1179.0,673.4 1189.2,531.4 1199.4,455.7 1209.6,469.1 1219.8,500.4 1230.0,538.3 1240.2,572.5 1250.4,582.6 1260.6,588.3 1270.8,591.6 1281.0,594.7 1291.2,597.9 1301.4,598.7 1311.7,605.6 1321.9,609.2 1332.1,613.7 1342.3,619.5 1352.5,627.0 1362.7,629.6 1372.9,636.6 1383.1,641.0 1393.3,646.8 1403.5,653.5 1413.7,657.3 1423.9,660.9 1434.1,660.5 1444.3,664.0 1454.5,665.7 1464.7,664.1 1474.9,664.0 1485.2,669.2 1495.4,662.5 1505.6,666.3 1515.8,666.9"/>
<polyline points="1179.0,670.9 1189.2,538.4 1199.4,464.6 1209.6,480.2 1219.8,509.2 1230.0,545.7 1240.2,569.4 1250.4,587.5 1260.6,591.4 1270.8,592.8 1281.0,596.7 1291.2,602.0 1301.4,602.1 1311.7,606.3 1321.9,609.7 1332.1,612.8 1342.3,618.4 1352.5,626.4 1362.7,631.6 1372.9,639.2 1383.1,641.9 1393.3,646.2 1403.5,652.2 1413.7,655.1 1423.9,660.3 1434.1,657.7 1444.3,658.0 1454.5,664.3 1464.7,663.7 1474.9,665.5 1485.2,662.9 1495.4,665.0 1505.6,666.1 1515.8,667.1"/>
<polyline points="1179.0,673.2 1189.2,535.9 1199.4,461.1 1209.6,475.1 1219.8,504.0 1230.0,544.7 1240.2,570.9 1250.4,585.0 1260.6,589.8 1270.8,593.1 1281.0,594.3 1291.2,603.4 1301.4,602.1 1311.7,609.8 1321.9,608.6 1332.1,619.8 1342.3,624.3 1352.5,632.0 1362.7,630.1 1372.9,640.9 1383.1,642.9 1393.3,649.4 1403.5,656.4 1413.7,657.2 1423.9,658.3 1434.1,661.8 1444.3,661.0 1454.5,664.6 1464.7,664.7 1474.9,666.0 1485.2,665.0 1495.4,662.2 1505.6,665.7 1515.8,666.4"/>
<polyline points="1179.0,673.5 1189.2,533.7 1199.4,459.5 1209.6,468.3 1219.8,506.6 1230.0,540.7 1240.2,569.0 1250.4,585.4 1260.6,590.1 1270.8,591.0 1281.0,591.5 1291.2,599.7 1301.4,604.6 1311.7,603.4 1321.9,606.6 1332.1,615.2 1342.3,625.4 1352.5,624.5 1362.7,632.8 1372.9,635.0 1383.1,642.3 1393.3,648.3 1403.5,653.0 1413.7,653.1 1423.9,656.3 1434.1,665.5 1444.3,664.7 1454.5,660.1 1464.7,665.4 1474.9,667.9 1485.2,665.6 1495.4,666.2 1505.6,666.6 1515.8,667.7"/>
<polyline points="1179.0,673.3 1189.2,535.7 1199.4,459.5 1209.6,473.9 1219.8,506.0 1230.0,543.2 1240.2,571.4 1250.4,582.4 1260.6,589.3 1270.8,589.6 1281.0,593.3 1291.2,599.0 1301.4,603.3 1311.7,604.4 1321.9,609.4 1332.1,615.3 1342.3,624.1 1352.5,631.5 1362.7,631.9 1372.9,635.8 1383.1,640.5 1393.3,650.0 1403.5,649.8 1413.7,657.0 1423.9,658.2 1434.1,660.2 1444.3,664.3 1454.5,664.9 1464.7,668.9 1474.9,667.0 1485.2,669.3 1495.4,665.1 1505.6,666.2 1515.8,664.8"/>
<polyline points="1179.0,672.9 1189.2,537.1 1199.4,466.7 1209.6,477.0 1219.8,507.0 1230.0,544.5 1240.2,570.7 1250.4,581.3 1260.6,591.2 1270.8,594.1 1281.0,600.9 1291.2,599.4 1301.4,603.5 1311.7,611.0 1321.9,610.2 1332.1,614.2 1342.3,623.0 1352.5,628.8 1362.7,634.9 1372.9,636.2 1383.1,645.6 1393.3,648.3 1403.5,648.2 1413.7,656.1 1423.9,658.3 1434.1,661.5 1444.3,665.2 1454.5,663.8 1464.7,663.8 1474.9,667.2 1485.2,664.9 1495.4,663.5 1505.6,664.2 1515.8,670.0"/>
<polyline points="1179.0,672.1 1189.2,534.3 1199.4,459.4 1209.6,470.8 1219.8,502.9 1230.0,543.6 1240.2,571.5 1250.4,583.2 1260.6,589.5 1270.8,595.4 1281.0,600.7 1291.2,600.1 1301.4,602.8 1311.7,607.8 1321.9,612.7 1332.1,618.0 1342.3,622.1 1352.5,629.6 1362.7,634.1 1372.9,641.2 1383.1,645.5 1393.3,649.1 1403.5,655.6 1413.7,659.8 1423.9,660.8 1434.1,659.3 1444.3,662.7 1454.5,661.1 1464.7,665.1 1474.9,665.9 1485.2,668.6 1495.4,667.3 1505.6,663.6 1515.8,666.2"/>
<polyline points="1179.0,672.8 1189.2,537.0 1199.4,465.2 1209.6,477.1 1219.8,507.7 1230.0,546.1 1240.2,571.3 1250.4,585.4 1260.6,587.5 1270.8,597.1 1281.0,595.8 1291.2,593.2 1301.4,602.0 1311.7,607.1 1321.9,608.9 1332.1,610.7 1342.3,618.5 1352.5,623.8 1362.7,630.4 1372.9,636.2 1383.1,633.7 1393.3,644.9 1403.5,651.2 1413.7,655.2 1423.9,656.9 1434.1,659.6 1444.3,660.4 1454.5,663.0 1464.7,667.2 1474.9,663.8 1485.2,666.0 1495.4,666.4 1505.6,669.2 1515.8,667.7"/>
<polyline points="1179.0,672.6 1189.2,546.9 1199.4,478.2 1209.6,488.5 1219.8,513.0 1230.0,552.5 1240.2,575.6 1250.4,590.6 1260.6,593.6 1270.8,593.8 1281.0,599.5 1291.2,600.5 1301.4,605.9 1311.7,603.8 1321.9,609.8 1332.1,613.9 1342.3,624.3 1352.5,630.4 1362.7,630.8 1372.9,638.1 1383.1,642.8 1393.3,646.5 1403.5,654.4 1413.7,654.1 1423.9,658.8 1434.1,660.1 1444.3,663.9 1454.5,662.6 1464.7,666.0 1474.9,663.1 1485.2,663.2 1495.4,664.1 1505.6,665.3 1515.8,665.4"/>
<polyline points="1179.0,672.5 1189.2,538.6 1199.4,463.8 1209.6,475.0 1219.8,505.1 1230.0,546.5 1240.2,572.5 1250.4,580.6 1260.6,591.6 1270.8,588.8 1281.0,595.5 1291.2,600.1 1301.4,599.4 1311.7,601.4 1321.9,611.9 1332.1,610.2 1342.3,618.7 1352.5,621.8 1362.7,631.3 1372.9,638.6 1383.1,639.0 1393.3,643.0 1403.5,645.7 1413.7,650.5 1423.9,656.1 1434.1,660.9 1444.3,663.0 1454.5,663.8 1464.7,665.9 1474.9,665.4 1485.2,670.6 1495.4,665.5 1505.6,666.2 1515.8,661.3"/>
<polyline points="1179.0,673.6 1189.2,540.1 1199.4,462.2 1209.6,475.3 1219.8,508.3 1230.0,543.6 1240.2,570.1 1250.4,583.3 1260.6,589.2 1270.8,594.7 1281.0,597.1 1291.2,598.5 1301.4,600.2 1311.7,607.7 1321.9,612.5 1332.1,612.6 1342.3,622.8 1352.5,625.4 1362.7,632.0 1372.9,635.5 1383.1,638.5 1393.3,645.9 1403.5,650.3 1413.7,657.8 1423.9,660.5 1434.1,659.8 1444.3,659.5 1454.5,660.8 1464.7,659.9 1474.9,664.5 1485.2,665.2 1495.4,663.9 1505.6,666.3 1515.8,666.8"/>
<polyline points="1179.0,672.2 1189.2,537.4 1199.4,469.0 1209.6,478.6 1219.8,512.9 1230.0,548.2 1240.2,570.5 1250.4,586.3 1260.6,590.7 1270.8,595.1 1281.0,601.3 1291.2,598.6 1301.4,601.4 1311.7,607.9 1321.9,608.5 1332.1,615.6 1342.3,620.5 1352.5,625.1 1362.7,632.3 1372.9,630.9 1383.1,643.4 1393.3,643.5 1403.5,648.0 1413.7,658.1 1423.9,661.1 1434.1,659.2 1444.3,662.9 1454.5,662.4 1464.7,661.8 1474.9,665.6 1485.2,667.5 1495.4,671.4 1505.6,665.7 1515.8,668.4"/>
<polyline points="1179.0,671.2 1189.2,539.4 1199.4,471.9 1209.6,482.7 1219.8,512.7 1230.0,548.9 1240.2,576.2 1250.4,585.7 1260.6,591.8 1270.8,594.5 1281.0,598.8 1291.2,597.8 1301.4,603.3 1311.7,612.9 1321.9,612.5 1332.1,615.8 1342.3,618.8 1352.5,628.0 1362.7,633.0 1372.9,638.5 1383.1,640.4 1393.3,647.6 1403.5,652.6 1413.7,656.8 1423.9,657.4 1434.1,662.0 1444.3,665.8 1454.5,662.3 1464.7,665.9 1474.9,664.3 1485.2,664.7 1495.4,663.5 1505.6,664.1 1515.8,667.8"/>
<polyline points="1179.0,672.2 1189.2,533.7 1199.4,461.5 1209.6,468.4 1219.8,502.1 1230.0,540.6 1240.2,570.2 1250.4,581.9 1260.6,587.8 1270.8,595.3 1281.0,592.9 1291.2,599.4 1301.4,602.8 1311.7,602.5 1321.9,608.6 1332.1,616.0 1342.3,625.9 1352.5,628.0 1362.7,632.3 1372.9,638.4 1383.1,645.8 1393.3,650.2 1403.5,655.5 1413.7,656.3 1423.9,658.2 1434.1,659.4 1444.3,664.4 1454.5,663.4 1464.7,663.6 1474.9,666.3 1485.2,666.0 1495.4,661.7 1505.6,666.0 1515.8,665.0"/>
<polyline points="1179.0,672.6 1189.2,535.9 1199.4,465.5 1209.6,479.4 1219.8,511.4 1230.0,550.0 1240.2,575.7 1250.4,586.3 1260.6,594.7 1270.8,593.9 1281.0,600.5 1291.2,604.7 1301.4,606.4 1311.7,611.4 1321.9,614.7 1332.1,614.0 1342.3,622.0 1352.5,627.7 1362.7,630.7 1372.9,635.1 1383.1,643.3 1393.3,644.4 1403.5,650.9 1413.7,655.6 1423.9,657.9 1434.1,664.0 1444.3,664.2 1454.5,663.8 1464.7,663.3 1474.9,665.8 1485.2,665.8 1495.4,664.0 1505.6,663.4 1515.8,665.1"/>
<polyline points="1179.0,672.3 1189.2,539.3 1199.4,463.9 1209.6,478.9 1219.8,510.2 1230.0,544.8 1240.2,570.3 1250.4,585.5 1260.6,588.7 1270.8,595.1 1281.0,598.0 1291.2,601.1 1301.4,603.4 1311.7,603.2 1321.9,613.4 1332.1,612.3 1342.3,623.5 1352.5,628.6 1362.7,631.2 1372.9,636.4 1383.1,641.8 1393.3,650.9 1403.5,651.3 1413.7,658.1 1423.9,653.8 1434.1,661.6 1444.3,662.3 1454.5,666.1 1464.7,665.6 1474.9,667.8 1485.2,663.6 1495.4,666.5 1505.6,665.2 1515.8,668.1"/>
<polyline points="1179.0,674.0 1189.2,540.6 1199.4,467.5 1209.6,478.0 1219.8,511.3 1230.0,545.8 1240.2,572.7 1250.4,580.8 1260.6,587.5 1270.8,594.6 1281.0,596.5 1291.2,600.5 1301.4,601.3 1311.7,602.8 1321.9,612.0 1332.1,611.4 1342.3,620.6 1352.5,626.0 1362.7,633.9 1372.9,630.6 1383.1,639.5 1393.3,643.8 1403.5,650.8 1413.7,651.3 1423.9,661.5 1434.1,660.1 1444.3,657.2 1454.5,663.9 1464.7,664.0 1474.9,663.4 1485.2,667.0 1495.4,665.7 1505.6,664.1 1515.8,666.1"/>
</g>
<g fill="none" stroke="#F97C71" stroke-width="2.8" stroke-opacity="0.45" stroke-linejoin="round">
<polyline points="1182.7,940.5 1192.9,787.8 1203.1,713.9 1213.3,733.3 1223.5,774.4 1233.7,807.6 1243.9,834.1 1254.1,855.5 1264.3,864.1 1274.6,869.5 1284.8,879.5 1295.0,886.0 1305.2,893.6 1315.4,900.5 1325.6,910.2 1335.8,916.4 1346.0,921.9 1356.2,922.8 1366.4,926.3 1376.6,930.2 1386.8,933.8 1397.0,934.0 1407.2,933.0 1417.4,935.5 1427.6,933.9 1437.9,934.8 1448.1,934.9 1458.3,934.5 1468.5,934.8 1478.7,936.8 1488.9,936.1 1499.1,932.5 1509.3,937.5 1519.5,936.5"/>
<polyline points="1182.7,941.4 1192.9,790.1 1203.1,716.0 1213.3,734.1 1223.5,776.8 1233.7,811.7 1243.9,834.4 1254.1,854.9 1264.3,863.3 1274.6,870.5 1284.8,877.3 1295.0,887.3 1305.2,892.5 1315.4,903.1 1325.6,911.8 1335.8,916.6 1346.0,923.3 1356.2,925.1 1366.4,927.4 1376.6,930.4 1386.8,931.1 1397.0,933.4 1407.2,933.8 1417.4,936.5 1427.6,935.1 1437.9,936.5 1448.1,936.0 1458.3,935.6 1468.5,935.2 1478.7,937.9 1488.9,937.8 1499.1,936.1 1509.3,935.1 1519.5,935.4"/>
<polyline points="1182.7,940.5 1192.9,789.8 1203.1,714.3 1213.3,730.1 1223.5,774.8 1233.7,807.6 1243.9,831.0 1254.1,849.0 1264.3,860.0 1274.6,867.9 1284.8,875.3 1295.0,883.5 1305.2,892.5 1315.4,898.8 1325.6,907.1 1335.8,914.6 1346.0,920.5 1356.2,920.7 1366.4,928.0 1376.6,929.8 1386.8,930.9 1397.0,934.2 1407.2,933.4 1417.4,931.8 1427.6,933.6 1437.9,934.4 1448.1,934.5 1458.3,935.2 1468.5,934.1 1478.7,935.8 1488.9,936.2 1499.1,935.6 1509.3,934.5 1519.5,935.4"/>
<polyline points="1182.7,938.9 1192.9,787.5 1203.1,712.4 1213.3,727.9 1223.5,774.5 1233.7,806.3 1243.9,834.0 1254.1,851.8 1264.3,861.5 1274.6,875.0 1284.8,879.2 1295.0,888.4 1305.2,898.0 1315.4,905.2 1325.6,912.1 1335.8,916.5 1346.0,924.4 1356.2,924.4 1366.4,925.8 1376.6,929.8 1386.8,931.5 1397.0,933.2 1407.2,935.6 1417.4,933.9 1427.6,934.7 1437.9,934.3 1448.1,931.8 1458.3,934.4 1468.5,934.9 1478.7,933.4 1488.9,937.5 1499.1,937.3 1509.3,936.3 1519.5,936.8"/>
<polyline points="1182.7,939.5 1192.9,785.3 1203.1,707.1 1213.3,724.4 1223.5,772.7 1233.7,805.3 1243.9,830.0 1254.1,850.6 1264.3,858.8 1274.6,867.6 1284.8,877.9 1295.0,884.1 1305.2,894.1 1315.4,900.6 1325.6,910.8 1335.8,914.5 1346.0,920.3 1356.2,923.5 1366.4,927.8 1376.6,932.0 1386.8,929.3 1397.0,933.1 1407.2,931.8 1417.4,933.8 1427.6,934.2 1437.9,932.7 1448.1,934.9 1458.3,933.5 1468.5,937.5 1478.7,934.4 1488.9,936.0 1499.1,935.9 1509.3,935.8 1519.5,935.4"/>
<polyline points="1182.7,941.0 1192.9,790.0 1203.1,714.6 1213.3,732.1 1223.5,775.3 1233.7,808.1 1243.9,835.4 1254.1,854.3 1264.3,866.4 1274.6,872.6 1284.8,879.1 1295.0,888.8 1305.2,894.9 1315.4,907.5 1325.6,914.6 1335.8,920.0 1346.0,923.0 1356.2,925.9 1366.4,928.7 1376.6,930.7 1386.8,931.3 1397.0,933.9 1407.2,935.7 1417.4,936.4 1427.6,932.3 1437.9,938.6 1448.1,935.6 1458.3,933.4 1468.5,934.9 1478.7,936.7 1488.9,935.7 1499.1,934.6 1509.3,934.2 1519.5,937.1"/>
<polyline points="1182.7,939.6 1192.9,788.6 1203.1,710.6 1213.3,726.0 1223.5,772.5 1233.7,806.5 1243.9,828.4 1254.1,852.4 1264.3,859.7 1274.6,869.9 1284.8,876.5 1295.0,883.7 1305.2,890.3 1315.4,902.1 1325.6,909.9 1335.8,917.5 1346.0,919.9 1356.2,925.1 1366.4,926.8 1376.6,931.3 1386.8,932.1 1397.0,931.4 1407.2,933.9 1417.4,933.5 1427.6,934.3 1437.9,935.7 1448.1,937.5 1458.3,934.0 1468.5,935.3 1478.7,934.2 1488.9,938.4 1499.1,938.0 1509.3,938.8 1519.5,937.1"/>
<polyline points="1182.7,940.4 1192.9,791.3 1203.1,716.9 1213.3,733.2 1223.5,779.5 1233.7,809.3 1243.9,831.0 1254.1,852.4 1264.3,862.0 1274.6,870.7 1284.8,877.8 1295.0,882.6 1305.2,893.0 1315.4,902.3 1325.6,913.4 1335.8,916.1 1346.0,923.3 1356.2,927.0 1366.4,926.3 1376.6,928.9 1386.8,934.3 1397.0,931.6 1407.2,933.0 1417.4,935.4 1427.6,934.0 1437.9,937.5 1448.1,937.0 1458.3,937.4 1468.5,937.0 1478.7,934.3 1488.9,937.5 1499.1,937.3 1509.3,937.1 1519.5,935.6"/>
<polyline points="1182.7,941.4 1192.9,791.6 1203.1,719.3 1213.3,734.1 1223.5,776.0 1233.7,810.7 1243.9,833.2 1254.1,850.3 1264.3,863.1 1274.6,871.3 1284.8,878.9 1295.0,883.7 1305.2,891.9 1315.4,901.1 1325.6,908.9 1335.8,913.4 1346.0,919.4 1356.2,926.3 1366.4,927.4 1376.6,929.7 1386.8,930.6 1397.0,933.1 1407.2,934.6 1417.4,935.0 1427.6,937.5 1437.9,935.3 1448.1,936.2 1458.3,934.8 1468.5,937.0 1478.7,936.2 1488.9,937.0 1499.1,937.2 1509.3,934.9 1519.5,936.6"/>
<polyline points="1182.7,941.7 1192.9,791.6 1203.1,716.9 1213.3,733.2 1223.5,777.1 1233.7,808.2 1243.9,834.0 1254.1,853.1 1264.3,862.6 1274.6,872.2 1284.8,879.8 1295.0,886.5 1305.2,896.0 1315.4,903.1 1325.6,909.7 1335.8,916.1 1346.0,922.4 1356.2,927.4 1366.4,928.4 1376.6,930.6 1386.8,930.7 1397.0,933.7 1407.2,934.2 1417.4,933.6 1427.6,935.9 1437.9,935.6 1448.1,933.1 1458.3,933.4 1468.5,934.7 1478.7,935.3 1488.9,937.1 1499.1,935.0 1509.3,935.8 1519.5,935.7"/>
<polyline points="1182.7,940.3 1192.9,788.3 1203.1,715.5 1213.3,732.0 1223.5,777.7 1233.7,810.4 1243.9,833.0 1254.1,852.7 1264.3,863.7 1274.6,870.6 1284.8,879.3 1295.0,887.3 1305.2,895.8 1315.4,903.3 1325.6,908.2 1335.8,918.0 1346.0,919.4 1356.2,923.2 1366.4,928.0 1376.6,930.2 1386.8,932.7 1397.0,933.0 1407.2,932.9 1417.4,934.5 1427.6,933.8 1437.9,933.7 1448.1,934.9 1458.3,935.0 1468.5,935.7 1478.7,935.2 1488.9,937.3 1499.1,935.2 1509.3,935.6 1519.5,937.1"/>
<polyline points="1182.7,940.4 1192.9,793.0 1203.1,720.6 1213.3,736.2 1223.5,778.8 1233.7,810.6 1243.9,834.4 1254.1,853.8 1264.3,863.0 1274.6,872.1 1284.8,880.7 1295.0,885.9 1305.2,896.5 1315.4,904.7 1325.6,909.4 1335.8,916.4 1346.0,921.7 1356.2,924.7 1366.4,927.1 1376.6,932.4 1386.8,932.4 1397.0,934.8 1407.2,933.8 1417.4,935.6 1427.6,933.4 1437.9,934.7 1448.1,936.6 1458.3,935.5 1468.5,937.3 1478.7,935.6 1488.9,935.0 1499.1,935.5 1509.3,938.6 1519.5,936.4"/>
<polyline points="1182.7,941.4 1192.9,788.4 1203.1,712.0 1213.3,728.4 1223.5,773.0 1233.7,807.5 1243.9,831.0 1254.1,852.7 1264.3,863.0 1274.6,868.4 1284.8,876.7 1295.0,886.1 1305.2,893.6 1315.4,900.9 1325.6,907.1 1335.8,913.9 1346.0,919.5 1356.2,927.0 1366.4,927.6 1376.6,929.3 1386.8,931.2 1397.0,932.3 1407.2,934.1 1417.4,932.0 1427.6,933.1 1437.9,935.5 1448.1,936.8 1458.3,932.7 1468.5,936.3 1478.7,934.0 1488.9,933.1 1499.1,937.1 1509.3,935.5 1519.5,936.4"/>
<polyline points="1182.7,940.1 1192.9,784.9 1203.1,710.4 1213.3,727.3 1223.5,769.5 1233.7,806.3 1243.9,830.6 1254.1,850.0 1264.3,861.6 1274.6,871.3 1284.8,874.5 1295.0,884.3 1305.2,892.7 1315.4,901.0 1325.6,910.2 1335.8,916.6 1346.0,920.2 1356.2,921.1 1366.4,926.3 1376.6,928.8 1386.8,933.7 1397.0,932.9 1407.2,935.4 1417.4,933.4 1427.6,935.5 1437.9,935.3 1448.1,935.5 1458.3,936.3 1468.5,937.7 1478.7,934.8 1488.9,937.6 1499.1,937.4 1509.3,936.3 1519.5,936.9"/>
<polyline points="1182.7,940.4 1192.9,786.6 1203.1,714.0 1213.3,728.9 1223.5,775.9 1233.7,809.8 1243.9,831.8 1254.1,851.5 1264.3,860.4 1274.6,867.6 1284.8,879.8 1295.0,883.6 1305.2,889.2 1315.4,899.1 1325.6,906.5 1335.8,914.7 1346.0,922.3 1356.2,925.8 1366.4,926.2 1376.6,928.4 1386.8,932.6 1397.0,933.2 1407.2,933.3 1417.4,936.8 1427.6,935.6 1437.9,933.1 1448.1,932.4 1458.3,935.6 1468.5,933.0 1478.7,936.4 1488.9,936.8 1499.1,938.9 1509.3,934.5 1519.5,936.5"/>
<polyline points="1182.7,941.8 1192.9,790.5 1203.1,716.2 1213.3,734.8 1223.5,775.2 1233.7,807.6 1243.9,833.4 1254.1,852.1 1264.3,861.6 1274.6,868.8 1284.8,877.3 1295.0,882.2 1305.2,893.4 1315.4,902.2 1325.6,910.2 1335.8,919.2 1346.0,922.0 1356.2,923.3 1366.4,927.2 1376.6,931.1 1386.8,931.3 1397.0,935.7 1407.2,934.2 1417.4,933.7 1427.6,934.2 1437.9,936.4 1448.1,934.2 1458.3,932.9 1468.5,936.2 1478.7,934.6 1488.9,937.9 1499.1,938.5 1509.3,935.0 1519.5,935.9"/>
<polyline points="1182.7,940.0 1192.9,792.9 1203.1,721.9 1213.3,734.0 1223.5,777.6 1233.7,809.0 1243.9,834.2 1254.1,850.6 1264.3,863.5 1274.6,871.1 1284.8,881.7 1295.0,887.2 1305.2,895.8 1315.4,903.1 1325.6,910.4 1335.8,917.9 1346.0,919.2 1356.2,926.9 1366.4,928.7 1376.6,930.0 1386.8,933.8 1397.0,932.3 1407.2,933.0 1417.4,935.0 1427.6,932.6 1437.9,935.2 1448.1,935.0 1458.3,936.8 1468.5,937.9 1478.7,936.5 1488.9,936.2 1499.1,936.4 1509.3,934.8 1519.5,939.3"/>
<polyline points="1182.7,940.9 1192.9,790.3 1203.1,713.5 1213.3,730.9 1223.5,774.1 1233.7,809.4 1243.9,831.8 1254.1,852.4 1264.3,862.4 1274.6,870.3 1284.8,879.6 1295.0,887.4 1305.2,894.8 1315.4,903.6 1325.6,912.0 1335.8,917.8 1346.0,922.9 1356.2,924.8 1366.4,927.2 1376.6,930.6 1386.8,929.7 1397.0,935.4 1407.2,934.3 1417.4,932.3 1427.6,935.9 1437.9,937.6 1448.1,933.5 1458.3,934.8 1468.5,937.2 1478.7,934.6 1488.9,937.2 1499.1,937.7 1509.3,936.1 1519.5,936.6"/>
</g>
<g fill="none" stroke="#5DCBD0" stroke-width="2.8" stroke-opacity="0.45" stroke-linejoin="round">
<polyline points="1182.7,940.5 1192.9,794.1 1203.1,722.9 1213.3,738.8 1223.5,782.2 1233.7,810.7 1243.9,832.9 1254.1,852.9 1264.3,864.5 1274.6,869.9 1284.8,879.7 1295.0,883.5 1305.2,893.5 1315.4,899.9 1325.6,907.8 1335.8,915.1 1346.0,919.2 1356.2,925.0 1366.4,926.7 1376.6,927.7 1386.8,925.5 1397.0,931.4 1407.2,933.2 1417.4,935.6 1427.6,933.6 1437.9,937.5 1448.1,936.4 1458.3,934.9 1468.5,937.1 1478.7,933.4 1488.9,934.1 1499.1,936.5 1509.3,936.6 1519.5,937.8"/>
<polyline points="1182.7,940.3 1192.9,790.0 1203.1,713.3 1213.3,731.4 1223.5,775.2 1233.7,804.6 1243.9,828.8 1254.1,850.6 1264.3,860.6 1274.6,865.8 1284.8,872.3 1295.0,883.6 1305.2,890.3 1315.4,897.7 1325.6,904.5 1335.8,913.8 1346.0,917.3 1356.2,922.6 1366.4,922.3 1376.6,927.9 1386.8,930.8 1397.0,932.4 1407.2,931.5 1417.4,933.0 1427.6,936.3 1437.9,934.8 1448.1,937.1 1458.3,936.4 1468.5,937.2 1478.7,937.4 1488.9,936.6 1499.1,937.1 1509.3,935.1 1519.5,934.8"/>
<polyline points="1182.7,942.0 1192.9,787.9 1203.1,712.1 1213.3,727.7 1223.5,774.9 1233.7,808.0 1243.9,833.0 1254.1,851.6 1264.3,863.4 1274.6,871.5 1284.8,879.5 1295.0,886.6 1305.2,892.1 1315.4,900.9 1325.6,910.8 1335.8,916.9 1346.0,920.7 1356.2,923.0 1366.4,928.6 1376.6,929.6 1386.8,934.4 1397.0,934.2 1407.2,932.8 1417.4,933.1 1427.6,936.7 1437.9,936.2 1448.1,934.1 1458.3,935.9 1468.5,936.2 1478.7,934.8 1488.9,935.4 1499.1,934.2 1509.3,934.8 1519.5,936.8"/>
<polyline points="1182.7,941.2 1192.9,794.9 1203.1,718.0 1213.3,734.9 1223.5,780.2 1233.7,810.5 1243.9,834.3 1254.1,852.5 1264.3,864.2 1274.6,871.4 1284.8,878.2 1295.0,881.9 1305.2,891.2 1315.4,901.8 1325.6,908.8 1335.8,915.3 1346.0,919.3 1356.2,923.0 1366.4,923.2 1376.6,931.6 1386.8,929.6 1397.0,931.7 1407.2,934.2 1417.4,934.3 1427.6,935.7 1437.9,935.1 1448.1,933.8 1458.3,937.4 1468.5,933.6 1478.7,936.1 1488.9,933.5 1499.1,935.2 1509.3,934.1 1519.5,935.1"/>
<polyline points="1182.7,940.1 1192.9,791.4 1203.1,722.9 1213.3,736.0 1223.5,778.5 1233.7,811.3 1243.9,833.9 1254.1,850.3 1264.3,860.8 1274.6,871.4 1284.8,875.0 1295.0,882.1 1305.2,890.7 1315.4,899.3 1325.6,907.5 1335.8,915.1 1346.0,919.8 1356.2,922.0 1366.4,926.0 1376.6,926.3 1386.8,931.4 1397.0,935.5 1407.2,933.6 1417.4,933.7 1427.6,934.4 1437.9,935.0 1448.1,936.4 1458.3,933.2 1468.5,936.3 1478.7,934.5 1488.9,936.0 1499.1,937.4 1509.3,933.8 1519.5,939.4"/>
<polyline points="1182.7,940.0 1192.9,792.7 1203.1,715.6 1213.3,733.9 1223.5,778.3 1233.7,809.8 1243.9,832.9 1254.1,850.5 1264.3,860.6 1274.6,868.8 1284.8,876.7 1295.0,881.4 1305.2,892.8 1315.4,899.1 1325.6,907.0 1335.8,914.2 1346.0,918.2 1356.2,923.3 1366.4,926.8 1376.6,926.1 1386.8,929.6 1397.0,930.3 1407.2,933.0 1417.4,932.6 1427.6,933.7 1437.9,933.4 1448.1,931.9 1458.3,935.6 1468.5,935.0 1478.7,935.5 1488.9,940.4 1499.1,937.6 1509.3,935.7 1519.5,935.0"/>
<polyline points="1182.7,940.8 1192.9,785.4 1203.1,710.3 1213.3,728.1 1223.5,771.4 1233.7,804.5 1243.9,828.0 1254.1,846.7 1264.3,858.5 1274.6,863.9 1284.8,871.4 1295.0,877.6 1305.2,886.6 1315.4,896.8 1325.6,904.3 1335.8,909.8 1346.0,917.6 1356.2,917.1 1366.4,925.1 1376.6,928.7 1386.8,928.4 1397.0,930.6 1407.2,932.7 1417.4,934.0 1427.6,934.0 1437.9,933.9 1448.1,934.1 1458.3,935.6 1468.5,934.7 1478.7,934.3 1488.9,934.5 1499.1,939.9 1509.3,937.0 1519.5,936.9"/>
<polyline points="1182.7,940.1 1192.9,786.9 1203.1,707.9 1213.3,727.4 1223.5,773.0 1233.7,803.8 1243.9,829.6 1254.1,852.8 1264.3,859.5 1274.6,868.2 1284.8,874.9 1295.0,880.2 1305.2,889.3 1315.4,898.6 1325.6,905.3 1335.8,912.3 1346.0,918.1 1356.2,921.9 1366.4,925.3 1376.6,929.0 1386.8,931.2 1397.0,931.9 1407.2,934.3 1417.4,935.6 1427.6,933.0 1437.9,935.4 1448.1,935.2 1458.3,935.4 1468.5,935.3 1478.7,935.4 1488.9,935.5 1499.1,936.8 1509.3,934.5 1519.5,936.8"/>
<polyline points="1182.7,939.8 1192.9,794.7 1203.1,720.4 1213.3,737.3 1223.5,780.0 1233.7,813.5 1243.9,837.3 1254.1,856.8 1264.3,865.0 1274.6,872.6 1284.8,882.0 1295.0,886.1 1305.2,897.2 1315.4,907.2 1325.6,914.5 1335.8,915.2 1346.0,921.4 1356.2,925.7 1366.4,928.9 1376.6,931.5 1386.8,929.8 1397.0,932.8 1407.2,931.1 1417.4,934.8 1427.6,938.3 1437.9,934.0 1448.1,935.7 1458.3,935.7 1468.5,933.3 1478.7,935.9 1488.9,934.0 1499.1,935.7 1509.3,936.9 1519.5,935.2"/>
<polyline points="1182.7,940.5 1192.9,788.2 1203.1,713.4 1213.3,727.8 1223.5,774.6 1233.7,804.3 1243.9,829.1 1254.1,847.0 1264.3,857.4 1274.6,866.7 1284.8,873.2 1295.0,880.2 1305.2,886.4 1315.4,896.7 1325.6,903.4 1335.8,908.8 1346.0,916.5 1356.2,923.3 1366.4,924.5 1376.6,926.4 1386.8,930.4 1397.0,930.1 1407.2,931.8 1417.4,933.0 1427.6,934.9 1437.9,935.7 1448.1,935.5 1458.3,935.1 1468.5,934.6 1478.7,934.8 1488.9,935.9 1499.1,935.5 1509.3,935.2 1519.5,938.1"/>
<polyline points="1182.7,940.7 1192.9,793.3 1203.1,717.7 1213.3,733.4 1223.5,779.9 1233.7,808.5 1243.9,834.8 1254.1,850.8 1264.3,863.6 1274.6,871.4 1284.8,877.6 1295.0,885.2 1305.2,893.1 1315.4,899.0 1325.6,908.5 1335.8,913.8 1346.0,918.1 1356.2,924.9 1366.4,924.3 1376.6,928.2 1386.8,929.9 1397.0,933.5 1407.2,932.1 1417.4,933.6 1427.6,935.7 1437.9,931.9 1448.1,934.4 1458.3,935.6 1468.5,935.1 1478.7,934.2 1488.9,934.0 1499.1,934.9 1509.3,934.1 1519.5,933.8"/>
<polyline points="1182.7,940.4 1192.9,792.3 1203.1,720.7 1213.3,735.4 1223.5,778.2 1233.7,810.7 1243.9,834.5 1254.1,853.4 1264.3,866.0 1274.6,870.0 1284.8,877.4 1295.0,884.1 1305.2,894.2 1315.4,902.0 1325.6,909.5 1335.8,914.4 1346.0,919.4 1356.2,923.3 1366.4,924.0 1376.6,927.3 1386.8,932.1 1397.0,933.2 1407.2,930.8 1417.4,934.5 1427.6,933.1 1437.9,932.8 1448.1,935.9 1458.3,935.6 1468.5,935.2 1478.7,936.7 1488.9,936.9 1499.1,936.2 1509.3,934.6 1519.5,936.5"/>
<polyline points="1182.7,939.5 1192.9,794.1 1203.1,719.1 1213.3,737.2 1223.5,779.4 1233.7,809.6 1243.9,836.2 1254.1,854.2 1264.3,865.5 1274.6,870.8 1284.8,878.2 1295.0,884.9 1305.2,891.3 1315.4,900.5 1325.6,906.9 1335.8,913.9 1346.0,921.3 1356.2,923.2 1366.4,925.9 1376.6,931.1 1386.8,929.3 1397.0,932.2 1407.2,932.7 1417.4,935.3 1427.6,934.9 1437.9,934.7 1448.1,935.6 1458.3,935.2 1468.5,938.3 1478.7,933.6 1488.9,937.1 1499.1,938.7 1509.3,937.1 1519.5,937.0"/>
<polyline points="1182.7,941.2 1192.9,789.8 1203.1,713.3 1213.3,732.3 1223.5,775.4 1233.7,808.5 1243.9,832.1 1254.1,851.6 1264.3,864.7 1274.6,872.0 1284.8,879.0 1295.0,886.8 1305.2,893.9 1315.4,902.5 1325.6,910.8 1335.8,914.9 1346.0,918.9 1356.2,925.4 1366.4,927.5 1376.6,929.2 1386.8,931.6 1397.0,933.3 1407.2,932.2 1417.4,933.0 1427.6,934.0 1437.9,935.4 1448.1,932.4 1458.3,932.9 1468.5,935.9 1478.7,935.6 1488.9,933.9 1499.1,936.8 1509.3,935.2 1519.5,935.8"/>
<polyline points="1182.7,940.9 1192.9,792.9 1203.1,721.5 1213.3,736.8 1223.5,781.3 1233.7,810.3 1243.9,833.8 1254.1,853.1 1264.3,862.7 1274.6,872.7 1284.8,877.6 1295.0,885.6 1305.2,894.5 1315.4,902.4 1325.6,908.0 1335.8,913.1 1346.0,921.4 1356.2,921.0 1366.4,924.4 1376.6,929.6 1386.8,931.7 1397.0,932.3 1407.2,931.9 1417.4,934.6 1427.6,936.5 1437.9,934.6 1448.1,938.0 1458.3,935.1 1468.5,933.8 1478.7,935.1 1488.9,934.5 1499.1,935.0 1509.3,934.8 1519.5,935.7"/>
<polyline points="1182.7,939.6 1192.9,792.1 1203.1,719.8 1213.3,734.7 1223.5,778.2 1233.7,806.4 1243.9,832.1 1254.1,852.4 1264.3,863.1 1274.6,868.4 1284.8,876.2 1295.0,883.6 1305.2,891.5 1315.4,897.5 1325.6,908.0 1335.8,911.6 1346.0,917.3 1356.2,923.0 1366.4,925.0 1376.6,929.1 1386.8,932.1 1397.0,932.5 1407.2,934.4 1417.4,933.3 1427.6,934.9 1437.9,934.3 1448.1,934.0 1458.3,939.6 1468.5,934.9 1478.7,938.0 1488.9,935.3 1499.1,936.9 1509.3,935.6 1519.5,934.0"/>
<polyline points="1182.7,941.8 1192.9,790.5 1203.1,716.0 1213.3,732.3 1223.5,773.0 1233.7,808.4 1243.9,833.9 1254.1,852.8 1264.3,861.8 1274.6,869.4 1284.8,875.9 1295.0,884.0 1305.2,890.0 1315.4,899.5 1325.6,908.9 1335.8,914.4 1346.0,919.1 1356.2,921.4 1366.4,925.1 1376.6,929.1 1386.8,930.7 1397.0,931.7 1407.2,930.2 1417.4,934.8 1427.6,934.2 1437.9,934.1 1448.1,936.5 1458.3,935.0 1468.5,935.1 1478.7,936.1 1488.9,934.8 1499.1,934.2 1509.3,934.2 1519.5,936.1"/>
<polyline points="1182.7,940.4 1192.9,794.4 1203.1,721.2 1213.3,736.7 1223.5,779.7 1233.7,807.8 1243.9,830.2 1254.1,847.1 1264.3,858.8 1274.6,866.6 1284.8,872.9 1295.0,881.0 1305.2,885.6 1315.4,892.2 1325.6,900.2 1335.8,908.2 1346.0,917.3 1356.2,918.3 1366.4,925.1 1376.6,927.2 1386.8,927.0 1397.0,933.0 1407.2,931.3 1417.4,933.0 1427.6,934.5 1437.9,936.2 1448.1,934.5 1458.3,935.9 1468.5,933.9 1478.7,933.7 1488.9,937.4 1499.1,936.3 1509.3,936.1 1519.5,937.4"/>
</g>
<g fill="none" stroke="#F97C71" stroke-width="2.8" stroke-opacity="0.45" stroke-linejoin="round">
<polyline points="1629.3,410.4 1639.5,308.4 1649.7,236.5 1659.9,212.6 1670.1,195.4 1680.3,187.3 1690.5,187.6 1700.8,184.7 1711.0,181.6 1721.2,195.9 1731.4,208.9 1741.6,225.8 1751.8,238.5 1762.0,273.0 1772.2,294.4 1782.4,313.7 1792.6,321.6 1802.8,342.0 1813.0,362.2 1823.2,361.9 1833.4,368.5 1843.6,378.7 1853.8,382.3 1864.1,381.2 1874.3,379.5 1884.5,386.4 1894.7,385.2 1904.9,388.6 1915.1,390.6 1925.3,393.3 1935.5,387.9 1945.7,390.7 1955.9,390.6 1966.1,385.3"/>
<polyline points="1629.3,406.7 1639.5,313.2 1649.7,239.6 1659.9,212.2 1670.1,200.5 1680.3,194.6 1690.5,190.3 1700.8,185.7 1711.0,186.7 1721.2,190.7 1731.4,213.2 1741.6,230.1 1751.8,239.3 1762.0,256.3 1772.2,277.8 1782.4,298.5 1792.6,312.0 1802.8,339.3 1813.0,353.6 1823.2,370.5 1833.4,369.2 1843.6,372.3 1853.8,381.1 1864.1,377.2 1874.3,384.6 1884.5,379.5 1894.7,386.0 1904.9,393.2 1915.1,391.7 1925.3,396.2 1935.5,397.3 1945.7,388.0 1955.9,385.3 1966.1,380.4"/>
<polyline points="1629.3,405.9 1639.5,311.4 1649.7,234.3 1659.9,211.5 1670.1,204.3 1680.3,190.6 1690.5,186.3 1700.8,185.0 1711.0,186.1 1721.2,193.5 1731.4,204.2 1741.6,218.9 1751.8,250.5 1762.0,268.4 1772.2,283.9 1782.4,316.9 1792.6,332.9 1802.8,352.2 1813.0,347.2 1823.2,360.6 1833.4,370.7 1843.6,377.1 1853.8,383.2 1864.1,385.5 1874.3,382.7 1884.5,390.6 1894.7,382.0 1904.9,390.8 1915.1,392.9 1925.3,382.8 1935.5,389.8 1945.7,386.7 1955.9,391.5 1966.1,400.4"/>
<polyline points="1629.3,410.2 1639.5,310.4 1649.7,235.6 1659.9,211.1 1670.1,199.6 1680.3,185.0 1690.5,183.8 1700.8,179.8 1711.0,184.4 1721.2,197.8 1731.4,209.8 1741.6,233.9 1751.8,246.7 1762.0,268.7 1772.2,304.3 1782.4,322.8 1792.6,336.1 1802.8,351.0 1813.0,358.8 1823.2,377.8 1833.4,371.7 1843.6,375.6 1853.8,383.1 1864.1,390.9 1874.3,386.3 1884.5,390.0 1894.7,385.4 1904.9,389.0 1915.1,385.4 1925.3,391.1 1935.5,382.4 1945.7,400.3 1955.9,394.4 1966.1,387.4"/>
<polyline points="1629.3,407.4 1639.5,312.2 1649.7,237.1 1659.9,214.2 1670.1,202.1 1680.3,188.1 1690.5,187.1 1700.8,186.7 1711.0,183.0 1721.2,191.9 1731.4,200.5 1741.6,213.0 1751.8,242.8 1762.0,251.9 1772.2,273.7 1782.4,303.0 1792.6,321.3 1802.8,352.5 1813.0,354.2 1823.2,354.0 1833.4,379.1 1843.6,379.1 1853.8,378.7 1864.1,380.1 1874.3,377.1 1884.5,395.2 1894.7,387.4 1904.9,384.2 1915.1,395.0 1925.3,389.1 1935.5,380.2 1945.7,383.0 1955.9,386.9 1966.1,402.0"/>
<polyline points="1629.3,407.7 1639.5,311.8 1649.7,239.2 1659.9,212.6 1670.1,200.5 1680.3,190.7 1690.5,184.9 1700.8,180.9 1711.0,182.1 1721.2,195.0 1731.4,206.8 1741.6,219.7 1751.8,241.4 1762.0,253.1 1772.2,277.5 1782.4,310.0 1792.6,322.8 1802.8,330.2 1813.0,345.3 1823.2,363.6 1833.4,367.0 1843.6,380.4 1853.8,387.2 1864.1,380.4 1874.3,383.9 1884.5,384.6 1894.7,387.8 1904.9,386.8 1915.1,391.2 1925.3,386.7 1935.5,385.1 1945.7,389.6 1955.9,385.6 1966.1,398.1"/>
<polyline points="1629.3,407.2 1639.5,311.2 1649.7,231.6 1659.9,206.3 1670.1,197.6 1680.3,184.0 1690.5,179.1 1700.8,176.7 1711.0,179.5 1721.2,182.7 1731.4,202.5 1741.6,203.6 1751.8,226.9 1762.0,251.7 1772.2,262.2 1782.4,287.3 1792.6,317.8 1802.8,321.8 1813.0,351.3 1823.2,357.4 1833.4,362.0 1843.6,385.1 1853.8,374.0 1864.1,382.2 1874.3,384.1 1884.5,391.2 1894.7,385.8 1904.9,393.2 1915.1,393.2 1925.3,390.9 1935.5,394.8 1945.7,381.7 1955.9,395.7 1966.1,393.1"/>
<polyline points="1629.3,406.2 1639.5,310.4 1649.7,234.1 1659.9,208.3 1670.1,195.5 1680.3,188.5 1690.5,185.9 1700.8,175.2 1711.0,178.0 1721.2,191.0 1731.4,204.4 1741.6,224.7 1751.8,244.7 1762.0,261.8 1772.2,284.5 1782.4,310.5 1792.6,333.2 1802.8,342.6 1813.0,351.3 1823.2,366.6 1833.4,371.8 1843.6,387.3 1853.8,381.7 1864.1,383.8 1874.3,391.1 1884.5,395.3 1894.7,385.8 1904.9,392.2 1915.1,386.4 1925.3,390.9 1935.5,386.1 1945.7,390.9 1955.9,396.6 1966.1,390.1"/>
<polyline points="1629.3,408.3 1639.5,307.9 1649.7,233.9 1659.9,209.9 1670.1,198.5 1680.3,188.9 1690.5,183.5 1700.8,182.0 1711.0,182.8 1721.2,191.7 1731.4,193.6 1741.6,220.4 1751.8,238.6 1762.0,258.1 1772.2,278.9 1782.4,301.7 1792.6,327.8 1802.8,347.6 1813.0,350.0 1823.2,370.1 1833.4,369.4 1843.6,376.0 1853.8,374.5 1864.1,374.9 1874.3,383.1 1884.5,389.5 1894.7,393.2 1904.9,392.0 1915.1,388.5 1925.3,398.7 1935.5,388.7 1945.7,389.3 1955.9,386.4 1966.1,391.2"/>
<polyline points="1629.3,410.6 1639.5,307.5 1649.7,235.7 1659.9,211.6 1670.1,201.6 1680.3,187.7 1690.5,186.4 1700.8,181.1 1711.0,184.8 1721.2,199.7 1731.4,208.3 1741.6,229.5 1751.8,246.7 1762.0,266.6 1772.2,292.2 1782.4,316.0 1792.6,329.6 1802.8,348.0 1813.0,357.8 1823.2,370.2 1833.4,381.0 1843.6,381.8 1853.8,384.1 1864.1,383.9 1874.3,380.3 1884.5,395.4 1894.7,387.4 1904.9,399.1 1915.1,393.8 1925.3,391.4 1935.5,399.9 1945.7,398.2 1955.9,388.8 1966.1,389.4"/>
<polyline points="1629.3,407.9 1639.5,304.1 1649.7,228.8 1659.9,206.7 1670.1,190.9 1680.3,183.9 1690.5,177.1 1700.8,175.6 1711.0,180.8 1721.2,190.1 1731.4,207.2 1741.6,229.7 1751.8,247.1 1762.0,261.0 1772.2,291.4 1782.4,312.1 1792.6,327.3 1802.8,344.4 1813.0,364.7 1823.2,363.5 1833.4,369.1 1843.6,374.2 1853.8,373.9 1864.1,382.1 1874.3,382.2 1884.5,379.7 1894.7,389.3 1904.9,380.3 1915.1,380.5 1925.3,385.2 1935.5,380.4 1945.7,385.3 1955.9,393.7 1966.1,384.3"/>
<polyline points="1629.3,405.3 1639.5,313.8 1649.7,237.9 1659.9,212.4 1670.1,201.1 1680.3,189.9 1690.5,184.4 1700.8,182.4 1711.0,180.8 1721.2,189.5 1731.4,196.0 1741.6,215.1 1751.8,233.3 1762.0,252.1 1772.2,274.0 1782.4,306.4 1792.6,320.4 1802.8,337.7 1813.0,352.9 1823.2,365.3 1833.4,373.4 1843.6,378.4 1853.8,386.1 1864.1,380.5 1874.3,385.1 1884.5,386.5 1894.7,386.1 1904.9,384.9 1915.1,391.5 1925.3,389.4 1935.5,396.7 1945.7,399.8 1955.9,398.7 1966.1,382.4"/>
<polyline points="1629.3,408.4 1639.5,306.8 1649.7,233.4 1659.9,205.5 1670.1,195.0 1680.3,187.2 1690.5,179.3 1700.8,178.8 1711.0,180.7 1721.2,190.6 1731.4,190.7 1741.6,220.3 1751.8,235.4 1762.0,258.0 1772.2,277.3 1782.4,303.7 1792.6,324.1 1802.8,343.7 1813.0,358.1 1823.2,365.9 1833.4,369.1 1843.6,366.8 1853.8,374.9 1864.1,374.1 1874.3,382.5 1884.5,387.2 1894.7,393.8 1904.9,388.1 1915.1,398.8 1925.3,390.2 1935.5,381.2 1945.7,387.6 1955.9,384.0 1966.1,391.3"/>
<polyline points="1629.3,405.5 1639.5,312.3 1649.7,237.1 1659.9,212.8 1670.1,200.3 1680.3,192.7 1690.5,184.5 1700.8,181.7 1711.0,183.3 1721.2,198.6 1731.4,211.6 1741.6,235.7 1751.8,240.9 1762.0,270.9 1772.2,290.5 1782.4,314.1 1792.6,332.9 1802.8,349.3 1813.0,365.0 1823.2,357.8 1833.4,371.9 1843.6,376.9 1853.8,371.3 1864.1,384.1 1874.3,383.0 1884.5,387.0 1894.7,382.1 1904.9,386.0 1915.1,387.2 1925.3,390.0 1935.5,387.7 1945.7,383.7 1955.9,399.2 1966.1,390.2"/>
<polyline points="1629.3,406.3 1639.5,313.0 1649.7,240.8 1659.9,219.5 1670.1,204.2 1680.3,197.7 1690.5,190.4 1700.8,186.9 1711.0,187.4 1721.2,198.9 1731.4,214.0 1741.6,219.1 1751.8,244.6 1762.0,272.5 1772.2,292.2 1782.4,315.2 1792.6,331.0 1802.8,347.0 1813.0,360.4 1823.2,358.0 1833.4,372.8 1843.6,379.7 1853.8,382.4 1864.1,384.6 1874.3,378.9 1884.5,384.9 1894.7,382.4 1904.9,403.2 1915.1,387.1 1925.3,383.8 1935.5,379.7 1945.7,389.1 1955.9,397.5 1966.1,386.8"/>
<polyline points="1629.3,405.7 1639.5,308.3 1649.7,236.7 1659.9,206.5 1670.1,201.6 1680.3,190.9 1690.5,187.8 1700.8,180.4 1711.0,187.2 1721.2,200.9 1731.4,219.4 1741.6,237.1 1751.8,254.6 1762.0,286.8 1772.2,297.1 1782.4,317.2 1792.6,339.4 1802.8,350.9 1813.0,360.6 1823.2,362.7 1833.4,374.2 1843.6,379.5 1853.8,385.0 1864.1,391.7 1874.3,389.4 1884.5,387.1 1894.7,389.2 1904.9,388.1 1915.1,385.1 1925.3,386.8 1935.5,387.7 1945.7,386.1 1955.9,388.5 1966.1,389.8"/>
<polyline points="1629.3,409.7 1639.5,309.1 1649.7,231.0 1659.9,208.8 1670.1,197.6 1680.3,184.0 1690.5,179.9 1700.8,178.0 1711.0,183.0 1721.2,196.1 1731.4,211.5 1741.6,231.6 1751.8,259.0 1762.0,276.5 1772.2,298.5 1782.4,310.9 1792.6,334.0 1802.8,349.9 1813.0,355.4 1823.2,370.0 1833.4,375.8 1843.6,378.6 1853.8,389.4 1864.1,379.8 1874.3,384.3 1884.5,388.6 1894.7,393.3 1904.9,387.4 1915.1,381.9 1925.3,391.8 1935.5,394.0 1945.7,387.2 1955.9,396.9 1966.1,400.1"/>
<polyline points="1629.3,408.4 1639.5,310.2 1649.7,235.9 1659.9,212.1 1670.1,197.5 1680.3,187.9 1690.5,182.4 1700.8,180.6 1711.0,190.6 1721.2,198.6 1731.4,213.2 1741.6,227.1 1751.8,253.8 1762.0,260.5 1772.2,289.1 1782.4,315.9 1792.6,330.0 1802.8,346.7 1813.0,360.9 1823.2,364.0 1833.4,375.5 1843.6,384.9 1853.8,384.3 1864.1,384.1 1874.3,390.7 1884.5,381.0 1894.7,392.8 1904.9,379.9 1915.1,384.3 1925.3,393.2 1935.5,388.3 1945.7,383.5 1955.9,390.2 1966.1,395.1"/>
<polyline points="1629.3,406.6 1639.5,311.9 1649.7,238.9 1659.9,215.2 1670.1,199.8 1680.3,191.5 1690.5,190.0 1700.8,182.6 1711.0,187.7 1721.2,187.8 1731.4,198.1 1741.6,207.5 1751.8,227.7 1762.0,241.9 1772.2,267.6 1782.4,285.8 1792.6,311.2 1802.8,320.5 1813.0,348.0 1823.2,351.2 1833.4,363.9 1843.6,372.3 1853.8,380.8 1864.1,379.0 1874.3,390.5 1884.5,391.9 1894.7,383.6 1904.9,395.0 1915.1,381.4 1925.3,389.8 1935.5,387.5 1945.7,388.5 1955.9,387.0 1966.1,390.5"/>
<polyline points="1629.3,405.5 1639.5,306.7 1649.7,230.8 1659.9,210.3 1670.1,193.7 1680.3,184.8 1690.5,181.7 1700.8,176.9 1711.0,176.5 1721.2,190.6 1731.4,200.2 1741.6,220.1 1751.8,247.6 1762.0,262.1 1772.2,285.1 1782.4,304.8 1792.6,330.1 1802.8,343.0 1813.0,358.4 1823.2,364.1 1833.4,371.2 1843.6,372.6 1853.8,376.6 1864.1,382.1 1874.3,383.8 1884.5,386.2 1894.7,386.8 1904.9,380.7 1915.1,400.1 1925.3,389.4 1935.5,387.2 1945.7,383.6 1955.9,394.3 1966.1,387.7"/>
<polyline points="1629.3,408.1 1639.5,309.5 1649.7,238.6 1659.9,210.5 1670.1,201.8 1680.3,195.3 1690.5,189.2 1700.8,188.1 1711.0,186.5 1721.2,196.2 1731.4,214.5 1741.6,225.1 1751.8,251.4 1762.0,265.7 1772.2,279.0 1782.4,319.1 1792.6,324.6 1802.8,338.8 1813.0,365.5 1823.2,372.7 1833.4,377.6 1843.6,373.4 1853.8,383.1 1864.1,384.2 1874.3,382.0 1884.5,386.4 1894.7,386.5 1904.9,389.7 1915.1,383.1 1925.3,392.3 1935.5,380.9 1945.7,390.6 1955.9,393.0 1966.1,386.3"/>
<polyline points="1629.3,409.8 1639.5,309.5 1649.7,238.4 1659.9,211.4 1670.1,199.3 1680.3,184.7 1690.5,182.8 1700.8,183.0 1711.0,188.4 1721.2,203.1 1731.4,218.2 1741.6,236.1 1751.8,250.6 1762.0,277.0 1772.2,301.6 1782.4,320.2 1792.6,338.2 1802.8,349.6 1813.0,358.4 1823.2,366.5 1833.4,378.9 1843.6,388.0 1853.8,386.3 1864.1,383.2 1874.3,398.3 1884.5,389.6 1894.7,385.8 1904.9,391.1 1915.1,393.9 1925.3,380.5 1935.5,382.4 1945.7,390.4 1955.9,383.1 1966.1,383.4"/>
<polyline points="1629.3,408.0 1639.5,312.2 1649.7,241.8 1659.9,214.9 1670.1,199.2 1680.3,191.0 1690.5,187.5 1700.8,181.5 1711.0,185.5 1721.2,183.4 1731.4,195.6 1741.6,207.1 1751.8,223.7 1762.0,240.5 1772.2,260.9 1782.4,287.0 1792.6,310.0 1802.8,323.6 1813.0,341.2 1823.2,359.0 1833.4,367.2 1843.6,374.8 1853.8,377.6 1864.1,379.5 1874.3,382.6 1884.5,388.1 1894.7,386.8 1904.9,394.0 1915.1,401.9 1925.3,388.8 1935.5,396.6 1945.7,393.4 1955.9,394.8 1966.1,386.3"/>
<polyline points="1629.3,409.6 1639.5,308.4 1649.7,233.1 1659.9,209.3 1670.1,195.2 1680.3,189.9 1690.5,184.5 1700.8,182.9 1711.0,182.7 1721.2,193.9 1731.4,211.1 1741.6,213.2 1751.8,248.7 1762.0,258.2 1772.2,279.9 1782.4,305.4 1792.6,329.4 1802.8,341.0 1813.0,355.2 1823.2,368.7 1833.4,371.6 1843.6,379.2 1853.8,383.0 1864.1,379.8 1874.3,390.1 1884.5,385.0 1894.7,390.6 1904.9,386.3 1915.1,388.4 1925.3,387.8 1935.5,393.7 1945.7,393.0 1955.9,393.5 1966.1,388.8"/>
<polyline points="1629.3,407.5 1639.5,316.5 1649.7,240.3 1659.9,215.5 1670.1,203.7 1680.3,194.1 1690.5,184.5 1700.8,184.7 1711.0,186.4 1721.2,186.1 1731.4,202.0 1741.6,219.4 1751.8,231.4 1762.0,256.4 1772.2,267.7 1782.4,306.3 1792.6,325.7 1802.8,336.6 1813.0,353.2 1823.2,354.6 1833.4,377.1 1843.6,379.2 1853.8,378.5 1864.1,380.0 1874.3,379.9 1884.5,385.0 1894.7,377.2 1904.9,390.5 1915.1,388.0 1925.3,385.0 1935.5,390.7 1945.7,390.8 1955.9,391.8 1966.1,392.8"/>
<polyline points="1629.3,407.0 1639.5,306.0 1649.7,232.1 1659.9,210.7 1670.1,201.8 1680.3,194.4 1690.5,185.3 1700.8,185.2 1711.0,186.4 1721.2,201.2 1731.4,209.8 1741.6,234.8 1751.8,248.1 1762.0,277.5 1772.2,295.4 1782.4,312.0 1792.6,334.2 1802.8,348.2 1813.0,354.4 1823.2,367.5 1833.4,368.2 1843.6,390.3 1853.8,379.2 1864.1,381.8 1874.3,393.4 1884.5,393.7 1894.7,384.1 1904.9,393.9 1915.1,392.1 1925.3,386.4 1935.5,391.0 1945.7,387.4 1955.9,393.9 1966.1,388.6"/>
<polyline points="1629.3,406.6 1639.5,312.6 1649.7,234.1 1659.9,217.9 1670.1,199.2 1680.3,196.1 1690.5,186.5 1700.8,187.4 1711.0,190.2 1721.2,197.6 1731.4,209.8 1741.6,224.3 1751.8,238.8 1762.0,267.1 1772.2,282.7 1782.4,305.2 1792.6,328.2 1802.8,346.1 1813.0,358.9 1823.2,361.1 1833.4,368.4 1843.6,381.9 1853.8,387.3 1864.1,377.7 1874.3,392.9 1884.5,386.7 1894.7,391.9 1904.9,397.0 1915.1,388.5 1925.3,390.1 1935.5,382.6 1945.7,378.9 1955.9,390.7 1966.1,385.1"/>
<polyline points="1629.3,405.0 1639.5,312.2 1649.7,239.3 1659.9,214.9 1670.1,202.6 1680.3,190.2 1690.5,183.7 1700.8,184.7 1711.0,188.6 1721.2,198.1 1731.4,220.4 1741.6,232.7 1751.8,241.6 1762.0,257.3 1772.2,289.6 1782.4,318.8 1792.6,327.9 1802.8,356.3 1813.0,361.1 1823.2,359.8 1833.4,370.4 1843.6,385.3 1853.8,389.7 1864.1,380.1 1874.3,386.3 1884.5,390.4 1894.7,386.3 1904.9,391.5 1915.1,398.2 1925.3,385.4 1935.5,392.5 1945.7,394.4 1955.9,396.1 1966.1,388.8"/>
<polyline points="1629.3,405.9 1639.5,312.5 1649.7,240.9 1659.9,215.1 1670.1,198.4 1680.3,184.3 1690.5,187.4 1700.8,184.6 1711.0,182.1 1721.2,191.2 1731.4,208.7 1741.6,220.7 1751.8,245.8 1762.0,258.6 1772.2,275.5 1782.4,296.2 1792.6,324.0 1802.8,340.1 1813.0,350.0 1823.2,357.8 1833.4,368.7 1843.6,380.6 1853.8,378.7 1864.1,378.6 1874.3,388.5 1884.5,393.5 1894.7,385.5 1904.9,386.8 1915.1,384.4 1925.3,388.7 1935.5,392.4 1945.7,391.6 1955.9,394.6 1966.1,394.4"/>
<polyline points="1629.3,409.8 1639.5,308.8 1649.7,227.8 1659.9,206.9 1670.1,196.1 1680.3,185.3 1690.5,181.1 1700.8,179.9 1711.0,177.8 1721.2,192.0 1731.4,200.6 1741.6,220.0 1751.8,240.0 1762.0,264.3 1772.2,293.7 1782.4,308.2 1792.6,329.5 1802.8,341.1 1813.0,356.8 1823.2,369.4 1833.4,378.1 1843.6,375.1 1853.8,375.4 1864.1,385.2 1874.3,383.8 1884.5,380.9 1894.7,392.0 1904.9,390.3 1915.1,394.2 1925.3,383.6 1935.5,388.1 1945.7,391.7 1955.9,397.5 1966.1,390.8"/>
</g>
<g fill="none" stroke="#5DCBD0" stroke-width="2.8" stroke-opacity="0.45" stroke-linejoin="round">
<polyline points="1629.3,408.4 1639.5,333.8 1649.7,205.6 1659.9,189.0 1670.1,185.9 1680.3,182.0 1690.5,177.0 1700.8,176.9 1711.0,176.6 1721.2,174.8 1731.4,174.6 1741.6,178.8 1751.8,178.1 1762.0,174.3 1772.2,172.1 1782.4,171.5 1792.6,179.8 1802.8,173.4 1813.0,175.1 1823.2,178.4 1833.4,177.1 1843.6,176.6 1853.8,173.8 1864.1,184.4 1874.3,179.2 1884.5,182.5 1894.7,183.3 1904.9,179.1 1915.1,180.9 1925.3,187.9 1935.5,185.9 1945.7,184.7 1955.9,191.1 1966.1,183.7"/>
<polyline points="1629.3,407.1 1639.5,331.2 1649.7,207.8 1659.9,186.2 1670.1,184.7 1680.3,179.9 1690.5,180.3 1700.8,171.5 1711.0,173.6 1721.2,172.7 1731.4,173.6 1741.6,174.8 1751.8,177.2 1762.0,177.4 1772.2,173.3 1782.4,174.7 1792.6,169.8 1802.8,178.8 1813.0,178.3 1823.2,180.7 1833.4,172.8 1843.6,182.6 1853.8,176.2 1864.1,174.5 1874.3,180.6 1884.5,178.2 1894.7,188.9 1904.9,183.3 1915.1,188.4 1925.3,182.6 1935.5,183.7 1945.7,187.1 1955.9,181.6 1966.1,184.3"/>
<polyline points="1629.3,410.1 1639.5,321.9 1649.7,203.4 1659.9,186.7 1670.1,184.1 1680.3,177.9 1690.5,177.0 1700.8,177.8 1711.0,182.5 1721.2,177.8 1731.4,171.6 1741.6,176.9 1751.8,174.0 1762.0,178.0 1772.2,183.1 1782.4,175.3 1792.6,176.2 1802.8,179.8 1813.0,179.6 1823.2,177.7 1833.4,181.4 1843.6,178.7 1853.8,181.3 1864.1,189.5 1874.3,182.3 1884.5,184.5 1894.7,186.0 1904.9,182.2 1915.1,185.9 1925.3,182.9 1935.5,181.6 1945.7,185.5 1955.9,192.0 1966.1,189.8"/>
<polyline points="1629.3,409.0 1639.5,327.9 1649.7,203.2 1659.9,187.5 1670.1,185.3 1680.3,180.2 1690.5,178.2 1700.8,176.4 1711.0,182.9 1721.2,176.2 1731.4,179.9 1741.6,170.4 1751.8,170.0 1762.0,169.8 1772.2,173.0 1782.4,177.8 1792.6,173.2 1802.8,177.8 1813.0,175.4 1823.2,181.3 1833.4,180.7 1843.6,177.6 1853.8,173.7 1864.1,180.6 1874.3,173.2 1884.5,172.1 1894.7,186.9 1904.9,183.1 1915.1,186.9 1925.3,184.6 1935.5,186.6 1945.7,185.6 1955.9,182.5 1966.1,183.2"/>
<polyline points="1629.3,407.4 1639.5,328.5 1649.7,205.0 1659.9,188.5 1670.1,186.5 1680.3,176.6 1690.5,172.0 1700.8,175.0 1711.0,179.8 1721.2,169.9 1731.4,175.6 1741.6,185.1 1751.8,175.6 1762.0,172.8 1772.2,173.8 1782.4,171.0 1792.6,173.7 1802.8,176.0 1813.0,183.8 1823.2,181.3 1833.4,177.3 1843.6,176.2 1853.8,182.8 1864.1,182.0 1874.3,178.8 1884.5,187.8 1894.7,188.5 1904.9,183.1 1915.1,182.0 1925.3,185.2 1935.5,192.2 1945.7,184.6 1955.9,189.9 1966.1,183.6"/>
<polyline points="1629.3,406.5 1639.5,327.2 1649.7,200.3 1659.9,187.6 1670.1,178.4 1680.3,179.8 1690.5,173.6 1700.8,174.0 1711.0,177.6 1721.2,174.2 1731.4,175.6 1741.6,175.9 1751.8,173.8 1762.0,170.5 1772.2,175.6 1782.4,174.3 1792.6,180.4 1802.8,175.3 1813.0,172.1 1823.2,173.9 1833.4,175.6 1843.6,179.8 1853.8,182.0 1864.1,179.5 1874.3,184.5 1884.5,184.7 1894.7,177.7 1904.9,184.9 1915.1,175.9 1925.3,187.9 1935.5,181.9 1945.7,188.1 1955.9,184.0 1966.1,188.9"/>
<polyline points="1629.3,408.4 1639.5,328.7 1649.7,211.4 1659.9,190.9 1670.1,184.6 1680.3,179.2 1690.5,171.2 1700.8,183.7 1711.0,177.6 1721.2,181.4 1731.4,176.0 1741.6,175.8 1751.8,161.7 1762.0,174.1 1772.2,169.2 1782.4,171.2 1792.6,177.8 1802.8,175.1 1813.0,171.4 1823.2,177.2 1833.4,177.6 1843.6,177.2 1853.8,184.9 1864.1,183.1 1874.3,179.6 1884.5,179.5 1894.7,185.3 1904.9,183.8 1915.1,183.7 1925.3,184.4 1935.5,182.0 1945.7,184.7 1955.9,185.1 1966.1,191.2"/>
<polyline points="1629.3,410.3 1639.5,326.6 1649.7,198.0 1659.9,181.3 1670.1,181.0 1680.3,180.3 1690.5,177.8 1700.8,174.6 1711.0,164.3 1721.2,181.3 1731.4,173.7 1741.6,174.7 1751.8,170.6 1762.0,175.5 1772.2,183.0 1782.4,169.9 1792.6,178.9 1802.8,175.8 1813.0,180.9 1823.2,180.5 1833.4,178.9 1843.6,174.8 1853.8,175.4 1864.1,181.2 1874.3,177.9 1884.5,181.6 1894.7,180.5 1904.9,181.0 1915.1,179.9 1925.3,184.9 1935.5,183.8 1945.7,183.2 1955.9,184.2 1966.1,187.9"/>
<polyline points="1629.3,406.4 1639.5,331.1 1649.7,218.8 1659.9,190.0 1670.1,187.1 1680.3,183.4 1690.5,177.7 1700.8,168.9 1711.0,174.3 1721.2,180.3 1731.4,177.4 1741.6,171.2 1751.8,181.0 1762.0,176.9 1772.2,177.4 1782.4,169.0 1792.6,178.2 1802.8,173.0 1813.0,180.6 1823.2,181.5 1833.4,175.7 1843.6,177.6 1853.8,186.6 1864.1,178.8 1874.3,179.4 1884.5,184.5 1894.7,182.2 1904.9,182.6 1915.1,185.8 1925.3,186.8 1935.5,187.7 1945.7,186.9 1955.9,191.2 1966.1,187.2"/>
<polyline points="1629.3,407.8 1639.5,325.0 1649.7,195.0 1659.9,182.9 1670.1,185.0 1680.3,175.2 1690.5,176.1 1700.8,175.7 1711.0,176.9 1721.2,174.6 1731.4,169.5 1741.6,172.6 1751.8,176.2 1762.0,177.2 1772.2,176.5 1782.4,173.3 1792.6,169.2 1802.8,180.1 1813.0,176.8 1823.2,178.7 1833.4,180.5 1843.6,177.1 1853.8,177.2 1864.1,184.8 1874.3,184.0 1884.5,176.8 1894.7,180.5 1904.9,180.4 1915.1,184.6 1925.3,184.8 1935.5,182.4 1945.7,186.4 1955.9,189.1 1966.1,185.8"/>
<polyline points="1629.3,405.9 1639.5,332.4 1649.7,205.9 1659.9,191.5 1670.1,183.3 1680.3,179.7 1690.5,183.1 1700.8,183.1 1711.0,174.0 1721.2,177.0 1731.4,175.8 1741.6,176.2 1751.8,172.2 1762.0,182.0 1772.2,174.1 1782.4,181.1 1792.6,176.1 1802.8,174.4 1813.0,184.5 1823.2,178.7 1833.4,181.7 1843.6,182.3 1853.8,181.8 1864.1,186.2 1874.3,186.5 1884.5,181.5 1894.7,181.4 1904.9,187.0 1915.1,190.7 1925.3,178.0 1935.5,182.9 1945.7,186.1 1955.9,191.5 1966.1,190.6"/>
<polyline points="1629.3,405.0 1639.5,332.9 1649.7,215.3 1659.9,198.4 1670.1,189.4 1680.3,180.5 1690.5,180.1 1700.8,179.2 1711.0,176.3 1721.2,176.4 1731.4,171.8 1741.6,177.9 1751.8,180.9 1762.0,177.6 1772.2,172.6 1782.4,179.9 1792.6,178.3 1802.8,180.2 1813.0,178.0 1823.2,179.0 1833.4,183.4 1843.6,181.9 1853.8,178.4 1864.1,178.5 1874.3,179.7 1884.5,180.6 1894.7,185.4 1904.9,186.1 1915.1,182.1 1925.3,190.1 1935.5,186.8 1945.7,193.6 1955.9,189.1 1966.1,190.8"/>
<polyline points="1629.3,408.9 1639.5,327.9 1649.7,201.6 1659.9,181.7 1670.1,181.4 1680.3,176.9 1690.5,179.0 1700.8,175.9 1711.0,174.6 1721.2,174.3 1731.4,175.1 1741.6,172.8 1751.8,168.0 1762.0,174.1 1772.2,174.2 1782.4,175.4 1792.6,165.7 1802.8,169.4 1813.0,173.6 1823.2,173.6 1833.4,179.1 1843.6,177.8 1853.8,177.1 1864.1,178.1 1874.3,182.1 1884.5,182.5 1894.7,178.6 1904.9,179.9 1915.1,188.9 1925.3,181.9 1935.5,178.3 1945.7,185.6 1955.9,183.1 1966.1,189.7"/>
<polyline points="1629.3,409.7 1639.5,324.5 1649.7,209.2 1659.9,196.0 1670.1,184.5 1680.3,181.0 1690.5,175.2 1700.8,183.0 1711.0,183.3 1721.2,178.7 1731.4,176.1 1741.6,176.3 1751.8,173.9 1762.0,183.1 1772.2,180.9 1782.4,178.8 1792.6,175.9 1802.8,177.7 1813.0,181.3 1823.2,183.9 1833.4,177.8 1843.6,178.2 1853.8,172.6 1864.1,183.3 1874.3,177.7 1884.5,188.1 1894.7,186.4 1904.9,187.5 1915.1,187.3 1925.3,189.4 1935.5,188.8 1945.7,187.7 1955.9,189.6 1966.1,186.4"/>
<polyline points="1629.3,405.2 1639.5,328.3 1649.7,202.7 1659.9,188.0 1670.1,180.6 1680.3,181.0 1690.5,173.8 1700.8,170.3 1711.0,170.9 1721.2,176.4 1731.4,180.1 1741.6,176.2 1751.8,174.4 1762.0,172.2 1772.2,175.9 1782.4,176.6 1792.6,170.7 1802.8,178.8 1813.0,173.3 1823.2,174.3 1833.4,182.7 1843.6,177.7 1853.8,181.2 1864.1,183.2 1874.3,187.0 1884.5,186.6 1894.7,180.3 1904.9,183.7 1915.1,182.0 1925.3,187.3 1935.5,185.3 1945.7,185.7 1955.9,190.8 1966.1,191.8"/>
<polyline points="1629.3,409.2 1639.5,328.8 1649.7,200.7 1659.9,192.6 1670.1,181.3 1680.3,172.8 1690.5,176.3 1700.8,170.2 1711.0,183.6 1721.2,169.3 1731.4,174.2 1741.6,180.9 1751.8,171.8 1762.0,171.0 1772.2,170.6 1782.4,170.9 1792.6,175.7 1802.8,178.7 1813.0,178.2 1823.2,177.2 1833.4,176.3 1843.6,180.0 1853.8,178.8 1864.1,176.5 1874.3,179.0 1884.5,172.8 1894.7,173.9 1904.9,186.0 1915.1,184.6 1925.3,187.8 1935.5,187.9 1945.7,182.5 1955.9,188.5 1966.1,189.3"/>
<polyline points="1629.3,408.2 1639.5,323.8 1649.7,196.5 1659.9,182.9 1670.1,176.5 1680.3,179.6 1690.5,174.3 1700.8,175.9 1711.0,169.3 1721.2,169.8 1731.4,176.2 1741.6,168.0 1751.8,176.9 1762.0,168.9 1772.2,172.5 1782.4,176.5 1792.6,177.9 1802.8,175.5 1813.0,175.1 1823.2,178.0 1833.4,174.1 1843.6,181.6 1853.8,177.3 1864.1,177.9 1874.3,185.1 1884.5,178.1 1894.7,184.2 1904.9,189.2 1915.1,183.2 1925.3,182.4 1935.5,179.1 1945.7,184.5 1955.9,178.3 1966.1,179.0"/>
<polyline points="1629.3,407.1 1639.5,325.1 1649.7,195.6 1659.9,183.4 1670.1,179.0 1680.3,179.8 1690.5,171.7 1700.8,171.1 1711.0,176.1 1721.2,171.0 1731.4,168.6 1741.6,171.7 1751.8,168.8 1762.0,169.0 1772.2,177.0 1782.4,173.2 1792.6,170.9 1802.8,169.9 1813.0,168.7 1823.2,180.9 1833.4,175.0 1843.6,172.8 1853.8,171.7 1864.1,170.7 1874.3,180.5 1884.5,179.2 1894.7,182.2 1904.9,176.2 1915.1,184.4 1925.3,176.2 1935.5,177.7 1945.7,179.8 1955.9,189.8 1966.1,185.1"/>
<polyline points="1629.3,408.1 1639.5,327.9 1649.7,206.0 1659.9,191.5 1670.1,187.2 1680.3,182.4 1690.5,180.9 1700.8,176.8 1711.0,179.2 1721.2,174.7 1731.4,184.2 1741.6,174.1 1751.8,179.1 1762.0,174.7 1772.2,178.6 1782.4,176.1 1792.6,174.4 1802.8,182.1 1813.0,180.3 1823.2,181.7 1833.4,180.9 1843.6,188.0 1853.8,183.5 1864.1,184.4 1874.3,186.9 1884.5,185.4 1894.7,190.7 1904.9,181.0 1915.1,184.9 1925.3,180.5 1935.5,190.7 1945.7,192.4 1955.9,187.8 1966.1,195.3"/>
<polyline points="1629.3,408.2 1639.5,331.6 1649.7,203.3 1659.9,191.1 1670.1,188.9 1680.3,178.0 1690.5,182.4 1700.8,177.2 1711.0,181.1 1721.2,179.5 1731.4,171.8 1741.6,178.5 1751.8,179.0 1762.0,178.9 1772.2,178.1 1782.4,172.3 1792.6,182.0 1802.8,182.7 1813.0,176.8 1823.2,184.9 1833.4,181.2 1843.6,176.5 1853.8,181.1 1864.1,183.4 1874.3,184.8 1884.5,186.2 1894.7,185.7 1904.9,183.7 1915.1,180.4 1925.3,182.0 1935.5,187.9 1945.7,189.1 1955.9,184.7 1966.1,194.1"/>
<polyline points="1629.3,409.5 1639.5,327.9 1649.7,207.7 1659.9,191.4 1670.1,184.7 1680.3,179.6 1690.5,181.6 1700.8,172.9 1711.0,177.0 1721.2,176.6 1731.4,176.8 1741.6,178.1 1751.8,179.3 1762.0,172.0 1772.2,175.5 1782.4,176.9 1792.6,173.5 1802.8,180.0 1813.0,175.8 1823.2,178.4 1833.4,182.2 1843.6,177.0 1853.8,185.5 1864.1,178.6 1874.3,184.6 1884.5,180.7 1894.7,177.9 1904.9,181.4 1915.1,186.1 1925.3,184.7 1935.5,186.4 1945.7,189.9 1955.9,190.2 1966.1,186.8"/>
<polyline points="1629.3,407.9 1639.5,330.1 1649.7,209.9 1659.9,190.1 1670.1,190.2 1680.3,181.8 1690.5,177.3 1700.8,187.7 1711.0,178.9 1721.2,178.5 1731.4,178.6 1741.6,182.2 1751.8,180.8 1762.0,184.8 1772.2,179.6 1782.4,178.4 1792.6,183.1 1802.8,184.5 1813.0,183.4 1823.2,182.3 1833.4,182.6 1843.6,183.8 1853.8,183.8 1864.1,189.2 1874.3,194.8 1884.5,183.7 1894.7,181.5 1904.9,192.0 1915.1,190.0 1925.3,187.2 1935.5,185.5 1945.7,187.2 1955.9,185.5 1966.1,190.8"/>
<polyline points="1629.3,408.5 1639.5,329.2 1649.7,203.2 1659.9,191.3 1670.1,180.0 1680.3,181.0 1690.5,175.1 1700.8,184.2 1711.0,177.8 1721.2,171.5 1731.4,175.5 1741.6,173.5 1751.8,179.9 1762.0,169.0 1772.2,172.5 1782.4,175.0 1792.6,173.9 1802.8,174.7 1813.0,171.4 1823.2,176.1 1833.4,182.6 1843.6,179.0 1853.8,174.2 1864.1,177.3 1874.3,181.4 1884.5,178.4 1894.7,180.8 1904.9,179.7 1915.1,187.9 1925.3,186.1 1935.5,181.3 1945.7,185.0 1955.9,183.6 1966.1,178.6"/>
<polyline points="1629.3,408.7 1639.5,330.9 1649.7,209.6 1659.9,196.0 1670.1,179.4 1680.3,178.9 1690.5,173.6 1700.8,175.1 1711.0,174.2 1721.2,172.2 1731.4,171.9 1741.6,178.7 1751.8,170.5 1762.0,178.2 1772.2,174.3 1782.4,166.4 1792.6,175.5 1802.8,170.5 1813.0,178.0 1823.2,175.2 1833.4,177.7 1843.6,177.1 1853.8,182.1 1864.1,182.9 1874.3,179.2 1884.5,186.4 1894.7,184.5 1904.9,180.0 1915.1,184.9 1925.3,186.5 1935.5,187.9 1945.7,184.1 1955.9,186.5 1966.1,185.3"/>
<polyline points="1629.3,408.5 1639.5,332.4 1649.7,207.4 1659.9,189.7 1670.1,185.3 1680.3,171.6 1690.5,172.7 1700.8,171.6 1711.0,176.2 1721.2,168.8 1731.4,170.5 1741.6,165.8 1751.8,172.1 1762.0,175.1 1772.2,170.5 1782.4,174.4 1792.6,170.3 1802.8,176.0 1813.0,173.2 1823.2,174.1 1833.4,174.0 1843.6,176.3 1853.8,177.9 1864.1,176.0 1874.3,178.4 1884.5,176.5 1894.7,178.6 1904.9,186.0 1915.1,179.1 1925.3,174.7 1935.5,179.1 1945.7,178.6 1955.9,179.7 1966.1,183.6"/>
<polyline points="1629.3,406.0 1639.5,324.1 1649.7,195.0 1659.9,183.1 1670.1,178.0 1680.3,177.2 1690.5,174.4 1700.8,177.4 1711.0,175.5 1721.2,171.1 1731.4,174.1 1741.6,181.4 1751.8,172.8 1762.0,181.3 1772.2,167.0 1782.4,171.4 1792.6,172.1 1802.8,177.2 1813.0,179.3 1823.2,176.6 1833.4,176.4 1843.6,179.7 1853.8,177.2 1864.1,176.0 1874.3,176.9 1884.5,183.1 1894.7,187.6 1904.9,180.8 1915.1,183.7 1925.3,180.5 1935.5,177.0 1945.7,177.6 1955.9,182.8 1966.1,180.6"/>
<polyline points="1629.3,407.3 1639.5,331.6 1649.7,208.5 1659.9,193.4 1670.1,183.9 1680.3,180.7 1690.5,175.0 1700.8,177.1 1711.0,170.2 1721.2,170.8 1731.4,179.0 1741.6,171.3 1751.8,176.5 1762.0,170.6 1772.2,173.7 1782.4,175.9 1792.6,173.9 1802.8,178.6 1813.0,176.1 1823.2,176.4 1833.4,178.8 1843.6,177.6 1853.8,182.9 1864.1,178.2 1874.3,184.9 1884.5,179.3 1894.7,180.4 1904.9,180.2 1915.1,185.1 1925.3,173.5 1935.5,185.1 1945.7,184.4 1955.9,188.1 1966.1,181.3"/>
<polyline points="1629.3,409.2 1639.5,330.2 1649.7,200.0 1659.9,188.1 1670.1,182.9 1680.3,175.4 1690.5,177.8 1700.8,176.7 1711.0,170.1 1721.2,178.8 1731.4,169.7 1741.6,173.8 1751.8,175.7 1762.0,171.9 1772.2,170.8 1782.4,175.2 1792.6,174.3 1802.8,171.5 1813.0,172.2 1823.2,175.4 1833.4,178.4 1843.6,179.6 1853.8,179.0 1864.1,175.4 1874.3,176.3 1884.5,177.9 1894.7,174.9 1904.9,181.2 1915.1,182.0 1925.3,182.6 1935.5,175.5 1945.7,189.5 1955.9,182.2 1966.1,182.2"/>
<polyline points="1629.3,405.8 1639.5,332.7 1649.7,201.8 1659.9,187.6 1670.1,178.4 1680.3,172.7 1690.5,172.5 1700.8,167.9 1711.0,163.7 1721.2,165.5 1731.4,168.1 1741.6,175.5 1751.8,165.5 1762.0,165.7 1772.2,170.1 1782.4,171.4 1792.6,168.1 1802.8,173.5 1813.0,168.6 1823.2,175.4 1833.4,175.5 1843.6,173.0 1853.8,178.5 1864.1,174.3 1874.3,173.1 1884.5,180.0 1894.7,173.1 1904.9,178.7 1915.1,175.6 1925.3,177.3 1935.5,180.2 1945.7,181.0 1955.9,185.6 1966.1,182.8"/>
<polyline points="1629.3,406.0 1639.5,326.2 1649.7,199.8 1659.9,186.2 1670.1,177.4 1680.3,172.8 1690.5,174.3 1700.8,172.5 1711.0,170.2 1721.2,173.9 1731.4,169.8 1741.6,170.8 1751.8,173.0 1762.0,173.7 1772.2,170.1 1782.4,168.4 1792.6,170.8 1802.8,175.2 1813.0,170.4 1823.2,172.8 1833.4,172.0 1843.6,170.7 1853.8,178.2 1864.1,176.3 1874.3,178.5 1884.5,180.0 1894.7,171.1 1904.9,175.2 1915.1,184.9 1925.3,178.2 1935.5,182.0 1945.7,177.0 1955.9,181.1 1966.1,182.6"/>
</g>
<g fill="none" stroke="#F97C71" stroke-width="2.8" stroke-opacity="0.45" stroke-linejoin="round">
<polyline points="1630.0,681.1 1640.2,590.8 1650.4,500.6 1660.6,483.4 1670.8,472.4 1681.0,464.3 1691.2,456.8 1701.4,455.1 1711.6,456.5 1721.8,463.9 1732.0,472.8 1742.2,488.8 1752.4,508.3 1762.6,531.2 1772.8,556.7 1783.1,577.4 1793.3,597.0 1803.5,611.3 1813.7,624.1 1823.9,633.9 1834.1,642.8 1844.3,647.3 1854.5,653.1 1864.7,656.9 1874.9,659.0 1885.1,660.0 1895.3,660.1 1905.5,661.8 1915.7,663.2 1925.9,663.3 1936.1,664.0 1946.3,664.5 1956.6,665.5 1966.8,667.2"/>
<polyline points="1630.0,683.8 1640.2,591.5 1650.4,496.6 1660.6,482.0 1670.8,472.4 1681.0,463.1 1691.2,457.8 1701.4,453.6 1711.6,455.7 1721.8,463.0 1732.0,471.0 1742.2,486.7 1752.4,503.8 1762.6,527.6 1772.8,552.7 1783.1,575.8 1793.3,592.4 1803.5,607.9 1813.7,623.0 1823.9,631.9 1834.1,641.9 1844.3,648.1 1854.5,652.6 1864.7,656.5 1874.9,657.2 1885.1,660.2 1895.3,662.5 1905.5,660.3 1915.7,662.0 1925.9,664.2 1936.1,664.4 1946.3,665.2 1956.6,664.8 1966.8,665.0"/>
<polyline points="1630.0,679.6 1640.2,589.5 1650.4,500.6 1660.6,483.4 1670.8,473.2 1681.0,465.8 1691.2,457.4 1701.4,455.3 1711.6,459.0 1721.8,466.5 1732.0,475.9 1742.2,494.0 1752.4,513.1 1762.6,537.1 1772.8,561.2 1783.1,581.3 1793.3,599.2 1803.5,614.1 1813.7,626.8 1823.9,635.3 1834.1,644.1 1844.3,650.4 1854.5,654.4 1864.7,657.2 1874.9,659.4 1885.1,661.8 1895.3,660.8 1905.5,662.1 1915.7,662.9 1925.9,662.7 1936.1,664.7 1946.3,664.7 1956.6,664.8 1966.8,665.7"/>
<polyline points="1630.0,678.9 1640.2,588.7 1650.4,497.0 1660.6,480.9 1670.8,471.6 1681.0,463.0 1691.2,456.9 1701.4,453.9 1711.6,454.8 1721.8,461.7 1732.0,471.9 1742.2,487.6 1752.4,507.6 1762.6,529.4 1772.8,553.8 1783.1,576.5 1793.3,595.1 1803.5,611.2 1813.7,621.8 1823.9,634.6 1834.1,643.1 1844.3,647.8 1854.5,654.0 1864.7,655.7 1874.9,657.7 1885.1,660.7 1895.3,662.0 1905.5,662.3 1915.7,664.1 1925.9,662.4 1936.1,664.1 1946.3,665.1 1956.6,665.6 1966.8,664.9"/>
<polyline points="1630.0,683.2 1640.2,590.0 1650.4,496.5 1660.6,482.8 1670.8,472.7 1681.0,465.4 1691.2,457.3 1701.4,456.5 1711.6,458.1 1721.8,467.0 1732.0,479.2 1742.2,496.1 1752.4,516.5 1762.6,539.7 1772.8,564.6 1783.1,584.7 1793.3,601.3 1803.5,617.0 1813.7,628.9 1823.9,638.9 1834.1,646.0 1844.3,650.5 1854.5,655.3 1864.7,657.9 1874.9,660.6 1885.1,661.8 1895.3,662.3 1905.5,661.8 1915.7,663.5 1925.9,664.5 1936.1,663.8 1946.3,664.3 1956.6,665.7 1966.8,665.9"/>
<polyline points="1630.0,680.4 1640.2,589.9 1650.4,499.9 1660.6,482.9 1670.8,472.7 1681.0,466.1 1691.2,457.9 1701.4,454.8 1711.6,458.7 1721.8,463.1 1732.0,475.4 1742.2,490.3 1752.4,509.7 1762.6,531.8 1772.8,555.8 1783.1,578.5 1793.3,595.9 1803.5,611.2 1813.7,623.2 1823.9,632.6 1834.1,643.4 1844.3,650.7 1854.5,653.7 1864.7,657.5 1874.9,658.6 1885.1,660.5 1895.3,662.2 1905.5,662.9 1915.7,663.0 1925.9,663.7 1936.1,666.2 1946.3,663.8 1956.6,664.9 1966.8,665.3"/>
<polyline points="1630.0,679.3 1640.2,591.0 1650.4,500.2 1660.6,484.3 1670.8,471.5 1681.0,463.7 1691.2,457.5 1701.4,456.0 1711.6,458.3 1721.8,467.5 1732.0,476.2 1742.2,493.7 1752.4,516.1 1762.6,539.6 1772.8,560.7 1783.1,582.8 1793.3,602.6 1803.5,615.8 1813.7,628.9 1823.9,638.7 1834.1,645.4 1844.3,648.2 1854.5,653.5 1864.7,657.2 1874.9,659.5 1885.1,660.6 1895.3,660.7 1905.5,663.4 1915.7,664.5 1925.9,662.3 1936.1,664.1 1946.3,663.4 1956.6,664.9 1966.8,664.3"/>
<polyline points="1630.0,679.3 1640.2,587.4 1650.4,494.7 1660.6,479.9 1670.8,468.3 1681.0,460.4 1691.2,454.2 1701.4,452.6 1711.6,453.0 1721.8,460.1 1732.0,471.0 1742.2,487.7 1752.4,504.9 1762.6,528.3 1772.8,553.0 1783.1,577.5 1793.3,596.2 1803.5,609.2 1813.7,622.4 1823.9,633.5 1834.1,643.0 1844.3,648.0 1854.5,653.3 1864.7,656.6 1874.9,659.1 1885.1,660.2 1895.3,661.5 1905.5,661.2 1915.7,662.1 1925.9,664.1 1936.1,662.7 1946.3,665.4 1956.6,664.5 1966.8,664.4"/>
<polyline points="1630.0,679.0 1640.2,590.7 1650.4,496.3 1660.6,480.2 1670.8,470.2 1681.0,461.3 1691.2,455.8 1701.4,451.9 1711.6,456.7 1721.8,467.9 1732.0,481.2 1742.2,498.8 1752.4,520.6 1762.6,544.6 1772.8,568.5 1783.1,587.8 1793.3,606.4 1803.5,621.2 1813.7,631.0 1823.9,639.3 1834.1,647.0 1844.3,652.1 1854.5,655.4 1864.7,656.2 1874.9,659.9 1885.1,661.5 1895.3,662.4 1905.5,660.9 1915.7,663.2 1925.9,663.5 1936.1,663.4 1946.3,663.9 1956.6,665.9 1966.8,664.8"/>
<polyline points="1630.0,681.6 1640.2,589.3 1650.4,495.0 1660.6,480.5 1670.8,469.5 1681.0,463.3 1691.2,455.8 1701.4,452.8 1711.6,454.7 1721.8,461.4 1732.0,471.5 1742.2,486.7 1752.4,508.1 1762.6,528.7 1772.8,554.4 1783.1,576.7 1793.3,596.0 1803.5,609.5 1813.7,624.0 1823.9,633.6 1834.1,642.0 1844.3,647.1 1854.5,652.0 1864.7,655.9 1874.9,659.4 1885.1,659.4 1895.3,660.2 1905.5,661.3 1915.7,662.1 1925.9,663.4 1936.1,664.5 1946.3,663.7 1956.6,663.9 1966.8,666.1"/>
<polyline points="1630.0,680.4 1640.2,590.5 1650.4,499.0 1660.6,484.0 1670.8,470.7 1681.0,462.5 1691.2,456.7 1701.4,452.0 1711.6,455.9 1721.8,461.3 1732.0,470.8 1742.2,488.0 1752.4,507.1 1762.6,530.7 1772.8,554.7 1783.1,578.7 1793.3,595.9 1803.5,611.0 1813.7,623.4 1823.9,634.5 1834.1,642.6 1844.3,648.4 1854.5,652.7 1864.7,655.5 1874.9,658.4 1885.1,659.7 1895.3,661.0 1905.5,661.6 1915.7,663.2 1925.9,662.9 1936.1,663.2 1946.3,664.6 1956.6,664.3 1966.8,665.0"/>
<polyline points="1630.0,681.4 1640.2,588.1 1650.4,495.0 1660.6,477.6 1670.8,469.1 1681.0,461.8 1691.2,455.6 1701.4,451.7 1711.6,454.5 1721.8,461.8 1732.0,471.2 1742.2,487.1 1752.4,505.5 1762.6,530.8 1772.8,554.2 1783.1,577.2 1793.3,596.7 1803.5,609.2 1813.7,625.1 1823.9,633.0 1834.1,644.2 1844.3,648.3 1854.5,651.2 1864.7,658.1 1874.9,659.6 1885.1,659.4 1895.3,661.0 1905.5,662.4 1915.7,662.7 1925.9,664.2 1936.1,664.0 1946.3,663.3 1956.6,665.2 1966.8,665.2"/>
<polyline points="1630.0,680.3 1640.2,590.7 1650.4,498.7 1660.6,483.3 1670.8,473.8 1681.0,466.4 1691.2,459.3 1701.4,455.4 1711.6,455.7 1721.8,462.2 1732.0,470.3 1742.2,482.3 1752.4,499.9 1762.6,522.7 1772.8,547.0 1783.1,568.2 1793.3,589.8 1803.5,606.3 1813.7,620.7 1823.9,630.9 1834.1,640.2 1844.3,645.5 1854.5,651.7 1864.7,655.2 1874.9,657.1 1885.1,658.6 1895.3,662.0 1905.5,660.5 1915.7,662.5 1925.9,663.3 1936.1,664.2 1946.3,664.7 1956.6,665.0 1966.8,667.0"/>
<polyline points="1630.0,680.8 1640.2,590.6 1650.4,500.0 1660.6,482.6 1670.8,473.9 1681.0,465.6 1691.2,459.2 1701.4,455.8 1711.6,457.3 1721.8,464.7 1732.0,475.8 1742.2,490.8 1752.4,510.8 1762.6,534.2 1772.8,557.7 1783.1,580.1 1793.3,598.7 1803.5,612.4 1813.7,625.8 1823.9,634.9 1834.1,644.2 1844.3,649.8 1854.5,654.0 1864.7,657.1 1874.9,658.9 1885.1,660.5 1895.3,661.5 1905.5,662.7 1915.7,661.7 1925.9,662.9 1936.1,664.1 1946.3,663.8 1956.6,664.7 1966.8,665.5"/>
<polyline points="1630.0,679.2 1640.2,590.1 1650.4,496.7 1660.6,481.7 1670.8,470.0 1681.0,461.4 1691.2,455.9 1701.4,451.9 1711.6,453.6 1721.8,458.0 1732.0,466.7 1742.2,475.9 1752.4,494.8 1762.6,517.3 1772.8,540.7 1783.1,565.4 1793.3,585.7 1803.5,603.6 1813.7,617.0 1823.9,629.6 1834.1,637.9 1844.3,646.1 1854.5,651.1 1864.7,655.4 1874.9,657.5 1885.1,659.9 1895.3,660.1 1905.5,661.0 1915.7,662.2 1925.9,664.0 1936.1,663.5 1946.3,665.3 1956.6,664.5 1966.8,665.0"/>
<polyline points="1630.0,677.8 1640.2,590.4 1650.4,497.8 1660.6,482.6 1670.8,471.8 1681.0,466.0 1691.2,459.0 1701.4,452.7 1711.6,458.4 1721.8,466.7 1732.0,477.1 1742.2,493.1 1752.4,516.0 1762.6,538.5 1772.8,562.1 1783.1,582.7 1793.3,601.1 1803.5,615.6 1813.7,628.1 1823.9,638.9 1834.1,644.7 1844.3,651.1 1854.5,654.8 1864.7,655.9 1874.9,659.5 1885.1,660.2 1895.3,661.6 1905.5,661.7 1915.7,663.0 1925.9,664.1 1936.1,663.2 1946.3,664.8 1956.6,666.0 1966.8,665.7"/>
<polyline points="1630.0,679.6 1640.2,590.5 1650.4,497.1 1660.6,482.9 1670.8,471.1 1681.0,462.7 1691.2,455.4 1701.4,453.0 1711.6,456.3 1721.8,465.2 1732.0,476.5 1742.2,492.7 1752.4,514.4 1762.6,538.3 1772.8,561.6 1783.1,582.6 1793.3,602.7 1803.5,615.9 1813.7,627.9 1823.9,637.8 1834.1,644.7 1844.3,649.5 1854.5,654.7 1864.7,657.1 1874.9,658.2 1885.1,661.0 1895.3,661.7 1905.5,661.5 1915.7,662.6 1925.9,662.7 1936.1,664.0 1946.3,664.1 1956.6,665.4 1966.8,666.1"/>
<polyline points="1630.0,679.4 1640.2,590.0 1650.4,496.6 1660.6,481.6 1670.8,470.3 1681.0,461.6 1691.2,455.6 1701.4,453.2 1711.6,458.1 1721.8,468.1 1732.0,482.4 1742.2,500.8 1752.4,522.4 1762.6,549.0 1772.8,570.7 1783.1,589.8 1793.3,607.1 1803.5,620.0 1813.7,632.1 1823.9,640.1 1834.1,646.5 1844.3,650.6 1854.5,655.5 1864.7,658.5 1874.9,659.8 1885.1,660.5 1895.3,660.7 1905.5,664.1 1915.7,663.0 1925.9,665.4 1936.1,663.8 1946.3,664.4 1956.6,664.8 1966.8,664.9"/>
<polyline points="1630.0,679.0 1640.2,589.1 1650.4,497.2 1660.6,480.0 1670.8,471.1 1681.0,464.0 1691.2,456.9 1701.4,454.2 1711.6,456.6 1721.8,463.6 1732.0,474.4 1742.2,490.6 1752.4,511.8 1762.6,537.3 1772.8,559.9 1783.1,580.6 1793.3,598.3 1803.5,615.2 1813.7,627.7 1823.9,636.1 1834.1,645.3 1844.3,650.4 1854.5,653.9 1864.7,657.6 1874.9,660.7 1885.1,660.6 1895.3,661.3 1905.5,661.7 1915.7,662.2 1925.9,663.5 1936.1,664.4 1946.3,665.1 1956.6,666.3 1966.8,665.7"/>
<polyline points="1630.0,681.0 1640.2,588.5 1650.4,495.0 1660.6,480.5 1670.8,470.0 1681.0,460.7 1691.2,453.6 1701.4,451.7 1711.6,453.1 1721.8,460.3 1732.0,470.4 1742.2,485.5 1752.4,504.2 1762.6,527.9 1772.8,552.7 1783.1,576.9 1793.3,592.7 1803.5,610.0 1813.7,622.6 1823.9,634.3 1834.1,642.1 1844.3,649.2 1854.5,652.6 1864.7,656.4 1874.9,657.6 1885.1,661.2 1895.3,661.6 1905.5,662.1 1915.7,661.1 1925.9,664.6 1936.1,663.9 1946.3,665.0 1956.6,664.6 1966.8,664.8"/>
</g>
<g fill="none" stroke="#5DCBD0" stroke-width="2.8" stroke-opacity="0.45" stroke-linejoin="round">
<polyline points="1630.0,681.6 1640.2,590.6 1650.4,492.9 1660.6,475.7 1670.8,465.8 1681.0,457.6 1691.2,452.0 1701.4,449.1 1711.6,447.7 1721.8,452.6 1732.0,454.4 1742.2,459.6 1752.4,465.7 1762.6,472.8 1772.8,480.2 1783.1,489.1 1793.3,499.6 1803.5,511.9 1813.7,524.8 1823.9,539.3 1834.1,555.8 1844.3,573.1 1854.5,589.6 1864.7,603.0 1874.9,615.2 1885.1,624.4 1895.3,634.4 1905.5,638.9 1915.7,645.2 1925.9,649.4 1936.1,651.5 1946.3,655.1 1956.6,656.9 1966.8,660.5"/>
<polyline points="1630.0,680.1 1640.2,593.1 1650.4,496.7 1660.6,479.6 1670.8,467.5 1681.0,457.7 1691.2,453.6 1701.4,450.3 1711.6,450.2 1721.8,451.1 1732.0,456.7 1742.2,462.4 1752.4,466.4 1762.6,472.9 1772.8,483.7 1783.1,491.3 1793.3,502.8 1803.5,512.0 1813.7,526.7 1823.9,543.6 1834.1,560.6 1844.3,577.6 1854.5,592.2 1864.7,605.3 1874.9,616.3 1885.1,626.1 1895.3,636.6 1905.5,641.1 1915.7,644.3 1925.9,648.3 1936.1,652.4 1946.3,655.1 1956.6,657.2 1966.8,659.0"/>
<polyline points="1630.0,680.6 1640.2,591.9 1650.4,496.6 1660.6,481.1 1670.8,467.7 1681.0,460.0 1691.2,455.6 1701.4,453.5 1711.6,450.1 1721.8,452.1 1732.0,455.1 1742.2,460.2 1752.4,466.5 1762.6,471.2 1772.8,480.5 1783.1,488.2 1793.3,500.0 1803.5,510.6 1813.7,523.3 1823.9,535.6 1834.1,554.4 1844.3,571.0 1854.5,584.9 1864.7,599.3 1874.9,610.7 1885.1,620.5 1895.3,630.8 1905.5,637.6 1915.7,644.8 1925.9,648.7 1936.1,651.2 1946.3,654.1 1956.6,657.3 1966.8,658.9"/>
<polyline points="1630.0,681.2 1640.2,589.8 1650.4,494.1 1660.6,475.8 1670.8,467.0 1681.0,457.3 1691.2,451.7 1701.4,449.3 1711.6,448.1 1721.8,449.2 1732.0,450.8 1742.2,456.8 1752.4,463.9 1762.6,469.8 1772.8,475.9 1783.1,485.0 1793.3,494.8 1803.5,506.2 1813.7,518.8 1823.9,535.0 1834.1,550.5 1844.3,568.8 1854.5,583.4 1864.7,598.7 1874.9,610.6 1885.1,620.8 1895.3,631.6 1905.5,636.8 1915.7,641.9 1925.9,648.6 1936.1,650.3 1946.3,652.9 1956.6,656.1 1966.8,657.2"/>
<polyline points="1630.0,681.0 1640.2,592.7 1650.4,499.0 1660.6,480.1 1670.8,468.7 1681.0,458.7 1691.2,453.5 1701.4,450.1 1711.6,448.9 1721.8,450.2 1732.0,453.1 1742.2,457.4 1752.4,462.0 1762.6,468.4 1772.8,477.5 1783.1,486.0 1793.3,496.2 1803.5,507.3 1813.7,519.5 1823.9,534.6 1834.1,551.3 1844.3,569.5 1854.5,583.1 1864.7,596.7 1874.9,611.5 1885.1,620.3 1895.3,630.4 1905.5,637.2 1915.7,643.2 1925.9,647.7 1936.1,650.6 1946.3,655.6 1956.6,655.7 1966.8,658.0"/>
<polyline points="1630.0,680.5 1640.2,590.7 1650.4,495.4 1660.6,477.0 1670.8,467.2 1681.0,457.3 1691.2,452.0 1701.4,451.0 1711.6,449.9 1721.8,450.9 1732.0,454.3 1742.2,459.8 1752.4,466.2 1762.6,469.7 1772.8,478.8 1783.1,490.3 1793.3,500.5 1803.5,511.0 1813.7,522.9 1823.9,537.4 1834.1,554.8 1844.3,572.9 1854.5,586.9 1864.7,600.4 1874.9,613.8 1885.1,623.5 1895.3,631.8 1905.5,638.8 1915.7,644.8 1925.9,648.1 1936.1,652.4 1946.3,653.5 1956.6,656.0 1966.8,659.3"/>
<polyline points="1630.0,681.0 1640.2,593.9 1650.4,499.5 1660.6,482.9 1670.8,472.0 1681.0,466.0 1691.2,460.3 1701.4,456.7 1711.6,455.0 1721.8,455.5 1732.0,458.2 1742.2,461.9 1752.4,467.8 1762.6,473.7 1772.8,482.2 1783.1,490.6 1793.3,496.9 1803.5,508.7 1813.7,521.3 1823.9,535.8 1834.1,551.0 1844.3,569.0 1854.5,582.5 1864.7,598.7 1874.9,611.2 1885.1,619.3 1895.3,632.1 1905.5,637.5 1915.7,644.3 1925.9,648.3 1936.1,650.8 1946.3,654.0 1956.6,655.8 1966.8,658.6"/>
<polyline points="1630.0,682.8 1640.2,591.4 1650.4,494.1 1660.6,477.4 1670.8,467.7 1681.0,459.0 1691.2,453.5 1701.4,452.6 1711.6,450.9 1721.8,457.7 1732.0,459.9 1742.2,466.6 1752.4,473.5 1762.6,480.4 1772.8,490.1 1783.1,498.0 1793.3,511.4 1803.5,522.0 1813.7,537.2 1823.9,555.5 1834.1,572.7 1844.3,586.3 1854.5,601.3 1864.7,613.9 1874.9,623.5 1885.1,633.5 1895.3,639.2 1905.5,644.7 1915.7,649.6 1925.9,651.6 1936.1,652.8 1946.3,655.0 1956.6,658.5 1966.8,659.7"/>
<polyline points="1630.0,681.5 1640.2,589.6 1650.4,492.4 1660.6,476.9 1670.8,467.9 1681.0,457.5 1691.2,453.0 1701.4,450.0 1711.6,447.8 1721.8,449.4 1732.0,453.3 1742.2,458.3 1752.4,462.1 1762.6,469.2 1772.8,475.0 1783.1,485.7 1793.3,494.3 1803.5,506.5 1813.7,517.0 1823.9,531.8 1834.1,546.7 1844.3,563.3 1854.5,580.7 1864.7,596.2 1874.9,606.8 1885.1,618.9 1895.3,628.0 1905.5,636.1 1915.7,640.4 1925.9,645.9 1936.1,649.4 1946.3,652.4 1956.6,656.3 1966.8,658.1"/>
<polyline points="1630.0,680.4 1640.2,592.5 1650.4,498.8 1660.6,478.1 1670.8,467.3 1681.0,459.6 1691.2,452.5 1701.4,449.8 1711.6,449.3 1721.8,453.2 1732.0,457.0 1742.2,461.5 1752.4,465.6 1762.6,473.9 1772.8,482.7 1783.1,492.7 1793.3,502.8 1803.5,513.3 1813.7,529.3 1823.9,544.9 1834.1,559.0 1844.3,576.1 1854.5,592.2 1864.7,603.9 1874.9,615.7 1885.1,627.7 1895.3,635.2 1905.5,639.3 1915.7,645.9 1925.9,649.4 1936.1,651.3 1946.3,655.2 1956.6,658.0 1966.8,659.6"/>
<polyline points="1630.0,679.3 1640.2,592.7 1650.4,500.5 1660.6,481.7 1670.8,470.6 1681.0,462.3 1691.2,456.6 1701.4,455.0 1711.6,453.9 1721.8,455.4 1732.0,458.7 1742.2,464.1 1752.4,468.7 1762.6,475.3 1772.8,482.9 1783.1,492.6 1793.3,502.3 1803.5,514.6 1813.7,527.0 1823.9,542.2 1834.1,557.8 1844.3,574.3 1854.5,588.6 1864.7,603.9 1874.9,612.4 1885.1,624.4 1895.3,632.3 1905.5,638.6 1915.7,646.7 1925.9,649.0 1936.1,650.4 1946.3,656.8 1956.6,656.0 1966.8,659.5"/>
<polyline points="1630.0,680.5 1640.2,591.5 1650.4,495.9 1660.6,476.7 1670.8,470.3 1681.0,463.1 1691.2,457.9 1701.4,455.7 1711.6,454.0 1721.8,455.0 1732.0,460.2 1742.2,464.4 1752.4,471.3 1762.6,474.8 1772.8,487.3 1783.1,494.5 1793.3,504.8 1803.5,516.1 1813.7,530.5 1823.9,545.0 1834.1,561.0 1844.3,577.0 1854.5,593.4 1864.7,606.2 1874.9,616.5 1885.1,625.2 1895.3,635.6 1905.5,641.1 1915.7,646.1 1925.9,647.1 1936.1,651.9 1946.3,655.1 1956.6,656.2 1966.8,657.0"/>
<polyline points="1630.0,681.4 1640.2,592.6 1650.4,496.8 1660.6,479.0 1670.8,467.4 1681.0,459.1 1691.2,453.9 1701.4,451.6 1711.6,451.2 1721.8,454.4 1732.0,459.9 1742.2,466.5 1752.4,475.4 1762.6,481.7 1772.8,491.2 1783.1,501.2 1793.3,513.2 1803.5,525.8 1813.7,540.7 1823.9,554.8 1834.1,573.4 1844.3,589.7 1854.5,603.0 1864.7,615.3 1874.9,624.3 1885.1,634.1 1895.3,639.6 1905.5,643.7 1915.7,648.0 1925.9,651.5 1936.1,653.5 1946.3,656.5 1956.6,659.6 1966.8,661.5"/>
<polyline points="1630.0,679.2 1640.2,592.4 1650.4,495.9 1660.6,476.8 1670.8,467.2 1681.0,457.7 1691.2,450.8 1701.4,448.9 1711.6,448.5 1721.8,452.8 1732.0,454.3 1742.2,460.1 1752.4,466.6 1762.6,473.5 1772.8,483.6 1783.1,492.0 1793.3,502.8 1803.5,513.1 1813.7,529.3 1823.9,542.2 1834.1,560.8 1844.3,576.2 1854.5,593.5 1864.7,605.4 1874.9,616.1 1885.1,626.4 1895.3,636.8 1905.5,640.9 1915.7,645.2 1925.9,650.6 1936.1,653.7 1946.3,654.9 1956.6,658.0 1966.8,658.6"/>
<polyline points="1630.0,678.6 1640.2,589.9 1650.4,493.8 1660.6,477.7 1670.8,467.1 1681.0,460.8 1691.2,454.1 1701.4,453.4 1711.6,454.5 1721.8,460.0 1732.0,463.6 1742.2,469.7 1752.4,475.1 1762.6,483.6 1772.8,494.4 1783.1,505.1 1793.3,515.7 1803.5,528.7 1813.7,545.7 1823.9,561.5 1834.1,578.5 1844.3,593.8 1854.5,605.7 1864.7,618.5 1874.9,627.9 1885.1,635.3 1895.3,640.9 1905.5,646.2 1915.7,649.7 1925.9,652.1 1936.1,655.6 1946.3,656.6 1956.6,658.9 1966.8,658.8"/>
<polyline points="1630.0,680.6 1640.2,588.5 1650.4,495.4 1660.6,476.9 1670.8,466.3 1681.0,460.5 1691.2,454.7 1701.4,451.6 1711.6,451.0 1721.8,452.5 1732.0,455.2 1742.2,458.0 1752.4,464.4 1762.6,471.1 1772.8,479.0 1783.1,489.8 1793.3,497.4 1803.5,509.0 1813.7,522.6 1823.9,536.2 1834.1,552.9 1844.3,570.4 1854.5,586.3 1864.7,600.1 1874.9,613.3 1885.1,621.6 1895.3,631.0 1905.5,637.9 1915.7,643.4 1925.9,648.3 1936.1,649.1 1946.3,655.6 1956.6,655.1 1966.8,657.9"/>
<polyline points="1630.0,682.6 1640.2,592.6 1650.4,499.4 1660.6,478.7 1670.8,467.5 1681.0,462.2 1691.2,454.6 1701.4,450.4 1711.6,450.2 1721.8,453.3 1732.0,457.7 1742.2,462.9 1752.4,468.9 1762.6,475.2 1772.8,486.0 1783.1,494.6 1793.3,508.0 1803.5,518.2 1813.7,533.9 1823.9,547.3 1834.1,563.7 1844.3,581.2 1854.5,597.5 1864.7,609.4 1874.9,619.8 1885.1,628.9 1895.3,636.0 1905.5,641.2 1915.7,649.4 1925.9,649.0 1936.1,653.7 1946.3,656.2 1956.6,656.4 1966.8,659.7"/>
<polyline points="1630.0,679.5 1640.2,589.4 1650.4,492.9 1660.6,473.9 1670.8,466.4 1681.0,457.6 1691.2,452.2 1701.4,449.5 1711.6,450.5 1721.8,454.1 1732.0,460.0 1742.2,466.2 1752.4,471.8 1762.6,480.9 1772.8,489.4 1783.1,499.7 1793.3,511.4 1803.5,524.4 1813.7,539.2 1823.9,554.4 1834.1,572.8 1844.3,588.9 1854.5,602.2 1864.7,613.9 1874.9,624.0 1885.1,633.2 1895.3,639.4 1905.5,644.1 1915.7,648.1 1925.9,651.1 1936.1,655.9 1946.3,657.5 1956.6,660.9 1966.8,659.1"/>
<polyline points="1630.0,679.1 1640.2,591.7 1650.4,497.7 1660.6,478.5 1670.8,467.7 1681.0,457.8 1691.2,452.1 1701.4,451.0 1711.6,449.0 1721.8,449.7 1732.0,453.3 1742.2,458.6 1752.4,463.3 1762.6,470.0 1772.8,476.1 1783.1,485.3 1793.3,494.7 1803.5,505.9 1813.7,516.9 1823.9,532.9 1834.1,547.1 1844.3,566.6 1854.5,581.1 1864.7,595.6 1874.9,609.7 1885.1,620.9 1895.3,628.2 1905.5,637.4 1915.7,641.2 1925.9,646.3 1936.1,650.1 1946.3,653.1 1956.6,654.7 1966.8,657.3"/>
<polyline points="1630.0,680.5 1640.2,590.1 1650.4,493.7 1660.6,476.3 1670.8,466.7 1681.0,456.7 1691.2,452.1 1701.4,448.6 1711.6,449.3 1721.8,450.0 1732.0,455.2 1742.2,456.8 1752.4,466.4 1762.6,472.5 1772.8,480.0 1783.1,489.2 1793.3,502.6 1803.5,512.0 1813.7,525.2 1823.9,541.9 1834.1,557.6 1844.3,575.4 1854.5,591.5 1864.7,604.2 1874.9,616.2 1885.1,626.4 1895.3,632.6 1905.5,640.3 1915.7,645.6 1925.9,648.2 1936.1,652.0 1946.3,653.6 1956.6,657.1 1966.8,658.6"/>
<polyline points="1630.0,681.0 1640.2,593.5 1650.4,499.4 1660.6,480.2 1670.8,468.2 1681.0,459.1 1691.2,452.8 1701.4,451.9 1711.6,449.7 1721.8,452.3 1732.0,456.6 1742.2,461.2 1752.4,469.1 1762.6,473.2 1772.8,482.4 1783.1,493.1 1793.3,502.4 1803.5,512.3 1813.7,527.6 1823.9,541.5 1834.1,559.4 1844.3,576.5 1854.5,592.1 1864.7,604.8 1874.9,615.2 1885.1,624.9 1895.3,635.4 1905.5,639.3 1915.7,645.3 1925.9,649.7 1936.1,651.7 1946.3,655.7 1956.6,658.3 1966.8,657.8"/>
<polyline points="1630.0,680.9 1640.2,590.7 1650.4,497.0 1660.6,478.5 1670.8,469.6 1681.0,463.4 1691.2,457.2 1701.4,453.5 1711.6,454.0 1721.8,454.9 1732.0,459.8 1742.2,462.9 1752.4,468.7 1762.6,473.1 1772.8,482.7 1783.1,492.3 1793.3,501.4 1803.5,514.6 1813.7,525.5 1823.9,541.4 1834.1,558.0 1844.3,573.1 1854.5,589.1 1864.7,601.6 1874.9,616.5 1885.1,624.1 1895.3,633.9 1905.5,639.7 1915.7,646.1 1925.9,647.9 1936.1,651.5 1946.3,655.5 1956.6,657.8 1966.8,659.4"/>
<polyline points="1630.0,680.1 1640.2,589.7 1650.4,493.2 1660.6,476.2 1670.8,466.4 1681.0,460.7 1691.2,453.7 1701.4,451.3 1711.6,450.2 1721.8,452.8 1732.0,457.8 1742.2,462.7 1752.4,467.7 1762.6,475.3 1772.8,485.2 1783.1,492.9 1793.3,503.3 1803.5,515.6 1813.7,529.4 1823.9,545.4 1834.1,562.0 1844.3,577.2 1854.5,592.7 1864.7,606.2 1874.9,617.9 1885.1,628.3 1895.3,635.5 1905.5,640.5 1915.7,645.0 1925.9,647.8 1936.1,652.2 1946.3,654.4 1956.6,658.2 1966.8,658.2"/>
<polyline points="1630.0,680.1 1640.2,588.4 1650.4,489.4 1660.6,472.0 1670.8,464.6 1681.0,458.1 1691.2,451.7 1701.4,449.1 1711.6,447.4 1721.8,447.9 1732.0,451.8 1742.2,455.3 1752.4,460.1 1762.6,467.5 1772.8,474.5 1783.1,484.6 1793.3,492.4 1803.5,502.7 1813.7,517.0 1823.9,530.0 1834.1,545.7 1844.3,564.4 1854.5,580.4 1864.7,595.9 1874.9,608.8 1885.1,618.7 1895.3,627.7 1905.5,636.3 1915.7,640.8 1925.9,646.4 1936.1,650.9 1946.3,651.7 1956.6,654.4 1966.8,658.1"/>
</g>
<g fill="none" stroke="#F97C71" stroke-width="2.8" stroke-opacity="0.45" stroke-linejoin="round">
<polyline points="1629.5,943.0 1639.7,827.4 1649.9,764.3 1660.1,749.1 1670.3,739.8 1680.5,729.8 1690.7,724.6 1700.9,723.9 1711.1,726.8 1721.3,735.4 1731.5,748.8 1741.7,768.2 1751.9,788.2 1762.2,812.5 1772.4,839.5 1782.6,862.6 1792.8,881.4 1803.0,894.5 1813.2,904.9 1823.4,912.6 1833.6,919.7 1843.8,923.4 1854.0,927.1 1864.2,928.9 1874.4,931.3 1884.6,932.3 1894.8,932.9 1905.0,934.1 1915.2,934.5 1925.4,934.2 1935.7,934.2 1945.9,935.4 1956.1,935.7 1966.3,935.2"/>
<polyline points="1629.5,944.2 1639.7,825.3 1649.9,764.9 1660.1,749.0 1670.3,738.6 1680.5,728.3 1690.7,723.4 1700.9,722.8 1711.1,726.7 1721.3,738.8 1731.5,756.1 1741.7,774.2 1751.9,796.2 1762.2,822.4 1772.4,848.0 1782.6,868.9 1792.8,886.7 1803.0,898.9 1813.2,908.3 1823.4,915.4 1833.6,922.5 1843.8,924.2 1854.0,929.3 1864.2,930.3 1874.4,930.9 1884.6,932.9 1894.8,933.7 1905.0,935.0 1915.2,934.6 1925.4,934.7 1935.7,934.7 1945.9,935.3 1956.1,935.2 1966.3,935.3"/>
<polyline points="1629.5,945.5 1639.7,827.5 1649.9,765.7 1660.1,749.9 1670.3,738.1 1680.5,728.2 1690.7,722.4 1700.9,720.7 1711.1,725.6 1721.3,737.5 1731.5,755.0 1741.7,773.2 1751.9,795.8 1762.2,822.8 1772.4,847.8 1782.6,869.2 1792.8,886.3 1803.0,898.7 1813.2,908.1 1823.4,915.2 1833.6,921.7 1843.8,925.2 1854.0,928.0 1864.2,930.5 1874.4,931.1 1884.6,932.6 1894.8,933.7 1905.0,933.9 1915.2,934.9 1925.4,934.7 1935.7,935.6 1945.9,935.8 1956.1,934.7 1966.3,935.8"/>
<polyline points="1629.5,947.8 1639.7,826.3 1649.9,765.0 1660.1,748.7 1670.3,740.2 1680.5,731.3 1690.7,726.7 1700.9,724.4 1711.1,726.4 1721.3,734.9 1731.5,747.3 1741.7,765.8 1751.9,785.3 1762.2,808.6 1772.4,834.4 1782.6,859.3 1792.8,877.5 1803.0,892.5 1813.2,903.6 1823.4,912.2 1833.6,918.7 1843.8,921.8 1854.0,926.5 1864.2,929.5 1874.4,930.2 1884.6,931.4 1894.8,932.8 1905.0,934.6 1915.2,934.1 1925.4,935.7 1935.7,934.0 1945.9,935.0 1956.1,935.5 1966.3,935.1"/>
<polyline points="1629.5,944.9 1639.7,824.7 1649.9,762.4 1660.1,746.6 1670.3,737.2 1680.5,729.3 1690.7,722.1 1700.9,720.6 1711.1,726.3 1721.3,738.5 1731.5,758.2 1741.7,776.7 1751.9,798.9 1762.2,827.2 1772.4,852.3 1782.6,872.4 1792.8,887.9 1803.0,901.1 1813.2,909.5 1823.4,916.7 1833.6,922.0 1843.8,925.5 1854.0,928.4 1864.2,929.8 1874.4,931.5 1884.6,932.7 1894.8,933.7 1905.0,933.6 1915.2,934.7 1925.4,934.1 1935.7,935.0 1945.9,935.1 1956.1,935.7 1966.3,935.7"/>
<polyline points="1629.5,945.7 1639.7,827.4 1649.9,766.1 1660.1,749.7 1670.3,740.6 1680.5,732.7 1690.7,725.7 1700.9,725.0 1711.1,728.3 1721.3,737.5 1731.5,752.6 1741.7,770.8 1751.9,792.3 1762.2,816.7 1772.4,843.4 1782.6,865.1 1792.8,883.3 1803.0,895.4 1813.2,907.3 1823.4,913.5 1833.6,921.0 1843.8,923.7 1854.0,928.3 1864.2,929.2 1874.4,931.1 1884.6,932.7 1894.8,933.4 1905.0,933.6 1915.2,934.1 1925.4,934.0 1935.7,934.6 1945.9,936.4 1956.1,935.5 1966.3,936.4"/>
<polyline points="1629.5,945.8 1639.7,828.0 1649.9,766.0 1660.1,750.9 1670.3,740.8 1680.5,731.3 1690.7,727.0 1700.9,725.1 1711.1,728.5 1721.3,736.7 1731.5,749.5 1741.7,766.8 1751.9,788.1 1762.2,811.8 1772.4,838.2 1782.6,862.5 1792.8,879.8 1803.0,893.1 1813.2,906.5 1823.4,913.6 1833.6,919.0 1843.8,924.3 1854.0,926.9 1864.2,929.9 1874.4,930.3 1884.6,931.7 1894.8,933.2 1905.0,933.4 1915.2,934.2 1925.4,934.4 1935.7,934.1 1945.9,934.6 1956.1,935.6 1966.3,935.8"/>
<polyline points="1629.5,945.2 1639.7,827.3 1649.9,765.9 1660.1,750.0 1670.3,739.3 1680.5,731.3 1690.7,723.7 1700.9,723.0 1711.1,726.8 1721.3,737.6 1731.5,753.0 1741.7,771.0 1751.9,793.1 1762.2,818.5 1772.4,844.9 1782.6,866.5 1792.8,884.1 1803.0,897.4 1813.2,906.1 1823.4,915.3 1833.6,920.8 1843.8,923.9 1854.0,927.6 1864.2,929.1 1874.4,931.6 1884.6,932.8 1894.8,933.1 1905.0,934.0 1915.2,933.5 1925.4,934.7 1935.7,934.9 1945.9,934.9 1956.1,935.4 1966.3,935.4"/>
<polyline points="1629.5,944.4 1639.7,828.8 1649.9,766.8 1660.1,750.7 1670.3,741.0 1680.5,731.4 1690.7,726.0 1700.9,722.9 1711.1,728.2 1721.3,737.1 1731.5,753.2 1741.7,770.3 1751.9,792.2 1762.2,817.0 1772.4,842.2 1782.6,865.1 1792.8,883.3 1803.0,896.8 1813.2,905.8 1823.4,913.3 1833.6,920.6 1843.8,924.4 1854.0,927.7 1864.2,929.5 1874.4,930.4 1884.6,932.8 1894.8,933.3 1905.0,934.2 1915.2,933.7 1925.4,933.9 1935.7,935.0 1945.9,934.9 1956.1,934.6 1966.3,935.6"/>
<polyline points="1629.5,944.8 1639.7,825.9 1649.9,765.1 1660.1,748.1 1670.3,738.6 1680.5,728.9 1690.7,724.5 1700.9,722.9 1711.1,725.1 1721.3,733.0 1731.5,745.7 1741.7,762.7 1751.9,783.0 1762.2,805.1 1772.4,831.7 1782.6,857.8 1792.8,876.8 1803.0,891.5 1813.2,904.2 1823.4,911.4 1833.6,918.3 1843.8,922.3 1854.0,927.0 1864.2,929.7 1874.4,931.3 1884.6,931.2 1894.8,932.5 1905.0,934.4 1915.2,934.9 1925.4,934.5 1935.7,934.4 1945.9,934.6 1956.1,935.1 1966.3,935.0"/>
<polyline points="1629.5,944.6 1639.7,825.9 1649.9,764.3 1660.1,747.3 1670.3,736.6 1680.5,729.1 1690.7,721.6 1700.9,719.7 1711.1,724.7 1721.3,737.2 1731.5,753.7 1741.7,771.9 1751.9,794.5 1762.2,820.5 1772.4,845.8 1782.6,867.8 1792.8,884.5 1803.0,898.7 1813.2,906.8 1823.4,914.4 1833.6,920.6 1843.8,925.0 1854.0,927.5 1864.2,929.9 1874.4,930.2 1884.6,932.0 1894.8,933.8 1905.0,934.1 1915.2,933.5 1925.4,934.3 1935.7,935.0 1945.9,935.0 1956.1,935.2 1966.3,935.8"/>
<polyline points="1629.5,944.2 1639.7,826.0 1649.9,764.6 1660.1,748.7 1670.3,739.0 1680.5,730.4 1690.7,724.8 1700.9,723.3 1711.1,728.0 1721.3,739.5 1731.5,756.9 1741.7,774.9 1751.9,796.3 1762.2,822.5 1772.4,847.6 1782.6,869.8 1792.8,885.3 1803.0,899.4 1813.2,908.1 1823.4,915.5 1833.6,920.9 1843.8,925.2 1854.0,929.0 1864.2,930.8 1874.4,931.4 1884.6,933.2 1894.8,933.2 1905.0,933.2 1915.2,935.5 1925.4,935.4 1935.7,934.8 1945.9,934.6 1956.1,935.2 1966.3,935.3"/>
<polyline points="1629.5,944.1 1639.7,827.6 1649.9,766.2 1660.1,749.9 1670.3,738.6 1680.5,728.9 1690.7,723.3 1700.9,721.0 1711.1,724.4 1721.3,733.7 1731.5,746.9 1741.7,764.4 1751.9,784.4 1762.2,809.1 1772.4,835.4 1782.6,860.3 1792.8,879.9 1803.0,892.8 1813.2,905.2 1823.4,912.7 1833.6,919.9 1843.8,922.4 1854.0,927.7 1864.2,929.5 1874.4,930.0 1884.6,931.6 1894.8,934.0 1905.0,933.8 1915.2,934.4 1925.4,934.8 1935.7,934.5 1945.9,935.3 1956.1,935.4 1966.3,934.7"/>
<polyline points="1629.5,945.8 1639.7,826.0 1649.9,762.5 1660.1,747.7 1670.3,737.6 1680.5,729.5 1690.7,724.1 1700.9,722.8 1711.1,726.4 1721.3,737.8 1731.5,754.4 1741.7,771.3 1751.9,793.6 1762.2,818.8 1772.4,845.6 1782.6,866.7 1792.8,883.4 1803.0,897.4 1813.2,908.1 1823.4,914.7 1833.6,921.0 1843.8,924.5 1854.0,928.3 1864.2,929.4 1874.4,931.3 1884.6,932.3 1894.8,933.7 1905.0,933.8 1915.2,933.9 1925.4,935.0 1935.7,934.6 1945.9,935.6 1956.1,935.5 1966.3,935.6"/>
<polyline points="1629.5,946.0 1639.7,825.1 1649.9,763.1 1660.1,748.2 1670.3,738.5 1680.5,728.6 1690.7,723.9 1700.9,721.4 1711.1,726.2 1721.3,738.2 1731.5,754.4 1741.7,773.4 1751.9,795.8 1762.2,823.2 1772.4,847.8 1782.6,869.4 1792.8,886.1 1803.0,898.7 1813.2,909.2 1823.4,915.4 1833.6,921.3 1843.8,925.4 1854.0,927.6 1864.2,930.5 1874.4,931.2 1884.6,932.6 1894.8,934.5 1905.0,934.6 1915.2,934.9 1925.4,934.4 1935.7,934.5 1945.9,934.9 1956.1,935.2 1966.3,936.5"/>
<polyline points="1629.5,943.4 1639.7,823.4 1649.9,759.9 1660.1,746.1 1670.3,736.7 1680.5,730.0 1690.7,722.7 1700.9,722.2 1711.1,725.9 1721.3,737.9 1731.5,754.2 1741.7,772.1 1751.9,794.6 1762.2,820.1 1772.4,846.3 1782.6,867.2 1792.8,885.2 1803.0,897.7 1813.2,906.7 1823.4,916.2 1833.6,921.6 1843.8,924.8 1854.0,927.8 1864.2,930.0 1874.4,930.9 1884.6,932.9 1894.8,933.1 1905.0,934.5 1915.2,934.0 1925.4,936.2 1935.7,935.9 1945.9,934.3 1956.1,935.2 1966.3,935.9"/>
<polyline points="1629.5,945.1 1639.7,825.9 1649.9,765.3 1660.1,747.9 1670.3,738.3 1680.5,728.5 1690.7,722.9 1700.9,722.4 1711.1,724.8 1721.3,732.2 1731.5,743.9 1741.7,762.2 1751.9,782.3 1762.2,804.9 1772.4,832.2 1782.6,856.3 1792.8,875.9 1803.0,891.3 1813.2,904.6 1823.4,910.6 1833.6,918.4 1843.8,922.9 1854.0,926.5 1864.2,929.7 1874.4,930.6 1884.6,933.0 1894.8,933.3 1905.0,934.1 1915.2,933.2 1925.4,934.4 1935.7,935.0 1945.9,935.0 1956.1,934.9 1966.3,935.8"/>
<polyline points="1629.5,944.6 1639.7,824.9 1649.9,761.4 1660.1,747.4 1670.3,734.5 1680.5,727.6 1690.7,720.9 1700.9,720.3 1711.1,724.2 1721.3,736.0 1731.5,752.2 1741.7,770.9 1751.9,791.6 1762.2,818.5 1772.4,843.7 1782.6,866.2 1792.8,884.1 1803.0,897.2 1813.2,907.2 1823.4,914.7 1833.6,920.8 1843.8,924.4 1854.0,928.6 1864.2,930.3 1874.4,931.4 1884.6,932.4 1894.8,932.7 1905.0,933.1 1915.2,934.2 1925.4,934.3 1935.7,934.9 1945.9,934.6 1956.1,935.2 1966.3,935.3"/>
<polyline points="1629.5,945.8 1639.7,826.8 1649.9,764.2 1660.1,747.1 1670.3,737.9 1680.5,730.0 1690.7,721.9 1700.9,720.5 1711.1,725.3 1721.3,735.1 1731.5,750.2 1741.7,769.1 1751.9,789.6 1762.2,814.7 1772.4,841.1 1782.6,864.9 1792.8,882.7 1803.0,896.1 1813.2,906.1 1823.4,914.1 1833.6,919.7 1843.8,923.9 1854.0,928.8 1864.2,928.7 1874.4,930.8 1884.6,932.5 1894.8,933.3 1905.0,934.7 1915.2,934.2 1925.4,936.0 1935.7,935.5 1945.9,934.4 1956.1,934.7 1966.3,935.6"/>
<polyline points="1629.5,944.5 1639.7,829.2 1649.9,767.7 1660.1,752.7 1670.3,739.6 1680.5,731.8 1690.7,725.6 1700.9,723.9 1711.1,725.8 1721.3,733.8 1731.5,746.2 1741.7,763.8 1751.9,784.1 1762.2,807.3 1772.4,835.1 1782.6,859.7 1792.8,878.4 1803.0,891.8 1813.2,904.4 1823.4,911.6 1833.6,918.6 1843.8,923.1 1854.0,927.1 1864.2,929.9 1874.4,931.4 1884.6,931.2 1894.8,932.8 1905.0,934.4 1915.2,934.3 1925.4,934.4 1935.7,934.1 1945.9,935.4 1956.1,935.2 1966.3,934.8"/>
</g>
<g fill="none" stroke="#5DCBD0" stroke-width="2.8" stroke-opacity="0.45" stroke-linejoin="round">
<polyline points="1629.5,945.4 1639.7,825.2 1649.9,762.3 1660.1,748.0 1670.3,738.0 1680.5,730.0 1690.7,724.7 1700.9,722.4 1711.1,726.5 1721.3,734.5 1731.5,745.6 1741.7,761.7 1751.9,781.3 1762.2,801.6 1772.4,823.0 1782.6,843.4 1792.8,861.8 1803.0,879.1 1813.2,891.7 1823.4,900.7 1833.6,908.6 1843.8,915.0 1854.0,919.9 1864.2,924.4 1874.4,926.5 1884.6,928.5 1894.8,930.5 1905.0,931.9 1915.2,932.4 1925.4,934.0 1935.7,933.7 1945.9,934.4 1956.1,934.2 1966.3,935.1"/>
<polyline points="1629.5,945.5 1639.7,826.4 1649.9,763.3 1660.1,748.6 1670.3,738.7 1680.5,730.7 1690.7,727.1 1700.9,723.5 1711.1,723.6 1721.3,726.5 1731.5,734.2 1741.7,744.3 1751.9,759.5 1762.2,779.0 1772.4,799.0 1782.6,819.5 1792.8,839.9 1803.0,859.9 1813.2,877.4 1823.4,889.1 1833.6,900.0 1843.8,908.1 1854.0,913.6 1864.2,918.8 1874.4,924.3 1884.6,926.6 1894.8,929.0 1905.0,930.8 1915.2,932.4 1925.4,932.0 1935.7,932.9 1945.9,933.6 1956.1,934.4 1966.3,934.5"/>
<polyline points="1629.5,945.2 1639.7,827.9 1649.9,767.0 1660.1,750.7 1670.3,739.1 1680.5,731.6 1690.7,724.8 1700.9,723.2 1711.1,726.3 1721.3,735.8 1731.5,748.7 1741.7,765.2 1751.9,784.6 1762.2,804.4 1772.4,825.1 1782.6,846.5 1792.8,863.8 1803.0,881.1 1813.2,893.4 1823.4,902.0 1833.6,910.4 1843.8,916.2 1854.0,920.8 1864.2,924.6 1874.4,927.3 1884.6,930.5 1894.8,930.4 1905.0,931.9 1915.2,932.1 1925.4,933.2 1935.7,933.6 1945.9,934.2 1956.1,934.1 1966.3,935.3"/>
<polyline points="1629.5,945.1 1639.7,829.6 1649.9,767.3 1660.1,752.5 1670.3,743.5 1680.5,735.3 1690.7,728.7 1700.9,727.5 1711.1,729.9 1721.3,736.0 1731.5,743.9 1741.7,758.8 1751.9,777.2 1762.2,797.9 1772.4,816.8 1782.6,836.6 1792.8,857.3 1803.0,873.2 1813.2,886.8 1823.4,899.0 1833.6,906.7 1843.8,914.6 1854.0,918.2 1864.2,922.6 1874.4,925.6 1884.6,929.1 1894.8,930.6 1905.0,932.0 1915.2,933.1 1925.4,933.9 1935.7,934.5 1945.9,934.2 1956.1,934.3 1966.3,934.7"/>
<polyline points="1629.5,944.2 1639.7,825.8 1649.9,762.6 1660.1,747.8 1670.3,738.5 1680.5,731.1 1690.7,723.8 1700.9,723.0 1711.1,725.5 1721.3,735.0 1731.5,745.1 1741.7,761.6 1751.9,781.7 1762.2,801.9 1772.4,822.9 1782.6,842.9 1792.8,861.9 1803.0,877.8 1813.2,891.8 1823.4,900.3 1833.6,909.2 1843.8,915.1 1854.0,919.4 1864.2,923.9 1874.4,926.5 1884.6,929.4 1894.8,930.5 1905.0,931.5 1915.2,932.0 1925.4,934.1 1935.7,934.1 1945.9,934.9 1956.1,935.2 1966.3,935.5"/>
<polyline points="1629.5,945.8 1639.7,826.2 1649.9,761.8 1660.1,745.7 1670.3,736.5 1680.5,727.6 1690.7,723.1 1700.9,721.6 1711.1,722.2 1721.3,725.1 1731.5,731.8 1741.7,742.2 1751.9,759.3 1762.2,778.4 1772.4,798.9 1782.6,819.4 1792.8,840.7 1803.0,860.9 1813.2,876.9 1823.4,889.8 1833.6,899.8 1843.8,908.8 1854.0,914.8 1864.2,920.3 1874.4,924.8 1884.6,926.6 1894.8,929.3 1905.0,930.1 1915.2,930.7 1925.4,932.5 1935.7,932.5 1945.9,934.1 1956.1,933.8 1966.3,935.3"/>
<polyline points="1629.5,944.2 1639.7,828.8 1649.9,768.1 1660.1,751.1 1670.3,740.4 1680.5,731.0 1690.7,725.0 1700.9,723.1 1711.1,725.5 1721.3,734.2 1731.5,743.8 1741.7,760.9 1751.9,778.2 1762.2,799.7 1772.4,819.2 1782.6,840.5 1792.8,859.7 1803.0,877.0 1813.2,889.3 1823.4,899.9 1833.6,907.3 1843.8,914.3 1854.0,919.0 1864.2,923.0 1874.4,926.7 1884.6,928.3 1894.8,930.4 1905.0,932.1 1915.2,932.2 1925.4,933.4 1935.7,932.9 1945.9,934.4 1956.1,934.6 1966.3,934.9"/>
<polyline points="1629.5,943.4 1639.7,827.8 1649.9,766.6 1660.1,750.1 1670.3,740.7 1680.5,731.7 1690.7,726.6 1700.9,724.8 1711.1,726.6 1721.3,733.5 1731.5,740.1 1741.7,756.7 1751.9,774.0 1762.2,793.8 1772.4,814.8 1782.6,834.9 1792.8,855.0 1803.0,872.3 1813.2,886.4 1823.4,897.0 1833.6,905.4 1843.8,914.0 1854.0,918.2 1864.2,922.2 1874.4,926.0 1884.6,928.2 1894.8,930.1 1905.0,930.9 1915.2,932.2 1925.4,933.2 1935.7,934.1 1945.9,933.9 1956.1,935.0 1966.3,934.1"/>
<polyline points="1629.5,944.8 1639.7,826.4 1649.9,763.8 1660.1,748.3 1670.3,738.4 1680.5,728.4 1690.7,723.5 1700.9,721.0 1711.1,724.2 1721.3,731.6 1731.5,740.9 1741.7,758.6 1751.9,776.6 1762.2,797.3 1772.4,818.3 1782.6,838.6 1792.8,859.4 1803.0,875.4 1813.2,888.8 1823.4,899.8 1833.6,906.6 1843.8,913.9 1854.0,918.4 1864.2,924.3 1874.4,926.3 1884.6,929.1 1894.8,930.0 1905.0,930.7 1915.2,933.3 1925.4,933.3 1935.7,933.8 1945.9,933.7 1956.1,934.6 1966.3,935.7"/>
<polyline points="1629.5,944.7 1639.7,827.5 1649.9,766.4 1660.1,748.6 1670.3,739.7 1680.5,731.3 1690.7,726.5 1700.9,724.8 1711.1,728.2 1721.3,736.7 1731.5,748.1 1741.7,764.7 1751.9,785.3 1762.2,804.7 1772.4,825.3 1782.6,846.2 1792.8,864.3 1803.0,881.0 1813.2,893.4 1823.4,902.8 1833.6,910.2 1843.8,915.5 1854.0,921.3 1864.2,925.3 1874.4,926.8 1884.6,931.0 1894.8,929.8 1905.0,931.9 1915.2,932.4 1925.4,932.5 1935.7,934.6 1945.9,934.8 1956.1,933.7 1966.3,935.3"/>
<polyline points="1629.5,943.5 1639.7,827.7 1649.9,765.4 1660.1,748.8 1670.3,737.6 1680.5,728.6 1690.7,721.6 1700.9,720.9 1711.1,722.9 1721.3,729.5 1731.5,738.1 1741.7,754.9 1751.9,773.5 1762.2,793.9 1772.4,814.4 1782.6,835.0 1792.8,855.8 1803.0,873.5 1813.2,887.1 1823.4,897.6 1833.6,905.5 1843.8,914.2 1854.0,918.3 1864.2,923.6 1874.4,926.0 1884.6,926.6 1894.8,930.1 1905.0,931.3 1915.2,932.5 1925.4,933.8 1935.7,934.6 1945.9,934.1 1956.1,934.7 1966.3,934.2"/>
<polyline points="1629.5,946.6 1639.7,826.8 1649.9,762.2 1660.1,745.9 1670.3,737.1 1680.5,728.0 1690.7,722.8 1700.9,719.9 1711.1,722.0 1721.3,729.5 1731.5,737.5 1741.7,753.1 1751.9,770.7 1762.2,792.4 1772.4,812.4 1782.6,833.6 1792.8,853.7 1803.0,870.8 1813.2,885.5 1823.4,896.5 1833.6,905.7 1843.8,913.3 1854.0,918.2 1864.2,922.4 1874.4,925.5 1884.6,928.2 1894.8,930.6 1905.0,931.1 1915.2,932.3 1925.4,932.8 1935.7,933.7 1945.9,933.5 1956.1,934.4 1966.3,935.8"/>
<polyline points="1629.5,943.4 1639.7,826.9 1649.9,765.5 1660.1,749.9 1670.3,738.6 1680.5,729.0 1690.7,723.5 1700.9,720.8 1711.1,725.3 1721.3,734.3 1731.5,748.2 1741.7,764.9 1751.9,786.0 1762.2,806.4 1772.4,827.0 1782.6,848.5 1792.8,865.7 1803.0,881.7 1813.2,894.3 1823.4,903.2 1833.6,909.1 1843.8,916.0 1854.0,920.6 1864.2,923.9 1874.4,926.9 1884.6,929.6 1894.8,930.4 1905.0,932.2 1915.2,932.5 1925.4,934.2 1935.7,933.7 1945.9,934.1 1956.1,935.6 1966.3,934.3"/>
<polyline points="1629.5,944.4 1639.7,826.4 1649.9,765.2 1660.1,749.1 1670.3,739.9 1680.5,730.9 1690.7,725.7 1700.9,723.6 1711.1,725.0 1721.3,730.9 1731.5,738.6 1741.7,753.0 1751.9,769.0 1762.2,788.8 1772.4,809.8 1782.6,830.0 1792.8,850.6 1803.0,868.9 1813.2,884.1 1823.4,895.9 1833.6,904.0 1843.8,912.0 1854.0,916.4 1864.2,922.1 1874.4,926.1 1884.6,927.3 1894.8,930.1 1905.0,931.0 1915.2,930.7 1925.4,932.2 1935.7,933.2 1945.9,933.5 1956.1,934.3 1966.3,934.4"/>
<polyline points="1629.5,943.2 1639.7,827.8 1649.9,764.3 1660.1,749.6 1670.3,739.3 1680.5,731.4 1690.7,724.5 1700.9,723.0 1711.1,726.7 1721.3,735.1 1731.5,746.5 1741.7,763.0 1751.9,782.6 1762.2,801.4 1772.4,823.1 1782.6,844.2 1792.8,863.6 1803.0,880.7 1813.2,891.7 1823.4,900.4 1833.6,909.8 1843.8,915.5 1854.0,920.8 1864.2,923.6 1874.4,926.6 1884.6,929.1 1894.8,929.9 1905.0,930.7 1915.2,932.1 1925.4,933.7 1935.7,934.5 1945.9,934.7 1956.1,935.5 1966.3,934.2"/>
<polyline points="1629.5,942.8 1639.7,824.4 1649.9,761.2 1660.1,746.7 1670.3,739.1 1680.5,729.5 1690.7,724.6 1700.9,722.1 1711.1,724.5 1721.3,731.8 1731.5,739.8 1741.7,756.9 1751.9,774.5 1762.2,794.8 1772.4,815.6 1782.6,835.9 1792.8,856.7 1803.0,873.0 1813.2,887.7 1823.4,899.0 1833.6,906.3 1843.8,913.2 1854.0,918.6 1864.2,923.3 1874.4,926.0 1884.6,928.4 1894.8,930.3 1905.0,931.0 1915.2,933.1 1925.4,932.5 1935.7,933.4 1945.9,934.5 1956.1,933.8 1966.3,934.7"/>
<polyline points="1629.5,944.6 1639.7,824.4 1649.9,761.2 1660.1,746.1 1670.3,736.3 1680.5,728.7 1690.7,721.0 1700.9,719.5 1711.1,723.8 1721.3,732.0 1731.5,746.0 1741.7,762.7 1751.9,783.2 1762.2,803.5 1772.4,823.9 1782.6,845.5 1792.8,864.6 1803.0,880.1 1813.2,892.6 1823.4,901.8 1833.6,908.9 1843.8,916.4 1854.0,920.3 1864.2,925.3 1874.4,927.2 1884.6,929.3 1894.8,930.1 1905.0,932.3 1915.2,932.3 1925.4,933.0 1935.7,933.9 1945.9,933.1 1956.1,934.7 1966.3,935.6"/>
<polyline points="1629.5,943.8 1639.7,824.7 1649.9,761.0 1660.1,744.6 1670.3,736.7 1680.5,728.5 1690.7,722.6 1700.9,720.1 1711.1,725.9 1721.3,734.7 1731.5,750.2 1741.7,767.8 1751.9,788.6 1762.2,808.4 1772.4,830.0 1782.6,850.5 1792.8,868.1 1803.0,884.3 1813.2,896.2 1823.4,902.7 1833.6,912.1 1843.8,917.5 1854.0,921.8 1864.2,925.4 1874.4,928.3 1884.6,930.0 1894.8,930.9 1905.0,931.9 1915.2,932.7 1925.4,934.4 1935.7,934.7 1945.9,934.0 1956.1,935.1 1966.3,934.6"/>
<polyline points="1629.5,945.6 1639.7,825.9 1649.9,762.6 1660.1,748.3 1670.3,738.0 1680.5,729.3 1690.7,722.8 1700.9,722.7 1711.1,726.2 1721.3,735.0 1731.5,749.0 1741.7,765.8 1751.9,785.5 1762.2,805.9 1772.4,827.2 1782.6,847.9 1792.8,866.4 1803.0,882.0 1813.2,893.5 1823.4,902.1 1833.6,911.1 1843.8,916.8 1854.0,921.4 1864.2,924.3 1874.4,927.2 1884.6,929.6 1894.8,930.5 1905.0,931.6 1915.2,932.9 1925.4,934.0 1935.7,934.2 1945.9,934.3 1956.1,934.6 1966.3,935.4"/>
<polyline points="1629.5,944.5 1639.7,828.2 1649.9,766.4 1660.1,750.2 1670.3,740.6 1680.5,730.6 1690.7,726.5 1700.9,723.7 1711.1,724.5 1721.3,729.9 1731.5,737.0 1741.7,749.6 1751.9,767.0 1762.2,786.5 1772.4,807.1 1782.6,826.6 1792.8,847.7 1803.0,865.8 1813.2,881.2 1823.4,894.1 1833.6,902.7 1843.8,910.5 1854.0,916.4 1864.2,920.3 1874.4,924.3 1884.6,926.8 1894.8,929.7 1905.0,930.9 1915.2,931.9 1925.4,933.0 1935.7,934.3 1945.9,933.7 1956.1,933.9 1966.3,934.8"/>
<polyline points="1629.5,944.4 1639.7,826.3 1649.9,762.2 1660.1,746.9 1670.3,738.2 1680.5,730.1 1690.7,724.7 1700.9,722.1 1711.1,724.3 1721.3,731.3 1731.5,741.2 1741.7,756.8 1751.9,775.0 1762.2,795.1 1772.4,816.2 1782.6,836.7 1792.8,856.7 1803.0,874.7 1813.2,887.7 1823.4,899.4 1833.6,907.5 1843.8,914.3 1854.0,919.3 1864.2,922.9 1874.4,925.5 1884.6,928.7 1894.8,930.3 1905.0,931.3 1915.2,932.4 1925.4,933.2 1935.7,933.5 1945.9,934.3 1956.1,934.9 1966.3,935.2"/>
<polyline points="1629.5,944.9 1639.7,827.6 1649.9,764.8 1660.1,747.7 1670.3,737.3 1680.5,728.0 1690.7,720.6 1700.9,719.5 1711.1,722.8 1721.3,731.5 1731.5,740.9 1741.7,757.7 1751.9,776.9 1762.2,798.5 1772.4,818.5 1782.6,839.7 1792.8,859.1 1803.0,876.0 1813.2,889.7 1823.4,899.4 1833.6,907.2 1843.8,914.4 1854.0,919.3 1864.2,924.2 1874.4,926.6 1884.6,929.5 1894.8,929.9 1905.0,931.3 1915.2,933.0 1925.4,933.3 1935.7,934.3 1945.9,935.7 1956.1,934.0 1966.3,934.5"/>
<polyline points="1629.5,945.1 1639.7,827.4 1649.9,764.6 1660.1,749.1 1670.3,738.9 1680.5,730.2 1690.7,724.4 1700.9,721.7 1711.1,726.1 1721.3,733.3 1731.5,746.3 1741.7,761.7 1751.9,780.8 1762.2,801.2 1772.4,822.0 1782.6,842.1 1792.8,862.5 1803.0,879.0 1813.2,891.0 1823.4,901.0 1833.6,909.1 1843.8,914.6 1854.0,920.2 1864.2,924.3 1874.4,926.8 1884.6,929.4 1894.8,930.4 1905.0,931.6 1915.2,932.4 1925.4,933.3 1935.7,933.6 1945.9,933.6 1956.1,935.1 1966.3,934.3"/>
<polyline points="1629.5,945.0 1639.7,823.7 1649.9,761.0 1660.1,746.5 1670.3,737.1 1680.5,730.1 1690.7,723.3 1700.9,721.4 1711.1,724.0 1721.3,730.6 1731.5,738.1 1741.7,754.2 1751.9,770.7 1762.2,791.1 1772.4,812.0 1782.6,832.3 1792.8,853.6 1803.0,870.0 1813.2,884.5 1823.4,897.4 1833.6,904.7 1843.8,912.1 1854.0,917.3 1864.2,922.6 1874.4,925.9 1884.6,927.6 1894.8,929.1 1905.0,931.5 1915.2,932.0 1925.4,933.4 1935.7,933.7 1945.9,933.9 1956.1,934.5 1966.3,935.2"/>
</g>
<line x1="1167.3" y1="160.3" x2="1167.3" y2="405.2" stroke="#000" stroke-width="2.6"/>
<line x1="1167.3" y1="430.2" x2="1167.3" y2="674.5" stroke="#000" stroke-width="2.6"/>
<line x1="1167.3" y1="697.2" x2="1167.3" y2="951.0" stroke="#000" stroke-width="2.6"/>
<line x1="1166.1" y1="950.2" x2="1542" y2="950.2" stroke="#000" stroke-width="2.6"/>
<line x1="1182.7" y1="951" x2="1182.7" y2="958" stroke="#333" stroke-width="2"/>
<text x="1175.1" y="988.5" font-size="24" textLength="14.0" lengthAdjust="spacingAndGlyphs">0</text>
<line x1="1263.7" y1="951" x2="1263.7" y2="958" stroke="#333" stroke-width="2"/>
<text x="1249.1" y="988.5" font-size="24" textLength="28.0" lengthAdjust="spacingAndGlyphs">50</text>
<line x1="1344.7" y1="951" x2="1344.7" y2="958" stroke="#333" stroke-width="2"/>
<text x="1323.1" y="988.5" font-size="24" textLength="42.0" lengthAdjust="spacingAndGlyphs">100</text>
<line x1="1425.7" y1="951" x2="1425.7" y2="958" stroke="#333" stroke-width="2"/>
<text x="1404.1" y="988.5" font-size="24" textLength="42.0" lengthAdjust="spacingAndGlyphs">150</text>
<line x1="1506.7" y1="951" x2="1506.7" y2="958" stroke="#333" stroke-width="2"/>
<text x="1485.1" y="988.5" font-size="24" textLength="42.0" lengthAdjust="spacingAndGlyphs">200</text>
<text x="1294.0" y="1030.7" font-size="25" textLength="118.5" lengthAdjust="spacingAndGlyphs">Time (min)</text>
<line x1="1616.6" y1="149.0" x2="1616.6" y2="404.3" stroke="#000" stroke-width="2.6"/>
<line x1="1616.6" y1="421.7" x2="1616.6" y2="678.0" stroke="#000" stroke-width="2.6"/>
<line x1="1616.6" y1="695.5" x2="1616.6" y2="951.0" stroke="#000" stroke-width="2.6"/>
<line x1="1615.4" y1="950.2" x2="1992" y2="950.2" stroke="#000" stroke-width="2.6"/>
<line x1="1633.2" y1="951" x2="1633.2" y2="958" stroke="#333" stroke-width="2"/>
<text x="1625.6" y="988.5" font-size="24" textLength="14.0" lengthAdjust="spacingAndGlyphs">0</text>
<line x1="1714.2" y1="951" x2="1714.2" y2="958" stroke="#333" stroke-width="2"/>
<text x="1699.6" y="988.5" font-size="24" textLength="28.0" lengthAdjust="spacingAndGlyphs">50</text>
<line x1="1795.2" y1="951" x2="1795.2" y2="958" stroke="#333" stroke-width="2"/>
<text x="1773.6" y="988.5" font-size="24" textLength="42.0" lengthAdjust="spacingAndGlyphs">100</text>
<line x1="1876.2" y1="951" x2="1876.2" y2="958" stroke="#333" stroke-width="2"/>
<text x="1854.6" y="988.5" font-size="24" textLength="42.0" lengthAdjust="spacingAndGlyphs">150</text>
<line x1="1957.2" y1="951" x2="1957.2" y2="958" stroke="#333" stroke-width="2"/>
<text x="1935.6" y="988.5" font-size="24" textLength="42.0" lengthAdjust="spacingAndGlyphs">200</text>
<text x="1744.5" y="1030.7" font-size="25" textLength="118.5" lengthAdjust="spacingAndGlyphs">Time (min)</text>
<circle cx="1179" cy="146.2" r="4.1" fill="#000"/>
<text x="1191.0" y="155.1" font-size="24">10</text>
<text x="1218.4" y="142.5" font-size="17.5">4</text>
<text x="1303.8" y="148.8" font-size="24" textLength="120.6" lengthAdjust="spacingAndGlyphs">p-STAT1/1</text>
<circle cx="1624.2" cy="144.9" r="4.0" fill="#000"/>
<text x="1635.8" y="151.4" font-size="24">10</text>
<text x="1663.6" y="143.2" font-size="17.5">4</text>
<text x="1723.6" y="144.8" font-size="24" textLength="121.3" lengthAdjust="spacingAndGlyphs">p-STAT1/2</text>
<text x="1042.6" y="285.0" font-size="24" transform="rotate(-90 1079.6 285.0)" textLength="74.1" lengthAdjust="spacingAndGlyphs"><tspan font-style="italic" font-family="'Liberation Serif', serif">δ</tspan> = 0.1</text>
<text x="1042.9" y="551.2" font-size="24" transform="rotate(-90 1079.9 551.2)" textLength="74.1" lengthAdjust="spacingAndGlyphs"><tspan font-style="italic" font-family="'Liberation Serif', serif">δ</tspan> = 0.5</text>
<text x="1044.0" y="826.0" font-size="24" transform="rotate(-90 1081.0 826.0)" textLength="74.1" lengthAdjust="spacingAndGlyphs"><tspan font-style="italic" font-family="'Liberation Serif', serif">δ</tspan> = 0.9</text>
<text x="956.3" y="551.6" font-size="24" transform="rotate(-90 1032.3 551.6)" textLength="152.0" lengthAdjust="spacingAndGlyphs">Copy number</text>
<rect x="1317.2" y="23.6" width="62.4" height="56.3" fill="#e0e0e0"/>
<rect x="1323.3" y="30.8" width="50.1" height="10.5" fill="#FA7E73"/>
<rect x="1323.3" y="62.3" width="50.1" height="10.7" fill="#5ECCD1"/>
<text x="1393.4" y="45.5" font-size="24" xml:space="preserve" textLength="389.1" lengthAdjust="spacingAndGlyphs">IFN-<tspan font-style="italic" font-family="'Liberation Serif', serif">α</tspan> = 5 ng/ml,  IFN- <tspan font-family="'Liberation Serif', serif">λ</tspan>1 = 0 ng/ml</text>
<text x="1393.4" y="75.1" font-size="24" xml:space="preserve" textLength="409.0" lengthAdjust="spacingAndGlyphs">IFN-<tspan font-style="italic" font-family="'Liberation Serif', serif">α</tspan> = 0 ng/ml,  IFN-<tspan font-family="'Liberation Serif', serif">λ</tspan>1 = 250 ng/ml</text>
<text x="1009.5" y="31.8" font-size="42" font-weight="bold">b</text>
</svg>
</body></html>
